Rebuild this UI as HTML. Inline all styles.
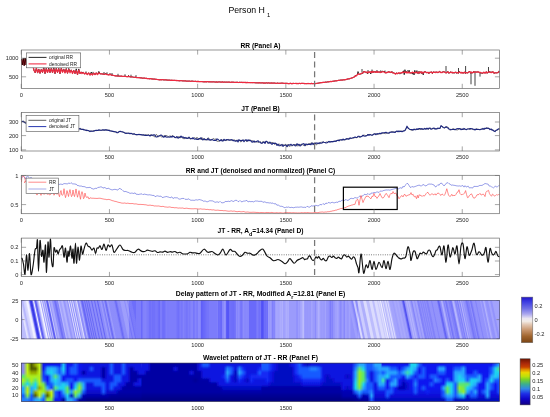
<!DOCTYPE html>
<html><head><meta charset="utf-8"><title>Person H1</title>
<style>html,body{margin:0;padding:0;background:#fff;} svg{display:block;}</style></head>
<body>
<svg width="550" height="417" viewBox="0 0 550 417">
<rect width="550" height="417" fill="#fff"/>
<text x="228.4" y="12.7" font-family="Liberation Sans, Arial, sans-serif" font-size="8.76" fill="#000">Person H<tspan font-size="5.9" dx="2.2" dy="4.4">1</tspan></text>
<polyline points="21.50,59.00 22.30,65.00 23.30,58.50 24.20,65.50 25.20,58.00 26.20,65.00 27.20,59.00 28.50,64.50 30.00,60.00 31.50,65.50 33.00,66.00 34.00,70.50 35.20,72.78 36.40,67.81 37.60,73.06 38.80,69.12 40.00,73.44 41.25,69.30 42.50,72.51 43.75,66.80 45.00,73.70 46.25,68.24 47.50,72.63 48.75,68.00 50.00,72.66 51.25,68.28 52.50,72.87 53.75,67.01 55.00,73.74 56.25,68.25 57.50,72.61 58.75,68.29 60.00,73.77 61.25,68.13 62.50,71.26 63.75,68.98 65.00,72.40 66.25,68.51 67.50,73.37 68.75,68.43 70.00,71.96 71.25,69.86 72.50,72.82 73.75,70.18 75.00,73.67 76.25,68.85 77.50,74.96 78.75,68.96 80.00,73.66 81.00,72.06 82.00,72.60 83.33,72.26 84.67,74.08 86.00,72.82 87.33,74.66 88.67,72.78 90.00,75.18 91.25,72.05 92.50,74.95 93.75,72.96 95.00,74.75 96.25,72.77 97.50,74.73 98.75,71.57 100.00,73.73 100.71,73.90 101.43,73.85 102.14,73.88 102.86,74.10 103.57,74.19 104.29,74.35 105.00,74.15 105.71,73.16 106.43,74.35 107.14,74.54 107.86,74.54 108.57,74.80 109.29,74.79 110.00,73.49 110.71,74.80 111.43,75.15 112.14,75.08 112.86,75.37 113.57,75.46 114.29,75.53 115.00,75.87 115.71,75.92 116.43,75.98 117.14,75.90 117.86,76.11 118.57,76.01 119.29,76.19 120.00,76.17 120.71,76.21 121.43,76.10 122.14,76.42 122.86,76.39 123.57,76.44 124.29,76.40 125.00,76.34 125.71,76.37 126.43,76.56 127.14,76.67 127.86,76.69 128.57,75.43 129.29,76.69 130.00,76.71 130.71,76.99 131.43,76.93 132.14,76.96 132.86,77.00 133.57,77.25 134.29,77.34 135.00,77.32 135.71,77.26 136.43,77.54 137.14,77.58 137.86,77.52 138.57,77.64 139.29,77.64 140.00,77.84 140.71,77.87 141.43,77.89 142.14,78.12 142.86,78.23 143.57,78.14 144.29,78.10 145.00,78.16 145.71,78.48 146.43,78.30 147.14,78.56 147.86,78.59 148.57,78.58 149.29,78.79 150.00,78.62 150.71,78.72 151.43,78.89 152.14,78.82 152.86,79.13 153.57,79.02 154.29,79.06 155.00,79.10 155.71,79.34 156.43,79.35 157.14,79.47 157.86,79.55 158.57,79.66 159.29,79.77 160.00,79.76 160.70,79.64 161.40,79.76 162.11,79.70 162.81,79.69 163.51,79.86 164.21,79.96 164.91,79.84 165.61,79.90 166.32,79.95 167.02,80.09 167.72,80.07 168.42,80.13 169.12,80.21 169.82,80.13 170.53,80.29 171.23,80.36 171.93,80.14 172.63,80.43 173.33,80.40 174.04,80.26 174.74,80.39 175.44,80.47 176.14,80.59 176.84,80.46 177.54,80.55 178.25,80.68 178.95,80.69 179.65,80.77 180.35,80.66 181.05,80.75 181.75,80.64 182.46,80.83 183.16,80.90 183.86,80.88 184.56,80.93 185.26,80.81 185.96,81.05 186.67,81.11 187.37,81.14 188.07,81.04 188.77,81.15 189.47,81.05 190.18,81.26 190.88,81.27 191.58,81.15 192.28,81.11 192.98,81.25 193.68,81.32 194.39,81.41 195.09,81.36 195.79,81.26 196.49,81.53 197.19,81.34 197.89,81.59 198.60,81.44 199.30,81.52 200.00,81.69 200.70,81.51 201.41,81.52 202.11,81.65 202.82,81.72 203.52,81.77 204.23,81.74 204.93,81.83 205.63,81.71 206.34,81.86 207.04,81.62 207.75,81.67 208.45,81.78 209.15,81.72 209.86,81.87 210.56,81.85 211.27,81.83 211.97,81.94 212.68,81.87 213.38,81.81 214.08,81.85 214.79,82.00 215.49,82.03 216.20,81.84 216.90,82.04 217.61,82.09 218.31,81.97 219.01,82.00 219.72,81.90 220.42,82.02 221.13,82.02 221.83,82.07 222.54,81.91 223.24,82.21 223.94,82.08 224.65,82.06 225.35,82.20 226.06,82.14 226.76,82.13 227.46,82.21 228.17,82.03 228.87,82.19 229.58,82.17 230.28,82.34 230.99,82.35 231.69,82.16 232.39,82.24 233.10,82.15 233.80,82.26 234.51,82.38 235.21,82.42 235.92,82.31 236.62,82.28 237.32,82.25 238.03,82.40 238.73,82.50 239.44,82.28 240.14,82.49 240.85,82.27 241.55,82.34 242.25,82.36 242.96,82.52 243.66,82.42 244.37,82.44 245.07,82.54 245.77,82.40 246.48,82.60 247.18,82.43 247.89,82.56 248.59,82.50 249.30,82.50 250.00,82.61 250.70,82.60 251.40,82.59 252.11,82.62 252.81,82.67 253.51,82.58 254.21,82.61 254.91,82.75 255.61,82.77 256.32,82.75 257.02,82.86 257.72,82.81 258.42,82.90 259.12,82.73 259.82,82.89 260.53,82.93 261.23,82.97 261.93,82.81 262.63,82.83 263.33,83.03 264.04,82.83 264.74,83.08 265.44,83.06 266.14,82.85 266.84,82.90 267.54,83.06 268.25,82.94 268.95,82.91 269.65,83.14 270.35,83.03 271.05,83.16 271.75,82.98 272.46,83.08 273.16,83.18 273.86,82.99 274.56,83.06 275.26,83.22 275.96,83.31 276.67,83.34 277.37,83.10 278.07,83.23 278.77,83.32 279.47,83.26 280.18,83.33 280.88,83.20 281.58,83.18 282.28,83.21 282.98,83.20 283.68,83.37 284.39,83.38 285.09,83.41 285.79,83.30 286.49,83.33 287.19,83.35 287.89,83.55 288.60,83.62 289.30,83.61 290.00,83.38 290.69,83.37 291.39,83.64 292.08,83.49 292.78,83.58 293.47,83.45 294.17,83.49 294.86,83.50 295.56,83.48 296.25,83.53 296.94,83.35 297.64,83.56 298.33,83.60 299.03,83.40 299.72,83.49 300.42,83.57 301.11,83.47 301.81,83.41 302.50,83.40 303.19,83.50 303.89,83.35 304.58,83.62 305.28,83.59 305.97,83.56 306.67,83.61 307.36,83.54 308.06,83.47 308.75,83.53 309.44,83.50 310.14,83.64 310.83,83.59 311.53,83.43 312.22,83.62 312.92,83.57 313.61,83.58 314.31,83.59 315.00,83.47 315.71,83.53 316.43,83.43 317.14,83.29 317.86,83.22 318.57,83.13 319.29,82.93 320.00,82.93 320.71,82.65 321.43,82.64 322.14,82.59 322.86,82.36 323.57,82.37 324.29,82.37 325.00,82.27 325.71,82.06 326.43,82.19 327.14,82.01 327.86,81.82 328.57,81.83 329.29,81.71 330.00,81.61 330.71,81.47 331.43,81.56 332.14,81.36 332.86,81.28 333.57,81.20 334.29,81.17 335.00,80.79 335.71,80.87 336.43,80.81 337.14,80.57 337.86,80.52 338.57,80.32 339.29,80.27 340.00,80.23 340.71,80.05 341.43,80.00 342.14,80.10 342.86,79.90 343.57,79.79 344.29,79.84 345.00,79.62 345.71,79.61 346.43,79.36 347.14,79.26 347.86,78.90 348.57,78.91 349.29,78.82 350.00,78.46 350.75,78.48 351.50,78.00 352.25,77.84 353.00,77.50 353.75,77.20 354.50,76.83 355.25,75.46 356.00,75.92 356.67,75.24 357.33,74.57 358.00,71.56 358.67,73.58 359.33,74.26 360.00,74.03 360.67,73.94 361.33,73.88 362.00,73.33 362.75,73.47 363.50,71.55 364.25,71.83 365.00,71.63 365.71,72.51 366.43,72.05 367.14,73.38 367.86,73.61 368.57,72.57 369.29,71.76 370.00,72.57 370.71,73.91 371.43,72.47 372.14,70.87 372.86,72.55 373.57,72.13 374.29,72.05 375.00,71.24 375.71,72.11 376.43,71.43 377.14,72.19 377.86,71.42 378.57,72.15 379.29,72.53 380.00,71.46 380.68,70.68 381.37,72.36 382.05,71.26 382.74,71.12 383.42,71.94 384.11,71.02 384.79,72.24 385.47,73.04 386.16,73.04 386.84,71.95 387.53,72.49 388.21,71.69 388.89,71.96 389.58,72.07 390.26,72.54 390.95,72.17 391.63,72.10 392.32,73.03 393.00,72.36 393.67,72.78 394.33,73.28 395.00,73.13 395.67,74.09 396.33,72.91 397.00,73.36 397.75,73.79 398.50,73.03 399.25,73.76 400.00,73.13 400.70,73.61 401.41,72.98 402.11,73.01 402.82,72.29 403.52,70.77 404.23,74.69 404.93,69.70 405.63,72.46 406.34,71.71 407.04,71.33 407.75,70.54 408.45,72.63 409.15,70.23 409.86,73.23 410.56,72.86 411.27,73.08 411.97,72.55 412.68,74.17 413.38,73.09 414.08,74.95 414.79,70.33 415.49,72.71 416.20,72.54 416.90,70.59 417.61,73.33 418.31,73.60 419.01,71.28 419.72,73.41 420.42,72.72 421.13,71.64 421.83,73.71 422.54,71.99 423.24,74.90 423.94,71.91 424.65,71.59 425.35,71.65 426.06,72.03 426.76,72.73 427.46,72.42 428.17,72.20 428.87,73.69 429.58,72.25 430.28,72.41 430.99,71.99 431.69,71.86 432.39,73.70 433.10,71.98 433.80,71.90 434.51,72.31 435.21,72.00 435.92,72.51 436.62,72.07 437.32,72.54 438.03,72.77 438.73,72.42 439.44,71.26 440.14,71.80 440.85,72.51 441.55,72.56 442.25,72.19 442.96,71.54 443.66,71.58 444.37,71.99 445.07,72.28 445.77,72.96 446.48,72.92 447.18,71.99 447.89,71.36 448.59,73.28 449.30,73.13 450.00,72.13 450.70,71.91 451.39,72.30 452.09,72.17 452.79,73.29 453.49,72.28 454.18,73.33 454.88,72.35 455.58,72.04 456.27,73.31 456.97,72.65 457.67,72.75 458.37,73.40 459.06,71.39 459.76,71.98 460.46,72.62 461.15,73.10 461.85,71.95 462.55,72.96 463.25,73.24 463.94,72.58 464.64,72.35 465.34,73.68 466.04,72.22 466.73,72.82 467.43,72.92 468.13,72.87 468.82,71.83 469.52,71.10 470.22,72.26 470.92,73.42 471.61,72.19 472.31,72.75 473.01,72.88 473.70,71.15 474.40,71.98 475.10,72.25 475.80,71.78 476.49,72.00 477.19,72.21 477.89,71.67 478.58,72.16 479.28,72.57 479.98,72.35 480.68,73.03 481.37,72.88 482.07,73.71 482.77,73.00 483.46,72.34 484.16,73.22 484.86,72.38 485.56,73.01 486.25,71.75 486.95,73.42 487.65,72.84 488.35,72.11 489.04,71.18 489.74,72.30 490.44,71.75 491.13,72.81 491.83,71.70 492.53,71.93 493.23,71.97 493.92,73.48 494.62,73.04 495.32,72.72 496.01,72.95 496.71,72.79 497.41,72.60 498.11,72.92 498.80,71.17 499.50,71.83" fill="none" stroke="#000" stroke-width="0.8" stroke-linejoin="round" />
<line x1="86" y1="73.60" x2="86" y2="71.40" stroke="#111" stroke-width="0.8"/>
<line x1="93" y1="74.08" x2="93" y2="71.88" stroke="#111" stroke-width="0.8"/>
<line x1="99" y1="73.84" x2="99" y2="71.64" stroke="#111" stroke-width="0.8"/>
<line x1="104" y1="74.20" x2="104" y2="72.00" stroke="#111" stroke-width="0.8"/>
<line x1="107" y1="74.50" x2="107" y2="72.30" stroke="#111" stroke-width="0.8"/>
<line x1="112" y1="75.20" x2="112" y2="73.00" stroke="#111" stroke-width="0.8"/>
<line x1="118" y1="76.00" x2="118" y2="73.80" stroke="#111" stroke-width="0.8"/>
<line x1="125" y1="76.47" x2="125" y2="74.27" stroke="#111" stroke-width="0.8"/>
<line x1="131" y1="76.90" x2="131" y2="74.70" stroke="#111" stroke-width="0.8"/>
<line x1="136" y1="77.40" x2="136" y2="75.20" stroke="#111" stroke-width="0.8"/>
<line x1="446" y1="72.40" x2="446" y2="66.00" stroke="#111" stroke-width="0.8"/>
<line x1="458.5" y1="72.40" x2="458.5" y2="68.00" stroke="#111" stroke-width="0.8"/>
<line x1="465.6" y1="72.40" x2="465.6" y2="66.00" stroke="#111" stroke-width="0.8"/>
<line x1="471" y1="72.40" x2="471" y2="84.30" stroke="#111" stroke-width="0.8"/>
<line x1="475" y1="72.40" x2="475" y2="85.80" stroke="#111" stroke-width="0.8"/>
<line x1="480" y1="72.40" x2="480" y2="76.60" stroke="#111" stroke-width="0.8"/>
<line x1="488.5" y1="72.40" x2="488.5" y2="67.00" stroke="#111" stroke-width="0.8"/>
<line x1="372" y1="72.40" x2="372" y2="69.50" stroke="#111" stroke-width="0.8"/>
<line x1="368" y1="72.40" x2="368" y2="70.00" stroke="#111" stroke-width="0.8"/>
<line x1="385" y1="72.40" x2="385" y2="70.50" stroke="#111" stroke-width="0.8"/>
<line x1="362" y1="72.40" x2="362" y2="69.00" stroke="#111" stroke-width="0.8"/>
<line x1="377" y1="72.40" x2="377" y2="70.00" stroke="#111" stroke-width="0.8"/>
<line x1="392" y1="72.40" x2="392" y2="71.00" stroke="#111" stroke-width="0.8"/>
<polyline points="21.50,60.00 22.30,64.50 23.30,59.50 24.20,65.00 25.20,59.00 26.20,64.50 27.20,60.00 28.50,64.00 30.00,61.00 31.50,65.00 33.00,66.00 34.00,70.50 35.20,72.34 36.40,68.39 37.60,72.61 38.80,69.48 40.00,72.96 41.25,69.62 42.50,72.18 43.75,68.78 45.00,73.11 46.25,68.75 47.50,72.46 48.75,69.07 50.00,72.23 51.25,68.74 52.50,72.42 53.75,68.94 55.00,73.14 56.25,68.76 57.50,72.35 58.75,68.82 60.00,73.22 61.25,68.71 62.50,72.33 63.75,69.42 65.00,72.93 66.25,69.18 67.50,72.97 68.75,69.33 70.00,72.82 71.25,70.21 72.50,73.49 73.75,70.52 75.00,73.34 76.25,70.67 77.50,74.41 78.75,70.11 80.00,73.43 81.00,72.20 82.00,73.61 83.33,72.54 84.67,73.95 86.00,72.98 87.33,74.49 88.67,73.02 90.00,74.99 91.25,73.56 92.50,75.01 93.75,73.18 95.00,74.60 96.25,73.01 97.50,74.61 98.75,72.87 100.00,73.73 100.71,73.90 101.43,73.85 102.14,73.88 102.86,74.10 103.57,74.19 104.29,74.35 105.00,74.15 105.71,73.88 106.43,74.35 107.14,74.54 107.86,74.54 108.57,74.80 109.29,74.79 110.00,74.21 110.71,74.80 111.43,75.15 112.14,75.08 112.86,75.37 113.57,75.46 114.29,75.53 115.00,75.87 115.71,75.92 116.43,75.98 117.14,75.90 117.86,76.11 118.57,76.01 119.29,76.19 120.00,76.17 120.71,76.21 121.43,76.10 122.14,76.42 122.86,76.39 123.57,76.44 124.29,76.40 125.00,76.34 125.71,76.37 126.43,76.56 127.14,76.67 127.86,76.69 128.57,76.15 129.29,76.69 130.00,76.71 130.71,76.99 131.43,76.93 132.14,76.96 132.86,77.00 133.57,77.25 134.29,77.34 135.00,77.32 135.71,77.26 136.43,77.54 137.14,77.58 137.86,77.52 138.57,77.64 139.29,77.64 140.00,77.84 140.71,77.87 141.43,77.89 142.14,78.12 142.86,78.23 143.57,78.14 144.29,78.10 145.00,78.16 145.71,78.48 146.43,78.30 147.14,78.56 147.86,78.59 148.57,78.58 149.29,78.79 150.00,78.62 150.71,78.72 151.43,78.89 152.14,78.82 152.86,79.13 153.57,79.02 154.29,79.06 155.00,79.10 155.71,79.34 156.43,79.35 157.14,79.47 157.86,79.55 158.57,79.66 159.29,79.77 160.00,79.76 160.70,79.64 161.40,79.76 162.11,79.70 162.81,79.69 163.51,79.86 164.21,79.96 164.91,79.84 165.61,79.90 166.32,79.95 167.02,80.09 167.72,80.07 168.42,80.13 169.12,80.21 169.82,80.13 170.53,80.29 171.23,80.36 171.93,80.14 172.63,80.43 173.33,80.40 174.04,80.26 174.74,80.39 175.44,80.47 176.14,80.59 176.84,80.46 177.54,80.55 178.25,80.68 178.95,80.69 179.65,80.77 180.35,80.66 181.05,80.75 181.75,80.64 182.46,80.83 183.16,80.90 183.86,80.88 184.56,80.93 185.26,80.81 185.96,81.05 186.67,81.11 187.37,81.14 188.07,81.04 188.77,81.15 189.47,81.05 190.18,81.26 190.88,81.27 191.58,81.15 192.28,81.11 192.98,81.25 193.68,81.32 194.39,81.41 195.09,81.36 195.79,81.26 196.49,81.53 197.19,81.34 197.89,81.59 198.60,81.44 199.30,81.52 200.00,81.69 200.70,81.51 201.41,81.52 202.11,81.65 202.82,81.72 203.52,81.77 204.23,81.74 204.93,81.83 205.63,81.71 206.34,81.86 207.04,81.62 207.75,81.67 208.45,81.78 209.15,81.72 209.86,81.87 210.56,81.85 211.27,81.83 211.97,81.94 212.68,81.87 213.38,81.81 214.08,81.85 214.79,82.00 215.49,82.03 216.20,81.84 216.90,82.04 217.61,82.09 218.31,81.97 219.01,82.00 219.72,81.90 220.42,82.02 221.13,82.02 221.83,82.07 222.54,81.91 223.24,82.21 223.94,82.08 224.65,82.06 225.35,82.20 226.06,82.14 226.76,82.13 227.46,82.21 228.17,82.03 228.87,82.19 229.58,82.17 230.28,82.34 230.99,82.35 231.69,82.16 232.39,82.24 233.10,82.15 233.80,82.26 234.51,82.38 235.21,82.42 235.92,82.31 236.62,82.28 237.32,82.25 238.03,82.40 238.73,82.50 239.44,82.28 240.14,82.49 240.85,82.27 241.55,82.34 242.25,82.36 242.96,82.52 243.66,82.42 244.37,82.44 245.07,82.54 245.77,82.40 246.48,82.60 247.18,82.43 247.89,82.56 248.59,82.50 249.30,82.50 250.00,82.61 250.70,82.60 251.40,82.59 252.11,82.62 252.81,82.67 253.51,82.58 254.21,82.61 254.91,82.75 255.61,82.77 256.32,82.75 257.02,82.86 257.72,82.81 258.42,82.90 259.12,82.73 259.82,82.89 260.53,82.93 261.23,82.97 261.93,82.81 262.63,82.83 263.33,83.03 264.04,82.83 264.74,83.08 265.44,83.06 266.14,82.85 266.84,82.90 267.54,83.06 268.25,82.94 268.95,82.91 269.65,83.14 270.35,83.03 271.05,83.16 271.75,82.98 272.46,83.08 273.16,83.18 273.86,82.99 274.56,83.06 275.26,83.22 275.96,83.31 276.67,83.34 277.37,83.10 278.07,83.23 278.77,83.32 279.47,83.26 280.18,83.33 280.88,83.20 281.58,83.18 282.28,83.21 282.98,83.20 283.68,83.37 284.39,83.38 285.09,83.41 285.79,83.30 286.49,83.33 287.19,83.35 287.89,83.55 288.60,83.62 289.30,83.61 290.00,83.38 290.69,83.37 291.39,83.64 292.08,83.49 292.78,83.58 293.47,83.45 294.17,83.49 294.86,83.50 295.56,83.48 296.25,83.53 296.94,83.35 297.64,83.56 298.33,83.60 299.03,83.40 299.72,83.49 300.42,83.57 301.11,83.47 301.81,83.41 302.50,83.40 303.19,83.50 303.89,83.35 304.58,83.62 305.28,83.59 305.97,83.56 306.67,83.61 307.36,83.54 308.06,83.47 308.75,83.53 309.44,83.50 310.14,83.64 310.83,83.59 311.53,83.43 312.22,83.62 312.92,83.57 313.61,83.58 314.31,83.59 315.00,83.47 315.71,83.53 316.43,83.43 317.14,83.29 317.86,83.22 318.57,83.13 319.29,82.93 320.00,82.93 320.71,82.65 321.43,82.64 322.14,82.59 322.86,82.36 323.57,82.37 324.29,82.37 325.00,82.27 325.71,82.06 326.43,82.19 327.14,82.01 327.86,81.82 328.57,81.83 329.29,81.71 330.00,81.61 330.71,81.47 331.43,81.56 332.14,81.36 332.86,81.28 333.57,81.20 334.29,81.17 335.00,80.79 335.71,80.87 336.43,80.81 337.14,80.57 337.86,80.52 338.57,80.32 339.29,80.27 340.00,80.23 340.71,80.05 341.43,80.00 342.14,80.10 342.86,79.90 343.57,79.79 344.29,79.84 345.00,79.62 345.71,79.61 346.43,79.36 347.14,79.26 347.86,78.90 348.57,78.91 349.29,78.82 350.00,78.46 350.75,78.48 351.50,78.00 352.25,77.84 353.00,77.50 353.75,77.20 354.50,76.83 355.25,75.78 356.00,76.04 356.67,75.30 357.33,74.90 358.00,74.12 358.67,73.89 359.33,74.49 360.00,74.18 360.67,73.73 361.33,73.50 362.00,73.11 362.75,73.10 363.50,71.81 364.25,71.86 365.00,71.67 365.71,72.13 366.43,72.07 367.14,72.87 367.86,71.80 368.57,72.55 369.29,71.82 370.00,72.26 370.71,71.69 371.43,72.70 372.14,71.49 372.86,72.27 373.57,71.49 374.29,72.15 375.00,72.04 375.71,72.40 376.43,71.52 377.14,72.41 377.86,71.69 378.57,72.23 379.29,72.08 380.00,71.90 380.68,72.55 381.37,72.14 382.05,71.80 382.74,71.70 383.42,71.86 384.11,71.85 384.79,72.50 385.47,72.50 386.16,72.85 386.84,72.69 387.53,72.15 388.21,71.96 388.89,72.15 389.58,71.94 390.26,72.45 390.95,71.97 391.63,72.14 392.32,72.54 393.00,72.71 393.67,73.17 394.33,73.11 395.00,73.72 395.67,74.21 396.33,73.04 397.00,73.37 397.75,73.53 398.50,72.80 399.25,73.21 400.00,72.73 400.70,72.97 401.41,72.69 402.11,72.92 402.82,72.00 403.52,72.32 404.23,72.39 404.93,71.87 405.63,72.70 406.34,71.87 407.04,73.06 407.75,72.04 408.45,72.79 409.15,72.04 409.86,72.84 410.56,72.92 411.27,73.02 411.97,72.54 412.68,72.08 413.38,72.90 414.08,72.49 414.79,72.69 415.49,72.43 416.20,72.77 416.90,71.99 417.61,72.98 418.31,73.15 419.01,71.97 419.72,72.91 420.42,71.87 421.13,71.89 421.83,73.09 422.54,72.18 423.24,73.04 423.94,72.04 424.65,71.97 425.35,72.18 426.06,72.18 426.76,72.75 427.46,72.71 428.17,72.30 428.87,73.10 429.58,72.66 430.28,72.27 430.99,72.07 431.69,72.38 432.39,73.12 433.10,72.02 433.80,72.14 434.51,72.49 435.21,72.20 435.92,72.66 436.62,72.01 437.32,72.19 438.03,72.51 438.73,72.19 439.44,71.85 440.14,71.85 440.85,72.71 441.55,72.28 442.25,72.55 442.96,72.03 443.66,71.89 444.37,71.81 445.07,72.31 445.77,72.61 446.48,72.86 447.18,72.17 447.89,71.73 448.59,72.68 449.30,72.81 450.00,72.55 450.70,72.16 451.39,72.61 452.09,72.23 452.79,72.80 453.49,72.56 454.18,72.77 454.88,72.47 455.58,72.40 456.27,72.70 456.97,72.42 457.67,72.87 458.37,73.02 459.06,71.98 459.76,72.04 460.46,72.68 461.15,73.00 461.85,72.35 462.55,73.06 463.25,72.97 463.94,72.49 464.64,72.07 465.34,73.09 466.04,72.54 466.73,72.85 467.43,72.96 468.13,72.50 468.82,71.96 469.52,71.81 470.22,71.95 470.92,73.02 471.61,72.13 472.31,72.73 473.01,72.53 473.70,71.72 474.40,72.36 475.10,72.24 475.80,71.94 476.49,72.07 477.19,72.16 477.89,71.75 478.58,71.90 479.28,72.54 479.98,72.28 480.68,72.67 481.37,72.75 482.07,73.09 482.77,72.90 483.46,72.31 484.16,72.97 484.86,72.44 485.56,72.97 486.25,71.78 486.95,72.96 487.65,72.54 488.35,72.13 489.04,71.80 489.74,72.33 490.44,72.26 491.13,72.67 491.83,72.03 492.53,72.25 493.23,71.80 493.92,73.05 494.62,72.91 495.32,72.83 496.01,72.75 496.71,72.96 497.41,72.81 498.11,72.45 498.80,71.70 499.50,72.12" fill="none" stroke="#ee2a40" stroke-width="1.25" stroke-linejoin="round" />
<polyline points="21.50,59.00 22.30,65.00 23.30,58.50 24.20,65.50 25.20,58.00 26.20,65.00 27.20,59.00" fill="none" stroke="#2a0000" stroke-width="0.9" stroke-linejoin="round" />
<line x1="314.6" y1="52.0" x2="314.6" y2="88.4" stroke="#777" stroke-width="1.25" stroke-dasharray="6,3.6"/>
<line x1="21.25" y1="88.4" x2="21.25" y2="83.80000000000001" stroke="#6a6a6a" stroke-width="0.6"/>
<line x1="21.25" y1="50.0" x2="21.25" y2="54.6" stroke="#6a6a6a" stroke-width="0.6"/>
<line x1="109.45" y1="88.4" x2="109.45" y2="83.80000000000001" stroke="#6a6a6a" stroke-width="0.6"/>
<line x1="109.45" y1="50.0" x2="109.45" y2="54.6" stroke="#6a6a6a" stroke-width="0.6"/>
<line x1="197.65" y1="88.4" x2="197.65" y2="83.80000000000001" stroke="#6a6a6a" stroke-width="0.6"/>
<line x1="197.65" y1="50.0" x2="197.65" y2="54.6" stroke="#6a6a6a" stroke-width="0.6"/>
<line x1="285.85" y1="88.4" x2="285.85" y2="83.80000000000001" stroke="#6a6a6a" stroke-width="0.6"/>
<line x1="285.85" y1="50.0" x2="285.85" y2="54.6" stroke="#6a6a6a" stroke-width="0.6"/>
<line x1="374.05" y1="88.4" x2="374.05" y2="83.80000000000001" stroke="#6a6a6a" stroke-width="0.6"/>
<line x1="374.05" y1="50.0" x2="374.05" y2="54.6" stroke="#6a6a6a" stroke-width="0.6"/>
<line x1="462.25" y1="88.4" x2="462.25" y2="83.80000000000001" stroke="#6a6a6a" stroke-width="0.6"/>
<line x1="462.25" y1="50.0" x2="462.25" y2="54.6" stroke="#6a6a6a" stroke-width="0.6"/>
<line x1="21.5" y1="58.2" x2="26.1" y2="58.2" stroke="#6a6a6a" stroke-width="0.6"/>
<line x1="499.5" y1="58.2" x2="494.9" y2="58.2" stroke="#6a6a6a" stroke-width="0.6"/>
<text x="18.4" y="60.25" font-family="Liberation Sans, Arial, sans-serif" font-size="5.7" fill="#262626" text-anchor="end">1000</text>
<line x1="21.5" y1="76.8" x2="26.1" y2="76.8" stroke="#6a6a6a" stroke-width="0.6"/>
<line x1="499.5" y1="76.8" x2="494.9" y2="76.8" stroke="#6a6a6a" stroke-width="0.6"/>
<text x="18.4" y="78.85" font-family="Liberation Sans, Arial, sans-serif" font-size="5.7" fill="#262626" text-anchor="end">500</text>
<text x="21.25" y="96.5" font-family="Liberation Sans, Arial, sans-serif" font-size="5.7" fill="#262626" text-anchor="middle">0</text>
<text x="109.45" y="96.5" font-family="Liberation Sans, Arial, sans-serif" font-size="5.7" fill="#262626" text-anchor="middle">500</text>
<text x="197.65" y="96.5" font-family="Liberation Sans, Arial, sans-serif" font-size="5.7" fill="#262626" text-anchor="middle">1000</text>
<text x="285.85" y="96.5" font-family="Liberation Sans, Arial, sans-serif" font-size="5.7" fill="#262626" text-anchor="middle">1500</text>
<text x="374.05" y="96.5" font-family="Liberation Sans, Arial, sans-serif" font-size="5.7" fill="#262626" text-anchor="middle">2000</text>
<text x="462.25" y="96.5" font-family="Liberation Sans, Arial, sans-serif" font-size="5.7" fill="#262626" text-anchor="middle">2500</text>
<rect x="21.5" y="50.0" width="478.0" height="38.4" fill="none" stroke="#6a6a6a" stroke-width="0.7"/>
<rect x="26.3" y="52.9" width="54.4" height="14.9" fill="#fff" stroke="#555" stroke-width="0.6"/>
<line x1="28.6" y1="57.4" x2="46.5" y2="57.4" stroke="#111" stroke-width="0.9"/>
<text x="49.1" y="59.199999999999996" font-family="Liberation Sans, Arial, sans-serif" font-size="4.85" fill="#1a1a1a">original RR</text>
<line x1="28.6" y1="63.9" x2="46.5" y2="63.9" stroke="#f03048" stroke-width="1.1"/>
<text x="49.1" y="65.7" font-family="Liberation Sans, Arial, sans-serif" font-size="4.85" fill="#1a1a1a">denoised RR</text>
<text x="260.5" y="48.0" font-family="Liberation Sans, Arial, sans-serif" font-size="6.65" font-weight="bold" fill="#000" text-anchor="middle">RR (Panel A)</text>
<polyline points="21.50,121.86 22.25,121.58 23.00,120.99 24.00,121.54 25.00,122.06 26.00,122.94 27.00,123.07 28.00,123.63 29.00,123.59 30.00,124.24 31.00,123.90 32.00,124.47 33.00,124.50 34.00,124.32 35.00,124.53 36.00,124.76 37.00,124.43 38.00,124.85 39.00,125.17 40.00,124.79 41.00,125.37 42.00,125.36 43.00,125.60 44.00,125.26 45.00,125.14 46.00,125.86 47.00,125.97 48.00,125.75 49.00,125.54 50.00,125.73 51.00,126.22 52.00,126.02 53.00,126.70 54.00,126.48 55.00,126.24 56.00,126.74 57.00,126.58 58.00,127.18 59.00,127.26 60.00,127.01 61.00,127.22 62.00,127.35 63.00,127.54 64.00,127.78 65.00,127.04 66.00,127.42 67.00,127.72 68.00,127.55 69.00,127.89 70.00,127.54 71.00,128.32 72.00,128.10 73.00,127.83 74.00,128.40 75.00,128.18 76.00,128.17 77.00,128.52 78.00,128.30 79.00,128.45 80.00,129.12 81.00,129.22 82.00,128.87 83.00,129.79 84.00,129.38 85.00,129.90 86.00,130.66 87.00,130.66 88.00,130.63 89.00,130.94 90.00,131.20 91.00,130.84 92.00,131.48 93.00,130.52 94.00,130.71 95.00,130.87 96.00,130.43 97.00,130.81 98.00,130.04 99.00,130.55 100.00,130.35 101.00,130.15 102.00,130.34 103.00,129.95 104.00,130.29 105.00,130.26 106.00,130.01 107.00,129.97 108.00,130.18 109.00,130.24 110.00,130.29 111.00,131.19 112.00,131.09 113.00,131.55 114.00,132.07 115.00,131.79 116.00,131.92 117.00,132.27 118.00,132.35 119.00,131.83 120.00,131.41 121.00,131.26 122.00,132.10 123.00,131.93 124.00,132.50 125.00,133.33 126.00,133.21 127.00,133.02 128.00,133.32 129.00,133.44 130.00,133.26 131.00,133.58 132.00,133.63 133.00,134.18 134.00,133.87 135.00,134.28 136.00,134.66 137.00,134.73 138.00,134.37 139.00,134.68 140.00,134.54 141.00,134.67 142.00,134.81 143.00,135.15 144.00,135.33 145.00,134.83 146.00,134.64 147.00,135.09 148.00,134.81 149.00,134.85 150.00,136.11 151.00,134.28 152.00,136.07 153.00,135.12 154.00,136.83 155.00,136.65 156.00,134.45 157.00,134.88 158.00,137.10 159.00,136.21 160.00,135.73 161.00,136.82 162.00,136.97 163.00,136.11 164.00,136.11 165.00,135.12 166.00,135.93 167.00,135.37 168.00,136.81 169.00,136.82 170.00,135.56 171.00,137.00 172.00,135.55 173.00,135.63 174.00,137.24 175.00,136.78 176.00,138.09 177.00,137.38 178.00,137.65 179.00,136.07 180.00,138.15 181.00,136.07 182.00,137.67 183.00,138.57 184.00,138.63 185.00,138.65 186.00,137.45 187.00,138.21 188.00,138.55 189.00,136.75 190.00,139.12 191.00,139.08 192.00,137.81 193.00,138.84 194.00,137.96 195.00,137.54 196.00,138.85 197.00,137.06 198.00,139.23 199.00,139.80 200.00,137.89 201.00,139.85 202.00,137.50 203.00,139.81 204.00,138.25 205.00,140.31 206.00,138.87 207.00,140.37 208.00,137.92 209.00,138.17 210.00,140.35 211.00,139.94 212.00,139.74 213.00,138.40 214.00,138.90 215.00,139.55 216.00,138.74 217.00,141.53 218.00,140.97 219.00,141.59 220.00,140.97 221.00,139.98 222.00,139.25 223.00,141.15 224.00,139.42 225.00,140.68 226.00,140.48 227.00,140.59 228.00,139.43 229.00,139.45 230.00,140.76 231.00,139.39 232.00,140.83 233.00,139.79 234.00,140.20 235.00,139.85 236.00,141.08 237.00,140.59 238.00,140.15 239.00,140.17 240.00,141.18 241.00,142.14 242.00,140.71 243.00,139.95 244.00,140.36 245.00,140.11 246.00,141.03 247.00,141.61 248.00,140.96 249.00,139.84 250.00,140.20 251.00,140.47 252.00,140.76 253.00,140.75 254.00,142.58 255.00,141.42 256.00,141.85 257.00,142.12 258.00,142.04 259.00,142.61 260.00,141.48 261.00,142.44 262.00,143.43 263.00,141.23 264.00,142.67 265.00,142.10 266.00,141.28 267.00,141.34 268.00,143.51 269.00,141.78 270.00,143.60 271.00,142.02 272.00,142.95 273.00,142.16 274.00,143.79 275.00,144.65 276.00,143.22 277.00,144.35 278.00,145.54 279.00,143.91 280.00,144.58 281.00,145.47 282.00,146.04 283.00,144.22 284.00,145.79 285.00,144.41 286.00,144.34 287.00,146.79 288.00,144.07 289.00,146.51 290.00,145.98 291.00,145.72 292.00,145.83 293.00,145.56 294.00,144.47 295.00,144.87 296.00,144.13 297.00,145.97 298.00,145.69 299.00,145.67 300.00,143.98 301.00,144.99 302.00,143.96 303.00,145.42 304.00,145.21 305.00,145.86 306.00,144.97 307.00,144.83 308.00,145.02 309.00,143.00 310.00,144.36 311.00,142.68 312.00,143.56 313.00,142.78 314.00,145.08 315.00,142.33 316.00,144.77 317.00,144.72 318.00,143.14 319.00,144.16 320.00,142.40 321.00,142.41 322.00,142.10 323.00,142.07 324.00,141.85 325.00,143.00 326.00,141.74 327.00,142.40 328.00,141.79 329.00,141.45 330.00,141.78 331.00,141.24 332.00,142.28 333.00,141.20 334.00,141.34 335.00,141.12 336.00,141.05 337.00,140.64 338.00,140.15 339.00,139.77 340.00,140.75 341.00,139.50 342.00,139.72 343.00,140.10 344.00,139.57 345.00,139.97 346.00,139.58 347.00,138.95 348.00,138.16 349.00,138.72 350.00,138.36 351.00,138.76 352.00,138.06 353.00,138.12 354.00,138.11 355.00,137.39 356.00,137.77 357.00,137.66 358.00,136.32 359.00,137.31 360.00,137.04 361.00,136.82 362.00,135.83 363.00,135.50 364.00,135.13 365.00,135.30 366.00,135.92 367.00,135.04 368.00,134.36 369.00,134.69 370.00,134.22 371.00,134.93 372.00,135.03 373.00,135.14 374.00,133.73 375.00,134.05 376.00,133.53 377.00,134.61 378.00,134.37 379.00,133.76 380.00,134.30 381.00,133.52 382.00,133.81 383.00,133.25 384.00,132.95 385.00,133.81 386.00,133.47 387.00,132.97 388.00,133.29 389.00,132.84 390.00,132.96 391.00,131.71 392.00,131.69 393.00,131.54 394.00,132.18 395.00,132.24 396.00,131.25 397.00,131.67 398.00,130.94 399.00,131.71 400.00,131.73 401.00,130.56 402.00,131.84 403.00,131.25 404.00,130.32 405.00,130.57 406.00,128.12 407.00,126.85 408.00,128.31 409.00,128.33 410.00,129.51 411.00,130.10 412.00,130.35 413.00,130.07 414.00,129.53 415.00,128.90 416.00,129.58 417.00,129.23 418.00,129.67 419.00,129.21 420.00,129.36 421.00,129.70 422.00,129.13 423.00,129.54 424.00,128.53 425.00,128.08 426.00,129.41 427.00,128.07 428.00,129.52 429.00,128.66 430.00,128.02 431.00,128.32 432.00,128.98 433.00,128.43 434.00,128.77 435.00,127.94 436.00,129.04 437.00,128.29 438.00,128.97 439.00,127.89 440.00,128.66 441.00,125.95 442.00,126.52 443.00,126.59 444.00,128.05 445.00,128.19 446.00,126.72 447.00,126.92 448.00,127.05 449.00,129.36 450.00,130.12 451.00,129.65 452.00,129.33 453.00,128.68 454.00,128.74 455.00,129.62 456.00,129.73 457.00,130.01 458.00,129.80 459.00,129.12 460.00,128.82 461.00,129.24 462.00,128.92 463.00,129.21 464.00,129.71 465.00,129.03 466.00,129.82 467.00,129.40 468.00,128.34 469.00,129.40 470.00,129.25 471.00,129.29 472.00,128.44 473.00,129.88 474.00,129.39 475.00,129.56 476.00,129.09 477.00,128.98 478.00,129.05 479.00,129.45 480.00,129.70 481.00,129.14 482.00,128.66 483.00,129.36 484.00,129.00 485.00,128.95 486.00,127.59 487.00,128.05 488.00,128.30 489.00,127.97 490.00,129.63 491.00,129.28 492.00,129.46 493.00,129.91 494.00,131.50 495.00,130.87 496.12,130.55 497.25,130.22 498.38,129.36 499.50,129.24" fill="none" stroke="#555" stroke-width="0.7" stroke-linejoin="round" />
<polyline points="21.50,121.70 22.25,121.49 23.00,121.24 24.00,122.10 25.00,122.69 26.00,123.14 27.00,122.72 28.00,123.37 29.00,124.05 30.00,124.12 31.00,124.42 32.00,123.89 33.00,124.28 34.00,124.20 35.00,124.54 36.00,124.66 37.00,124.31 38.00,124.57 39.00,124.72 40.00,125.33 41.00,125.31 42.00,124.93 43.00,125.54 44.00,125.11 45.00,125.59 46.00,125.30 47.00,125.30 48.00,126.10 49.00,125.67 50.00,125.77 51.00,126.49 52.00,126.50 53.00,126.13 54.00,126.77 55.00,126.53 56.00,126.74 57.00,126.46 58.00,127.15 59.00,127.05 60.00,127.37 61.00,127.40 62.00,127.02 63.00,127.16 64.00,127.09 65.00,127.17 66.00,127.19 67.00,127.47 68.00,127.80 69.00,127.41 70.00,128.04 71.00,127.86 72.00,127.93 73.00,128.42 74.00,128.24 75.00,128.20 76.00,128.42 77.00,128.69 78.00,128.27 79.00,129.09 80.00,128.42 81.00,129.25 82.00,129.58 83.00,129.16 84.00,130.03 85.00,129.94 86.00,130.36 87.00,130.16 88.00,130.44 89.00,130.79 90.00,131.66 91.00,130.93 92.00,131.24 93.00,131.25 94.00,131.13 95.00,130.53 96.00,130.40 97.00,130.41 98.00,130.48 99.00,129.82 100.00,130.20 101.00,130.24 102.00,130.29 103.00,129.63 104.00,130.36 105.00,129.67 106.00,129.87 107.00,130.09 108.00,130.33 109.00,130.20 110.00,130.99 111.00,131.01 112.00,131.15 113.00,131.41 114.00,131.56 115.00,131.74 116.00,132.06 117.00,132.75 118.00,132.67 119.00,131.68 120.00,131.26 121.00,131.69 122.00,131.75 123.00,132.07 124.00,132.36 125.00,133.08 126.00,133.38 127.00,133.19 128.00,133.28 129.00,133.10 130.00,133.90 131.00,133.31 132.00,133.79 133.00,134.18 134.00,133.73 135.00,134.32 136.00,134.61 137.00,134.47 138.00,134.71 139.00,134.27 140.00,134.65 141.00,134.48 142.00,135.10 143.00,134.72 144.00,134.91 145.00,135.41 146.00,135.36 147.00,135.52 148.00,135.16 149.00,135.25 150.00,135.92 151.00,135.33 152.00,134.91 153.00,135.26 154.00,134.66 155.00,135.32 156.00,136.97 157.00,136.96 158.00,136.16 159.00,135.89 160.00,135.53 161.00,134.94 162.00,135.48 163.00,136.87 164.00,137.16 165.00,135.90 166.00,137.07 167.00,137.10 168.00,136.96 169.00,136.94 170.00,137.25 171.00,136.28 172.00,137.23 173.00,136.19 174.00,136.79 175.00,137.59 176.00,137.45 177.00,136.48 178.00,138.23 179.00,137.53 180.00,137.41 181.00,136.00 182.00,137.45 183.00,136.75 184.00,137.91 185.00,137.43 186.00,138.41 187.00,138.04 188.00,138.49 189.00,137.39 190.00,138.22 191.00,138.53 192.00,138.83 193.00,137.66 194.00,139.00 195.00,139.14 196.00,138.73 197.00,139.54 198.00,139.56 199.00,138.48 200.00,138.58 201.00,137.73 202.00,139.57 203.00,139.92 204.00,138.82 205.00,139.47 206.00,139.64 207.00,139.76 208.00,138.41 209.00,140.08 210.00,139.66 211.00,139.98 212.00,139.43 213.00,140.06 214.00,140.54 215.00,140.28 216.00,140.59 217.00,138.89 218.00,139.33 219.00,140.15 220.00,140.79 221.00,139.70 222.00,140.94 223.00,140.83 224.00,139.33 225.00,140.48 226.00,139.87 227.00,139.45 228.00,139.69 229.00,140.20 230.00,139.87 231.00,139.93 232.00,139.55 233.00,140.70 234.00,140.51 235.00,141.14 236.00,141.11 237.00,140.23 238.00,141.99 239.00,139.67 240.00,140.75 241.00,140.39 242.00,140.71 243.00,139.91 244.00,141.74 245.00,140.52 246.00,139.61 247.00,141.09 248.00,139.71 249.00,140.85 250.00,140.28 251.00,141.03 252.00,142.12 253.00,141.87 254.00,140.95 255.00,142.09 256.00,141.76 257.00,141.17 258.00,140.69 259.00,141.98 260.00,142.02 261.00,143.15 262.00,143.30 263.00,142.48 264.00,141.92 265.00,143.45 266.00,141.24 267.00,141.64 268.00,142.94 269.00,143.18 270.00,142.07 271.00,143.50 272.00,144.35 273.00,143.18 274.00,143.49 275.00,143.12 276.00,143.46 277.00,145.40 278.00,144.02 279.00,145.70 280.00,145.74 281.00,145.08 282.00,144.38 283.00,146.42 284.00,145.32 285.00,145.28 286.00,144.98 287.00,146.67 288.00,145.34 289.00,144.76 290.00,145.21 291.00,144.24 292.00,145.49 293.00,144.98 294.00,144.54 295.00,145.77 296.00,145.84 297.00,143.67 298.00,144.98 299.00,144.26 300.00,145.93 301.00,145.46 302.00,144.00 303.00,143.98 304.00,143.62 305.00,145.71 306.00,143.83 307.00,144.58 308.00,144.16 309.00,144.53 310.00,144.36 311.00,144.65 312.00,142.95 313.00,144.55 314.00,143.28 315.00,143.77 316.00,143.14 317.00,142.92 318.00,143.40 319.00,143.11 320.00,142.89 321.00,143.31 322.00,142.98 323.00,142.08 324.00,142.27 325.00,142.43 326.00,142.96 327.00,142.80 328.00,142.20 329.00,141.34 330.00,142.29 331.00,141.62 332.00,141.66 333.00,141.67 334.00,141.39 335.00,141.00 336.00,141.43 337.00,140.51 338.00,140.35 339.00,140.82 340.00,139.73 341.00,139.69 342.00,140.26 343.00,139.02 344.00,139.92 345.00,139.55 346.00,139.01 347.00,138.63 348.00,139.14 349.00,139.15 350.00,137.90 351.00,138.18 352.00,138.08 353.00,137.82 354.00,137.39 355.00,136.95 356.00,137.36 357.00,137.48 358.00,136.25 359.00,136.28 360.00,136.91 361.00,136.68 362.00,136.31 363.00,135.22 364.00,136.00 365.00,136.17 366.00,136.07 367.00,135.53 368.00,134.49 369.00,135.47 370.00,134.47 371.00,134.94 372.00,135.25 373.00,134.78 374.00,133.85 375.00,133.94 376.00,134.69 377.00,133.49 378.00,134.01 379.00,133.61 380.00,133.13 381.00,133.66 382.00,132.74 383.00,132.72 384.00,132.99 385.00,132.45 386.00,132.32 387.00,132.94 388.00,133.06 389.00,133.14 390.00,131.99 391.00,132.28 392.00,132.00 393.00,132.28 394.00,132.01 395.00,132.51 396.00,131.60 397.00,131.04 398.00,131.82 399.00,130.93 400.00,131.48 401.00,131.21 402.00,131.67 403.00,131.08 404.00,131.07 405.00,130.47 406.00,128.72 407.00,126.16 408.00,128.02 409.00,128.86 410.00,129.49 411.00,129.53 412.00,129.62 413.00,130.03 414.00,129.15 415.00,129.80 416.00,129.62 417.00,128.72 418.00,129.44 419.00,128.53 420.00,128.47 421.00,129.10 422.00,128.57 423.00,129.44 424.00,128.85 425.00,128.60 426.00,129.24 427.00,128.13 428.00,129.08 429.00,128.11 430.00,128.21 431.00,129.30 432.00,128.89 433.00,128.22 434.00,128.04 435.00,129.21 436.00,128.75 437.00,128.94 438.00,127.96 439.00,128.60 440.00,128.20 441.00,125.63 442.00,126.43 443.00,127.49 444.00,127.79 445.00,127.51 446.00,126.82 447.00,127.46 448.00,128.01 449.00,129.03 450.00,129.31 451.00,129.87 452.00,129.38 453.00,129.47 454.00,129.42 455.00,129.64 456.00,129.13 457.00,128.70 458.00,128.59 459.00,128.80 460.00,128.56 461.00,129.72 462.00,129.13 463.00,129.50 464.00,128.42 465.00,129.06 466.00,129.63 467.00,129.23 468.00,128.94 469.00,128.97 470.00,128.44 471.00,128.62 472.00,128.72 473.00,129.12 474.00,129.24 475.00,130.03 476.00,129.11 477.00,129.36 478.00,129.49 479.00,129.43 480.00,129.70 481.00,129.30 482.00,129.32 483.00,128.36 484.00,129.28 485.00,128.17 486.00,128.64 487.00,127.96 488.00,128.39 489.00,128.56 490.00,129.67 491.00,128.97 492.00,130.19 493.00,130.11 494.00,131.09 495.00,131.62 496.12,130.25 497.25,129.73 498.38,128.91 499.50,128.62" fill="none" stroke="#1c2680" stroke-width="1.1" stroke-linejoin="round" />
<line x1="314.6" y1="114.6" x2="314.6" y2="151.0" stroke="#777" stroke-width="1.25" stroke-dasharray="6,3.6"/>
<line x1="21.25" y1="151.0" x2="21.25" y2="146.4" stroke="#6a6a6a" stroke-width="0.6"/>
<line x1="21.25" y1="112.6" x2="21.25" y2="117.19999999999999" stroke="#6a6a6a" stroke-width="0.6"/>
<line x1="109.45" y1="151.0" x2="109.45" y2="146.4" stroke="#6a6a6a" stroke-width="0.6"/>
<line x1="109.45" y1="112.6" x2="109.45" y2="117.19999999999999" stroke="#6a6a6a" stroke-width="0.6"/>
<line x1="197.65" y1="151.0" x2="197.65" y2="146.4" stroke="#6a6a6a" stroke-width="0.6"/>
<line x1="197.65" y1="112.6" x2="197.65" y2="117.19999999999999" stroke="#6a6a6a" stroke-width="0.6"/>
<line x1="285.85" y1="151.0" x2="285.85" y2="146.4" stroke="#6a6a6a" stroke-width="0.6"/>
<line x1="285.85" y1="112.6" x2="285.85" y2="117.19999999999999" stroke="#6a6a6a" stroke-width="0.6"/>
<line x1="374.05" y1="151.0" x2="374.05" y2="146.4" stroke="#6a6a6a" stroke-width="0.6"/>
<line x1="374.05" y1="112.6" x2="374.05" y2="117.19999999999999" stroke="#6a6a6a" stroke-width="0.6"/>
<line x1="462.25" y1="151.0" x2="462.25" y2="146.4" stroke="#6a6a6a" stroke-width="0.6"/>
<line x1="462.25" y1="112.6" x2="462.25" y2="117.19999999999999" stroke="#6a6a6a" stroke-width="0.6"/>
<line x1="21.5" y1="122.0" x2="26.1" y2="122.0" stroke="#6a6a6a" stroke-width="0.6"/>
<line x1="499.5" y1="122.0" x2="494.9" y2="122.0" stroke="#6a6a6a" stroke-width="0.6"/>
<text x="18.4" y="124.05" font-family="Liberation Sans, Arial, sans-serif" font-size="5.7" fill="#262626" text-anchor="end">300</text>
<line x1="21.5" y1="135.6" x2="26.1" y2="135.6" stroke="#6a6a6a" stroke-width="0.6"/>
<line x1="499.5" y1="135.6" x2="494.9" y2="135.6" stroke="#6a6a6a" stroke-width="0.6"/>
<text x="18.4" y="137.65" font-family="Liberation Sans, Arial, sans-serif" font-size="5.7" fill="#262626" text-anchor="end">200</text>
<line x1="21.5" y1="149.9" x2="26.1" y2="149.9" stroke="#6a6a6a" stroke-width="0.6"/>
<line x1="499.5" y1="149.9" x2="494.9" y2="149.9" stroke="#6a6a6a" stroke-width="0.6"/>
<text x="18.4" y="151.95000000000002" font-family="Liberation Sans, Arial, sans-serif" font-size="5.7" fill="#262626" text-anchor="end">100</text>
<text x="21.25" y="159.1" font-family="Liberation Sans, Arial, sans-serif" font-size="5.7" fill="#262626" text-anchor="middle">0</text>
<text x="109.45" y="159.1" font-family="Liberation Sans, Arial, sans-serif" font-size="5.7" fill="#262626" text-anchor="middle">500</text>
<text x="197.65" y="159.1" font-family="Liberation Sans, Arial, sans-serif" font-size="5.7" fill="#262626" text-anchor="middle">1000</text>
<text x="285.85" y="159.1" font-family="Liberation Sans, Arial, sans-serif" font-size="5.7" fill="#262626" text-anchor="middle">1500</text>
<text x="374.05" y="159.1" font-family="Liberation Sans, Arial, sans-serif" font-size="5.7" fill="#262626" text-anchor="middle">2000</text>
<text x="462.25" y="159.1" font-family="Liberation Sans, Arial, sans-serif" font-size="5.7" fill="#262626" text-anchor="middle">2500</text>
<rect x="21.5" y="112.6" width="478.0" height="38.4" fill="none" stroke="#6a6a6a" stroke-width="0.7"/>
<rect x="26.1" y="115.6" width="52.8" height="16.0" fill="#fff" stroke="#555" stroke-width="0.6"/>
<line x1="28.400000000000002" y1="120.3" x2="46.3" y2="120.3" stroke="#606060" stroke-width="1.0"/>
<text x="48.900000000000006" y="122.1" font-family="Liberation Sans, Arial, sans-serif" font-size="4.85" fill="#1a1a1a">original JT</text>
<line x1="28.400000000000002" y1="126.6" x2="46.3" y2="126.6" stroke="#2838b0" stroke-width="1.0"/>
<text x="48.900000000000006" y="128.4" font-family="Liberation Sans, Arial, sans-serif" font-size="4.85" fill="#1a1a1a">denoised JT</text>
<text x="260.5" y="110.9" font-family="Liberation Sans, Arial, sans-serif" font-size="6.65" font-weight="bold" fill="#000" text-anchor="middle">JT (Panel B)</text>
<polyline points="21.50,177.93 22.25,177.11 23.00,176.56 23.75,176.58 24.50,177.01 25.50,178.95 26.50,177.22 27.50,175.80 28.50,176.96 29.50,178.47 30.25,177.83 31.00,177.34 32.00,178.22 33.00,179.13 34.00,179.85 35.00,180.56 36.00,181.40 37.00,182.12 38.00,181.72 39.00,181.63 40.00,182.76 41.00,181.47 42.00,182.97 43.00,182.26 44.00,182.23 45.00,182.39 46.00,182.79 47.00,183.69 48.00,182.77 49.00,183.50 50.00,183.69 51.00,183.36 52.00,183.73 53.00,183.05 54.00,183.14 55.00,183.46 56.00,184.32 57.00,184.00 58.00,183.92 59.00,184.44 60.00,184.33 61.00,183.94 62.00,184.59 63.00,184.30 64.00,183.43 65.00,183.82 66.00,183.60 67.00,184.02 68.00,183.65 69.00,182.80 70.00,183.77 71.00,182.67 72.00,183.43 73.00,184.25 74.00,183.56 75.00,184.38 76.00,183.94 77.00,185.23 78.00,185.66 79.00,185.64 80.00,186.40 81.00,185.70 82.00,186.50 83.00,186.53 84.00,186.70 85.00,186.70 86.00,187.50 87.00,187.86 88.00,187.31 89.00,187.80 90.00,187.03 91.00,188.25 92.00,188.36 93.00,189.10 94.00,189.02 95.00,188.36 96.00,188.26 97.00,188.45 98.00,187.16 99.00,187.60 100.00,186.87 101.00,186.94 102.00,187.00 103.00,188.29 104.00,187.42 105.00,187.76 106.00,188.15 107.00,189.07 108.00,187.96 109.00,188.70 110.00,189.01 111.00,189.70 112.00,189.75 113.00,189.98 114.00,189.19 115.00,189.56 116.00,189.33 117.00,190.03 118.00,190.01 119.00,188.58 120.00,188.48 121.00,189.17 122.00,189.77 123.00,190.78 124.00,191.54 125.00,191.62 126.00,191.35 127.00,192.16 128.00,192.22 129.00,192.68 130.00,193.44 131.00,193.17 132.00,193.03 133.00,193.34 134.00,193.58 135.00,192.73 136.00,194.22 137.00,194.18 138.00,194.47 139.00,194.49 140.00,193.99 141.00,194.14 142.00,193.81 143.00,194.81 144.00,194.04 145.00,194.19 146.00,194.56 147.00,194.63 148.00,195.06 149.00,194.74 150.00,194.80 151.00,195.14 152.00,195.16 153.00,195.67 154.00,195.23 155.00,196.68 156.00,196.36 157.00,195.71 158.00,195.98 159.00,196.23 160.00,196.35 161.00,196.06 162.00,197.32 163.00,197.65 164.00,196.90 165.00,197.02 166.00,196.48 167.00,196.61 168.00,197.09 169.00,197.06 170.00,198.06 171.00,197.09 172.00,196.96 173.00,198.54 174.00,197.97 175.00,197.45 176.00,198.18 177.00,197.45 178.00,198.35 179.00,199.17 180.00,199.08 181.00,198.91 182.00,198.31 183.00,198.57 184.00,198.35 185.00,199.41 186.00,199.12 187.00,199.61 188.00,198.99 189.00,198.91 190.00,199.95 191.00,200.32 192.00,200.20 193.00,200.22 194.00,200.34 195.00,200.31 196.00,199.58 197.00,200.14 198.00,199.98 199.00,199.55 200.00,199.64 201.00,200.13 202.00,200.17 203.00,200.95 204.00,201.45 205.00,200.72 206.00,201.58 207.00,201.74 208.00,201.77 209.00,200.90 210.00,200.75 211.00,200.84 212.00,200.87 213.00,200.97 214.00,201.72 215.00,202.24 216.00,202.23 217.00,201.74 218.00,202.11 219.00,202.43 220.00,201.37 221.00,202.38 222.00,202.87 223.00,202.75 224.00,202.49 225.00,201.84 226.00,201.14 227.00,201.91 228.00,200.96 229.00,201.50 230.00,201.55 231.00,200.66 232.00,200.69 233.00,201.58 234.00,201.25 235.00,200.39 236.00,200.34 237.00,200.41 238.00,201.63 239.00,201.50 240.00,200.47 241.00,201.58 242.00,201.85 243.00,201.35 244.00,200.89 245.00,201.23 246.00,200.58 247.00,200.42 248.00,201.97 249.00,201.48 250.00,201.31 251.00,201.98 252.00,201.21 253.00,201.93 254.00,201.88 255.00,200.92 256.00,201.01 257.00,201.10 258.00,201.04 259.00,201.61 260.00,201.11 261.00,201.49 262.00,201.15 263.00,202.52 264.00,201.75 265.00,202.03 266.00,202.35 267.00,202.99 268.00,202.33 269.00,203.25 270.00,202.70 271.00,203.07 272.00,203.38 273.00,202.89 274.00,203.88 275.00,203.79 276.00,203.83 277.00,205.42 278.00,204.74 279.00,205.54 280.00,206.26 281.00,206.31 282.00,206.26 283.00,206.89 284.00,207.27 285.00,207.95 286.00,206.84 287.00,207.53 288.00,207.00 289.00,207.01 290.00,207.77 291.00,207.31 292.00,207.37 293.00,207.65 294.00,207.86 295.00,207.08 296.00,207.31 297.00,207.11 298.00,207.09 299.00,207.34 300.00,206.92 301.00,207.00 302.00,206.86 303.00,207.56 304.00,207.12 305.00,207.35 306.00,207.41 307.00,206.27 308.00,206.70 309.00,207.26 310.00,207.04 311.00,205.87 312.00,205.79 313.00,206.26 314.00,205.62 315.00,205.64 316.00,205.12 317.00,205.82 318.00,205.75 319.00,205.69 320.00,204.25 321.00,204.90 322.00,204.56 323.00,203.48 324.00,204.41 325.00,204.30 326.00,202.85 327.00,203.77 328.00,202.64 329.00,202.53 330.00,203.08 331.00,202.97 332.00,202.04 333.00,202.61 334.00,202.88 335.00,202.74 336.00,202.21 337.00,202.11 338.00,202.46 339.00,201.03 340.00,201.59 341.00,201.10 342.00,200.13 343.00,200.33 344.00,200.60 345.00,200.22 346.00,199.30 347.00,200.58 348.00,200.06 349.00,200.15 350.00,198.57 351.00,198.62 352.00,198.06 353.00,199.05 354.00,198.03 355.00,197.61 356.00,197.75 357.00,198.20 358.00,197.72 359.00,196.49 360.00,195.99 361.00,196.89 362.00,196.00 363.00,195.88 364.00,194.57 365.00,194.19 366.00,194.96 367.00,194.30 368.00,193.50 369.00,194.64 370.00,193.92 371.00,193.94 372.00,192.55 373.00,193.55 374.00,192.05 375.00,193.08 376.00,192.26 377.00,191.90 378.00,192.07 379.00,192.50 380.00,191.28 381.00,190.89 382.00,191.35 383.00,190.72 384.00,190.35 385.00,190.26 386.00,189.92 387.00,190.00 388.00,190.02 389.00,189.85 390.00,190.42 391.00,189.50 392.00,189.68 393.00,189.00 394.00,189.12 395.00,188.43 396.00,188.64 397.00,188.10 398.00,189.09 399.00,188.64 400.00,187.78 401.00,187.87 402.00,188.31 403.00,186.17 404.00,187.12 405.00,185.86 406.00,184.29 407.00,183.27 408.00,183.75 409.00,185.35 410.00,187.08 411.00,187.59 412.00,186.25 413.00,187.15 414.00,186.83 415.00,186.62 416.00,186.09 417.00,185.91 418.00,185.25 419.00,185.33 420.00,185.14 421.00,186.33 422.00,185.20 423.00,184.86 424.00,184.55 425.00,185.91 426.00,185.81 427.00,185.26 428.00,184.33 429.00,184.09 430.00,184.04 431.00,184.22 432.00,183.96 433.00,184.87 434.00,184.85 435.00,186.58 436.00,186.95 437.00,185.59 438.00,184.49 439.00,185.43 440.00,183.62 441.00,183.21 442.00,183.34 443.00,184.93 444.00,185.95 445.00,185.01 446.00,183.40 447.00,183.01 448.00,182.61 449.00,183.73 450.00,183.98 451.00,185.20 452.00,185.08 453.00,184.98 454.00,185.48 455.00,185.28 456.00,185.92 457.00,185.75 458.00,186.13 459.00,185.88 460.00,185.93 461.00,186.42 462.00,185.61 463.00,185.65 464.00,187.14 465.00,185.63 466.00,186.95 467.00,186.95 468.00,185.92 469.00,187.67 470.00,187.95 471.00,187.59 472.00,187.97 473.00,187.81 474.00,186.15 475.00,186.61 476.00,186.26 477.00,186.61 478.00,186.23 479.00,185.97 480.00,185.17 481.00,185.69 482.00,185.17 483.00,185.09 484.00,184.06 485.00,183.56 486.00,183.67 487.00,184.02 488.08,184.04 489.17,186.04 490.25,186.02 491.33,186.69 492.42,187.22 493.50,187.86 494.50,187.15 495.50,185.84 496.50,187.10 497.50,186.66 498.50,185.84 499.50,185.57" fill="none" stroke="#7078e0" stroke-width="0.7" stroke-linejoin="round" />
<polyline points="21.50,181.84 21.80,177.28 23.00,175.48 23.75,176.72 24.50,177.25 25.30,180.35 24.50,182.80 25.25,181.58 26.00,181.09 27.00,182.48 28.00,183.97 29.00,185.33 30.00,186.48 31.00,188.20 32.00,188.91 33.00,190.16 34.00,191.19 35.00,191.89 36.00,193.50 37.00,195.09 38.00,193.41 39.00,192.56 40.00,193.03 41.00,195.37 42.00,192.40 43.00,194.18 44.00,193.41 45.00,194.31 46.00,193.28 47.00,194.41 48.00,193.79 49.00,194.28 50.00,195.08 51.00,194.06 52.00,192.65 53.00,192.41 54.00,195.23 55.00,193.76 56.00,192.39 57.00,194.36 58.00,192.75 58.75,194.73 59.50,196.72 60.25,192.56 61.00,190.54 61.75,194.96 62.50,195.33 63.25,194.10 64.00,188.71 64.75,194.11 65.50,197.65 66.25,194.69 67.00,190.60 67.75,193.51 68.50,196.53 69.25,192.38 70.00,189.59 70.75,193.78 71.50,196.63 72.25,195.29 73.00,190.02 73.75,194.39 74.50,196.60 75.25,193.18 76.00,188.94 76.75,193.75 77.50,197.25 78.25,194.25 79.00,190.61 79.75,195.57 80.50,199.25 81.25,193.96 82.00,191.67 82.75,194.03 83.50,198.72 84.25,197.62 85.00,193.05 86.00,196.95 87.00,197.56 88.00,196.67 89.00,199.09 90.00,197.76 91.00,198.09 92.00,198.28 93.00,198.18 94.00,198.31 95.00,198.35 96.00,198.36 97.00,198.48 98.00,198.33 99.00,198.23 100.00,198.25 101.00,198.40 102.00,198.79 103.00,198.84 104.00,199.24 105.00,199.20 106.00,199.46 107.00,199.77 108.00,199.36 109.00,199.47 110.00,199.68 111.00,200.11 112.00,200.50 113.00,200.89 114.00,200.93 115.00,201.58 116.00,201.28 117.00,202.06 118.00,201.97 119.00,202.65 120.00,202.42 121.00,203.06 122.00,203.03 123.00,203.25 124.00,203.09 125.00,202.93 126.00,203.49 127.00,203.26 128.00,203.13 129.00,203.53 130.00,203.55 131.00,203.62 132.00,203.51 133.00,203.58 134.00,203.94 135.00,203.95 136.00,203.84 137.00,204.11 138.00,204.37 139.00,204.44 140.00,204.38 141.00,204.43 142.00,204.51 143.00,204.52 144.00,204.60 145.00,204.84 146.00,204.73 147.00,205.20 148.00,205.28 149.00,205.32 150.00,205.06 151.00,205.36 152.00,205.50 153.00,205.39 154.00,206.01 155.00,205.98 156.00,205.92 157.00,206.14 158.00,205.93 159.00,206.04 160.00,206.32 161.00,206.53 162.00,206.56 163.00,206.26 164.00,206.71 165.00,206.97 166.00,206.96 167.00,207.15 168.00,207.27 169.00,206.90 170.00,207.03 171.00,207.26 172.00,207.61 173.00,207.33 174.00,207.75 175.00,207.79 176.00,207.67 177.00,207.82 178.00,208.10 179.00,208.08 180.00,207.88 181.00,208.26 182.00,207.92 183.00,208.07 184.00,208.48 185.00,208.46 186.00,208.19 187.00,208.22 188.00,208.47 189.00,208.66 190.00,208.61 191.00,208.81 192.00,208.74 193.00,208.84 194.00,208.76 195.00,208.67 196.00,208.76 197.00,208.84 198.00,208.92 199.00,209.15 200.00,208.86 201.00,208.81 202.00,209.27 203.00,209.06 204.00,209.22 205.00,209.10 206.00,209.60 207.00,209.33 208.00,209.41 209.00,209.78 210.00,209.67 211.00,209.60 212.00,210.03 213.00,209.81 214.00,209.85 215.00,210.28 216.00,210.24 217.00,210.28 218.00,210.05 219.00,210.45 220.00,210.39 221.00,210.60 222.00,210.39 223.00,210.70 224.00,210.78 225.00,210.60 226.00,210.83 227.00,210.97 228.00,211.16 229.00,211.19 230.00,211.17 231.00,210.84 232.00,211.18 233.00,211.28 234.00,210.98 235.00,211.26 236.00,211.56 237.00,211.64 238.00,211.71 239.00,211.27 240.00,211.63 241.00,211.84 242.00,211.77 243.00,211.63 244.00,211.52 245.00,212.10 246.00,212.12 247.00,212.06 248.00,211.94 249.00,212.27 250.00,212.32 251.00,212.32 252.00,212.31 253.00,212.19 254.00,212.24 255.00,212.33 256.00,212.37 257.00,212.54 258.00,212.36 259.00,212.78 260.00,212.61 261.00,212.50 262.00,212.55 263.00,212.63 264.00,212.66 265.00,212.87 266.00,212.46 267.00,212.53 268.00,212.58 269.00,212.51 270.00,212.85 271.00,212.47 272.00,212.43 273.00,212.73 274.00,212.84 275.00,212.90 276.00,212.74 277.00,212.60 278.00,212.93 279.00,212.84 280.00,212.69 281.00,212.74 282.00,212.96 283.00,213.00 284.00,212.96 285.00,212.48 286.00,212.60 287.00,212.64 288.00,212.50 289.00,212.86 290.00,212.44 291.00,212.93 292.00,212.75 293.00,212.77 294.00,212.65 295.00,212.96 296.00,212.75 297.00,212.94 298.00,212.95 299.00,212.82 300.00,212.99 301.00,212.69 302.00,212.62 303.00,212.91 304.00,212.72 305.00,212.59 306.00,212.81 307.00,212.69 308.00,212.48 309.00,212.90 310.00,212.70 311.00,212.98 312.00,212.72 313.00,212.96 314.00,212.57 315.00,212.47 316.00,212.59 317.00,212.67 318.00,212.64 319.00,212.48 320.00,212.10 321.00,212.20 322.00,211.92 323.00,212.06 324.00,212.34 325.00,211.92 326.00,212.07 327.00,211.96 328.00,211.61 329.00,211.88 330.00,211.45 331.00,211.23 332.00,211.19 333.00,210.64 334.00,210.86 335.00,210.26 336.00,210.10 337.00,210.02 338.00,209.22 339.00,209.48 340.00,208.62 341.00,208.68 342.00,208.43 343.00,208.35 344.00,207.69 345.00,207.77 346.00,207.24 347.00,206.79 348.00,206.25 349.00,205.94 350.00,205.67 351.00,205.31 352.00,204.97 353.00,204.88 354.00,204.27 355.00,204.41 356.00,200.86 357.00,199.52 358.00,199.67 359.00,205.25 360.00,199.90 361.00,195.50 362.00,199.14 363.00,202.55 364.00,200.07 365.00,198.20 366.00,196.37 367.00,196.47 368.00,195.91 369.00,197.07 370.00,198.11 371.00,198.77 372.00,196.23 373.00,196.59 374.00,193.33 375.00,196.49 376.00,196.50 377.00,198.41 378.00,196.66 379.00,195.83 380.00,193.49 381.00,195.75 382.00,197.76 383.00,198.06 384.00,197.15 385.00,195.03 386.00,193.40 387.00,194.29 388.00,195.98 389.00,197.67 390.00,194.62 391.00,193.20 392.00,194.03 393.00,191.52 394.00,193.60 395.00,193.33 396.00,193.10 397.00,195.94 398.00,196.21 399.00,198.82 400.00,197.23 401.00,196.33 402.00,195.44 403.00,196.98 404.00,194.72 405.00,194.41 406.00,196.38 407.00,195.47 408.00,195.33 409.00,194.67 410.00,194.74 411.00,192.58 412.00,195.00 413.12,194.30 414.25,196.83 415.38,196.28 416.50,198.72 417.38,195.33 418.25,197.99 419.12,194.68 420.00,195.54 421.00,195.19 422.00,196.56 423.00,195.44 424.00,196.04 425.00,195.55 426.00,193.76 427.00,192.62 428.00,192.37 429.00,194.31 430.00,195.23 431.00,194.46 432.00,193.58 433.00,194.53 434.00,194.86 435.00,193.71 436.00,195.17 437.00,193.64 438.00,193.14 439.00,193.31 440.00,194.71 441.00,195.43 442.00,193.97 443.00,194.57 444.00,195.57 445.00,194.24 445.90,191.77 446.80,188.73 447.65,191.90 448.50,195.07 449.58,196.37 450.67,196.14 451.75,194.25 452.83,195.98 453.92,195.25 455.00,195.67 456.00,194.35 457.00,192.38 458.00,192.04 459.00,189.71 460.00,193.64 461.00,194.66 462.25,194.51 463.50,194.02 464.55,193.23 465.60,190.59 466.55,194.56 467.50,197.68 468.38,197.38 469.25,195.63 470.12,195.00 471.00,193.90 472.00,194.36 473.00,197.45 474.00,198.10 475.00,197.92 476.00,196.50 477.00,194.77 478.00,194.71 479.00,194.45 480.00,193.33 481.00,195.03 482.00,194.77 483.00,193.97 484.00,194.68 485.00,196.58 485.88,192.40 486.75,191.26 487.62,190.95 488.50,190.29 489.50,193.70 490.50,195.18 491.50,196.25 492.50,194.06 493.50,194.80 494.50,196.20 495.50,195.47 496.50,194.66 497.50,195.04 498.50,194.57 499.50,194.65" fill="none" stroke="#ff5a5a" stroke-width="0.7" stroke-linejoin="round" />
<line x1="314.6" y1="177.3" x2="314.6" y2="213.70000000000002" stroke="#777" stroke-width="1.25" stroke-dasharray="6,3.6"/>
<rect x="343.4" y="187.2" width="53.8" height="22.3" fill="none" stroke="#000" stroke-width="1.2"/>
<line x1="21.25" y1="213.70000000000002" x2="21.25" y2="209.10000000000002" stroke="#6a6a6a" stroke-width="0.6"/>
<line x1="21.25" y1="175.3" x2="21.25" y2="179.9" stroke="#6a6a6a" stroke-width="0.6"/>
<line x1="109.45" y1="213.70000000000002" x2="109.45" y2="209.10000000000002" stroke="#6a6a6a" stroke-width="0.6"/>
<line x1="109.45" y1="175.3" x2="109.45" y2="179.9" stroke="#6a6a6a" stroke-width="0.6"/>
<line x1="197.65" y1="213.70000000000002" x2="197.65" y2="209.10000000000002" stroke="#6a6a6a" stroke-width="0.6"/>
<line x1="197.65" y1="175.3" x2="197.65" y2="179.9" stroke="#6a6a6a" stroke-width="0.6"/>
<line x1="285.85" y1="213.70000000000002" x2="285.85" y2="209.10000000000002" stroke="#6a6a6a" stroke-width="0.6"/>
<line x1="285.85" y1="175.3" x2="285.85" y2="179.9" stroke="#6a6a6a" stroke-width="0.6"/>
<line x1="374.05" y1="213.70000000000002" x2="374.05" y2="209.10000000000002" stroke="#6a6a6a" stroke-width="0.6"/>
<line x1="374.05" y1="175.3" x2="374.05" y2="179.9" stroke="#6a6a6a" stroke-width="0.6"/>
<line x1="462.25" y1="213.70000000000002" x2="462.25" y2="209.10000000000002" stroke="#6a6a6a" stroke-width="0.6"/>
<line x1="462.25" y1="175.3" x2="462.25" y2="179.9" stroke="#6a6a6a" stroke-width="0.6"/>
<line x1="21.5" y1="175.5" x2="26.1" y2="175.5" stroke="#6a6a6a" stroke-width="0.6"/>
<line x1="499.5" y1="175.5" x2="494.9" y2="175.5" stroke="#6a6a6a" stroke-width="0.6"/>
<text x="18.4" y="177.55" font-family="Liberation Sans, Arial, sans-serif" font-size="5.7" fill="#262626" text-anchor="end">1</text>
<line x1="21.5" y1="204.6" x2="26.1" y2="204.6" stroke="#6a6a6a" stroke-width="0.6"/>
<line x1="499.5" y1="204.6" x2="494.9" y2="204.6" stroke="#6a6a6a" stroke-width="0.6"/>
<text x="18.4" y="206.65" font-family="Liberation Sans, Arial, sans-serif" font-size="5.7" fill="#262626" text-anchor="end">0.5</text>
<text x="21.25" y="221.8" font-family="Liberation Sans, Arial, sans-serif" font-size="5.7" fill="#262626" text-anchor="middle">0</text>
<text x="109.45" y="221.8" font-family="Liberation Sans, Arial, sans-serif" font-size="5.7" fill="#262626" text-anchor="middle">500</text>
<text x="197.65" y="221.8" font-family="Liberation Sans, Arial, sans-serif" font-size="5.7" fill="#262626" text-anchor="middle">1000</text>
<text x="285.85" y="221.8" font-family="Liberation Sans, Arial, sans-serif" font-size="5.7" fill="#262626" text-anchor="middle">1500</text>
<text x="374.05" y="221.8" font-family="Liberation Sans, Arial, sans-serif" font-size="5.7" fill="#262626" text-anchor="middle">2000</text>
<text x="462.25" y="221.8" font-family="Liberation Sans, Arial, sans-serif" font-size="5.7" fill="#262626" text-anchor="middle">2500</text>
<rect x="21.5" y="175.3" width="478.0" height="38.4" fill="none" stroke="#6a6a6a" stroke-width="0.7"/>
<rect x="26.1" y="178.1" width="32.4" height="15.4" fill="#fff" stroke="#555" stroke-width="0.6"/>
<line x1="28.400000000000002" y1="182.2" x2="46.3" y2="182.2" stroke="#ff5a5a" stroke-width="0.7"/>
<text x="48.900000000000006" y="184.0" font-family="Liberation Sans, Arial, sans-serif" font-size="4.85" fill="#1a1a1a">RR</text>
<line x1="28.400000000000002" y1="189.0" x2="46.3" y2="189.0" stroke="#8088e0" stroke-width="0.7"/>
<text x="48.900000000000006" y="190.8" font-family="Liberation Sans, Arial, sans-serif" font-size="4.85" fill="#1a1a1a">JT</text>
<text x="260.5" y="173.1" font-family="Liberation Sans, Arial, sans-serif" font-size="6.65" font-weight="bold" fill="#000" text-anchor="middle">RR and JT (denoised and normalized) (Panel C)</text>
<line x1="21.5" y1="254.8" x2="499.5" y2="254.8" stroke="#333" stroke-width="0.7" stroke-dasharray="0.9,1.4"/>
<path d="M21.50,259.20 C21.58,259.03 21.67,257.37 22.00,258.20 C22.33,259.03 23.00,261.52 23.50,264.20 C24.00,266.88 24.50,275.82 25.00,274.30 C25.50,272.78 26.00,255.77 26.50,255.10 C27.00,254.43 27.50,270.55 28.00,270.30 C28.50,270.05 29.00,252.93 29.50,253.60 C30.00,254.27 30.42,272.20 31.00,274.30 C31.58,276.40 32.33,270.23 33.00,266.20 C33.67,262.17 34.42,253.13 35.00,250.10 C35.58,247.07 36.08,249.60 36.50,248.00 C36.92,246.40 37.17,236.62 37.50,240.50 C37.83,244.38 38.08,271.30 38.50,271.30 C38.92,271.30 39.50,243.02 40.00,240.50 C40.50,237.98 41.00,254.60 41.50,256.20 C42.00,257.80 42.58,249.10 43.00,250.10 C43.42,251.10 43.58,263.05 44.00,262.20 C44.42,261.35 45.08,243.32 45.50,245.00 C45.92,246.68 46.08,272.80 46.50,272.30 C46.92,271.80 47.58,244.52 48.00,242.00 C48.42,239.48 48.58,257.70 49.00,257.20 C49.42,256.70 50.08,238.50 50.50,239.00 C50.92,239.50 51.08,255.67 51.50,260.20 C51.92,264.73 52.58,268.23 53.00,266.20 C53.42,264.17 53.58,250.35 54.00,248.00 C54.42,245.65 55.00,251.75 55.50,252.10 C56.00,252.45 56.58,249.77 57.00,250.10 C57.42,250.43 57.58,254.10 58.00,254.10 C58.42,254.10 59.00,251.10 59.50,250.10 C60.00,249.10 60.50,248.77 61.00,248.10 C61.50,247.43 62.00,244.58 62.50,246.10 C63.00,247.62 63.50,256.87 64.00,257.20 C64.50,257.53 65.00,247.27 65.50,248.10 C66.00,248.93 66.58,261.70 67.00,262.20 C67.42,262.70 67.67,252.10 68.00,251.10 C68.33,250.10 68.58,257.03 69.00,256.20 C69.42,255.37 70.00,245.77 70.50,246.10 C71.00,246.43 71.58,257.70 72.00,258.20 C72.42,258.70 72.67,248.27 73.00,249.10 C73.33,249.93 73.58,264.20 74.00,263.20 C74.42,262.20 75.08,243.10 75.50,243.10 C75.92,243.10 76.08,262.53 76.50,263.20 C76.92,263.87 77.50,247.60 78.00,247.10 C78.50,246.60 79.00,260.37 79.50,260.20 C80.00,260.03 80.50,247.12 81.00,246.10 C81.50,245.08 82.00,253.60 82.50,254.10 C83.00,254.60 83.42,250.93 84.00,249.10 C84.58,247.27 85.33,243.60 86.00,243.10 C86.67,242.60 87.33,245.43 88.00,246.10 C88.67,246.77 89.33,246.43 90.00,247.10 C90.67,247.77 91.33,249.93 92.00,250.10 C92.67,250.27 93.42,247.52 94.00,248.10 C94.58,248.68 95.00,253.60 95.50,253.60 C96.00,253.60 96.50,249.03 97.00,248.10 C97.50,247.17 98.00,248.37 98.50,248.00 C99.00,247.63 99.42,245.65 100.00,245.90 C100.58,246.15 101.33,249.82 102.00,249.50 C102.67,249.18 103.33,243.83 104.00,244.00 C104.67,244.17 105.33,250.33 106.00,250.50 C106.67,250.67 107.33,245.62 108.00,245.00 C108.67,244.38 109.33,246.80 110.00,246.80 C110.67,246.80 111.33,244.08 112.00,245.00 C112.67,245.92 113.17,251.70 114.00,252.30 C114.83,252.90 116.00,249.82 117.00,248.60 C118.00,247.38 119.00,244.85 120.00,245.00 C121.00,245.15 122.08,248.58 123.00,249.50 C123.92,250.42 124.67,250.34 125.50,250.51 C126.33,250.67 126.92,250.20 128.00,250.50 C129.08,250.80 130.83,252.00 132.00,252.30 C133.17,252.60 134.00,252.82 135.00,252.30 C136.00,251.78 136.83,249.35 138.00,249.20 C139.17,249.05 140.89,251.01 142.00,251.40 C143.11,251.79 143.78,251.76 144.67,251.56 C145.56,251.35 146.44,250.31 147.33,250.18 C148.22,250.06 149.14,250.61 150.00,250.80 C150.86,250.99 151.67,251.36 152.50,251.35 C153.33,251.34 154.17,250.58 155.00,250.76 C155.83,250.95 156.67,252.27 157.50,252.46 C158.33,252.65 159.17,251.95 160.00,251.90 C160.83,251.85 161.67,252.29 162.50,252.17 C163.33,252.05 164.17,251.14 165.00,251.18 C165.83,251.22 166.67,252.32 167.50,252.41 C168.33,252.50 169.17,251.74 170.00,251.70 C170.83,251.66 171.67,252.18 172.50,252.15 C173.33,252.11 174.17,251.37 175.00,251.49 C175.83,251.61 176.67,252.73 177.50,252.86 C178.33,253.00 179.17,252.16 180.00,252.30 C180.83,252.44 181.67,253.42 182.50,253.70 C183.33,253.99 184.17,253.97 185.00,254.00 C185.83,254.03 186.67,254.16 187.50,253.88 C188.33,253.59 189.17,252.46 190.00,252.30 C190.83,252.14 191.67,252.84 192.50,252.92 C193.33,253.00 194.17,252.72 195.00,252.80 C195.83,252.88 196.67,253.35 197.50,253.42 C198.33,253.49 198.92,253.90 200.00,253.20 C201.08,252.50 202.67,249.35 204.00,249.20 C205.33,249.05 206.67,251.92 208.00,252.30 C209.33,252.68 210.83,251.29 212.00,251.50 C213.17,251.71 214.00,253.01 215.00,253.59 C216.00,254.17 217.08,255.15 218.00,255.00 C218.92,254.85 219.67,253.66 220.50,252.69 C221.33,251.72 222.08,248.81 223.00,249.20 C223.92,249.59 224.83,254.95 226.00,255.00 C227.17,255.05 228.92,250.12 230.00,249.50 C231.08,248.88 231.67,250.99 232.50,251.30 C233.33,251.62 234.17,250.85 235.00,251.40 C235.83,251.95 236.67,253.74 237.50,254.59 C238.33,255.44 239.17,256.41 240.00,256.50 C240.83,256.59 241.67,255.86 242.50,255.16 C243.33,254.46 244.17,252.62 245.00,252.30 C245.83,251.98 246.67,253.11 247.50,253.26 C248.33,253.41 249.17,252.94 250.00,253.20 C250.83,253.46 251.67,254.54 252.50,254.84 C253.33,255.14 254.17,255.29 255.00,255.00 C255.83,254.71 256.67,253.83 257.50,253.08 C258.33,252.33 259.08,251.15 260.00,250.50 C260.92,249.85 261.83,248.28 263.00,249.20 C264.17,250.12 265.83,254.58 267.00,256.00 C268.17,257.42 269.00,256.95 270.00,257.70 C271.00,258.45 272.08,260.04 273.00,260.50 C273.92,260.96 274.67,260.62 275.50,260.45 C276.33,260.29 276.92,259.34 278.00,259.50 C279.08,259.66 280.83,260.70 282.00,261.40 C283.17,262.10 284.08,263.63 285.00,263.70 C285.92,263.77 286.67,262.69 287.50,261.84 C288.33,260.99 288.92,258.37 290.00,258.60 C291.08,258.83 292.83,262.88 294.00,263.20 C295.17,263.52 296.00,261.20 297.00,260.50 C298.00,259.80 299.00,259.47 300.00,259.00 C301.00,258.53 302.25,257.59 303.00,257.70 C303.75,257.81 304.00,259.43 304.50,259.64 C305.00,259.86 305.53,259.12 306.00,259.00 C306.47,258.88 306.89,259.38 307.33,258.95 C307.78,258.52 308.22,256.91 308.67,256.42 C309.11,255.93 309.53,255.57 310.00,256.00 C310.47,256.43 311.00,258.28 311.50,259.03 C312.00,259.78 312.50,260.44 313.00,260.50 C313.50,260.56 314.00,259.98 314.50,259.37 C315.00,258.75 315.53,257.00 316.00,256.80 C316.47,256.60 316.89,258.23 317.33,258.19 C317.78,258.16 318.22,256.55 318.67,256.61 C319.11,256.68 319.50,258.05 320.00,258.60 C320.50,259.15 321.11,259.97 321.67,259.94 C322.22,259.90 322.78,258.30 323.33,258.39 C323.89,258.49 324.44,260.15 325.00,260.50 C325.56,260.85 326.11,261.06 326.67,260.46 C327.22,259.87 327.78,257.70 328.33,256.96 C328.89,256.21 329.44,255.91 330.00,256.00 C330.56,256.09 331.11,257.45 331.67,257.47 C332.22,257.49 332.78,256.06 333.33,256.10 C333.89,256.14 334.44,257.32 335.00,257.70 C335.56,258.08 336.11,258.50 336.67,258.41 C337.22,258.31 337.78,257.16 338.33,257.14 C338.89,257.13 339.44,258.04 340.00,258.30 C340.56,258.56 341.11,259.16 341.67,258.70 C342.22,258.23 342.78,256.11 343.33,255.49 C343.89,254.88 344.44,254.74 345.00,255.00 C345.56,255.26 346.11,256.85 346.67,257.05 C347.22,257.25 347.78,256.08 348.33,256.18 C348.89,256.29 349.44,257.21 350.00,257.70 C350.56,258.19 351.11,259.28 351.67,259.13 C352.22,258.98 352.78,256.91 353.33,256.82 C353.89,256.73 354.47,257.43 355.00,258.60 C355.53,259.77 356.00,262.34 356.50,263.86 C357.00,265.37 357.58,266.29 358.00,267.70 C358.42,269.11 358.50,274.58 359.00,272.30 C359.50,270.02 360.33,254.47 361.00,254.00 C361.67,253.53 362.50,266.30 363.00,269.50 C363.50,272.70 363.50,273.95 364.00,273.20 C364.50,272.45 365.33,265.92 366.00,265.00 C366.67,264.08 367.33,268.45 368.00,267.70 C368.67,266.95 369.33,260.20 370.00,260.50 C370.67,260.80 371.33,269.35 372.00,269.50 C372.67,269.65 373.33,261.40 374.00,261.40 C374.67,261.40 375.17,269.35 376.00,269.50 C376.83,269.65 378.00,262.60 379.00,262.30 C380.00,262.00 381.17,268.00 382.00,267.70 C382.83,267.40 383.33,260.35 384.00,260.50 C384.67,260.65 385.33,268.45 386.00,268.60 C386.67,268.75 387.33,261.25 388.00,261.40 C388.67,261.55 389.33,269.97 390.00,269.50 C390.67,269.03 391.33,261.32 392.00,258.60 C392.67,255.88 393.17,253.63 394.00,253.20 C394.83,252.77 396.25,255.24 397.00,256.00 C397.75,256.76 398.00,257.36 398.50,257.79 C399.00,258.22 399.50,258.42 400.00,258.60 C400.50,258.78 401.00,258.97 401.50,258.87 C402.00,258.77 402.50,258.13 403.00,258.00 C403.50,257.87 404.00,258.42 404.50,258.08 C405.00,257.75 405.42,257.88 406.00,256.00 C406.58,254.12 407.33,247.27 408.00,246.80 C408.67,246.33 409.50,250.92 410.00,253.20 C410.50,255.48 410.50,260.65 411.00,260.50 C411.50,260.35 412.33,253.82 413.00,252.30 C413.67,250.78 414.33,250.35 415.00,251.40 C415.67,252.45 416.42,257.77 417.00,258.60 C417.58,259.43 418.00,257.30 418.50,256.40 C419.00,255.50 419.47,253.64 420.00,253.20 C420.53,252.76 421.11,253.95 421.67,253.78 C422.22,253.60 422.78,252.26 423.33,252.16 C423.89,252.07 424.44,252.93 425.00,253.20 C425.56,253.47 426.11,254.27 426.67,253.81 C427.22,253.35 427.78,251.00 428.33,250.45 C428.89,249.90 429.47,249.81 430.00,250.50 C430.53,251.19 431.00,253.53 431.50,254.58 C432.00,255.63 432.50,256.76 433.00,256.80 C433.50,256.84 434.00,255.90 434.50,254.85 C435.00,253.80 435.53,251.33 436.00,250.50 C436.47,249.67 436.89,250.45 437.33,249.85 C437.78,249.25 438.22,247.41 438.67,246.90 C439.11,246.40 439.44,245.45 440.00,246.80 C440.56,248.15 441.33,255.13 442.00,255.00 C442.67,254.87 443.33,244.78 444.00,246.00 C444.67,247.22 445.33,262.47 446.00,262.30 C446.67,262.13 447.33,245.92 448.00,245.00 C448.67,244.08 449.42,255.48 450.00,256.80 C450.58,258.12 451.00,254.44 451.50,252.92 C452.00,251.41 452.42,247.52 453.00,247.70 C453.58,247.88 454.33,254.28 455.00,254.00 C455.67,253.72 456.33,244.33 457.00,246.00 C457.67,247.67 458.33,264.00 459.00,264.00 C459.67,264.00 460.33,249.33 461.00,246.00 C461.67,242.67 462.33,241.90 463.00,244.00 C463.67,246.10 464.33,258.13 465.00,258.60 C465.67,259.07 466.33,247.40 467.00,246.80 C467.67,246.20 468.42,253.90 469.00,255.00 C469.58,256.10 470.00,254.33 470.50,253.41 C471.00,252.50 471.42,251.20 472.00,249.50 C472.58,247.80 473.33,242.58 474.00,243.20 C474.67,243.82 475.44,251.32 476.00,253.20 C476.56,255.08 476.89,254.64 477.33,254.45 C477.78,254.26 478.22,252.42 478.67,252.06 C479.11,251.70 479.53,251.85 480.00,252.30 C480.47,252.75 481.00,254.30 481.50,254.75 C482.00,255.20 482.50,255.37 483.00,255.00 C483.50,254.63 484.00,253.73 484.50,252.51 C485.00,251.29 485.42,246.07 486.00,247.70 C486.58,249.33 487.33,262.15 488.00,262.30 C488.67,262.45 489.42,250.24 490.00,248.60 C490.58,246.96 491.00,251.38 491.50,252.45 C492.00,253.51 492.50,254.74 493.00,255.00 C493.50,255.26 494.00,254.58 494.50,253.98 C495.00,253.38 495.46,251.11 496.00,251.40 C496.54,251.69 497.17,254.79 497.75,255.69 C498.33,256.59 499.21,256.62 499.50,256.80" fill="none" stroke="#111" stroke-width="1.15" stroke-linejoin="round"/>
<line x1="314.6" y1="240.1" x2="314.6" y2="276.5" stroke="#777" stroke-width="1.25" stroke-dasharray="6,3.6"/>
<line x1="21.25" y1="276.5" x2="21.25" y2="271.9" stroke="#6a6a6a" stroke-width="0.6"/>
<line x1="21.25" y1="238.1" x2="21.25" y2="242.7" stroke="#6a6a6a" stroke-width="0.6"/>
<line x1="109.45" y1="276.5" x2="109.45" y2="271.9" stroke="#6a6a6a" stroke-width="0.6"/>
<line x1="109.45" y1="238.1" x2="109.45" y2="242.7" stroke="#6a6a6a" stroke-width="0.6"/>
<line x1="197.65" y1="276.5" x2="197.65" y2="271.9" stroke="#6a6a6a" stroke-width="0.6"/>
<line x1="197.65" y1="238.1" x2="197.65" y2="242.7" stroke="#6a6a6a" stroke-width="0.6"/>
<line x1="285.85" y1="276.5" x2="285.85" y2="271.9" stroke="#6a6a6a" stroke-width="0.6"/>
<line x1="285.85" y1="238.1" x2="285.85" y2="242.7" stroke="#6a6a6a" stroke-width="0.6"/>
<line x1="374.05" y1="276.5" x2="374.05" y2="271.9" stroke="#6a6a6a" stroke-width="0.6"/>
<line x1="374.05" y1="238.1" x2="374.05" y2="242.7" stroke="#6a6a6a" stroke-width="0.6"/>
<line x1="462.25" y1="276.5" x2="462.25" y2="271.9" stroke="#6a6a6a" stroke-width="0.6"/>
<line x1="462.25" y1="238.1" x2="462.25" y2="242.7" stroke="#6a6a6a" stroke-width="0.6"/>
<line x1="21.5" y1="247.3" x2="26.1" y2="247.3" stroke="#6a6a6a" stroke-width="0.6"/>
<line x1="499.5" y1="247.3" x2="494.9" y2="247.3" stroke="#6a6a6a" stroke-width="0.6"/>
<text x="18.4" y="249.35000000000002" font-family="Liberation Sans, Arial, sans-serif" font-size="5.7" fill="#262626" text-anchor="end">0.2</text>
<line x1="21.5" y1="261.0" x2="26.1" y2="261.0" stroke="#6a6a6a" stroke-width="0.6"/>
<line x1="499.5" y1="261.0" x2="494.9" y2="261.0" stroke="#6a6a6a" stroke-width="0.6"/>
<text x="18.4" y="263.05" font-family="Liberation Sans, Arial, sans-serif" font-size="5.7" fill="#262626" text-anchor="end">0.1</text>
<line x1="21.5" y1="274.6" x2="26.1" y2="274.6" stroke="#6a6a6a" stroke-width="0.6"/>
<line x1="499.5" y1="274.6" x2="494.9" y2="274.6" stroke="#6a6a6a" stroke-width="0.6"/>
<text x="18.4" y="276.65000000000003" font-family="Liberation Sans, Arial, sans-serif" font-size="5.7" fill="#262626" text-anchor="end">0</text>
<text x="21.25" y="284.6" font-family="Liberation Sans, Arial, sans-serif" font-size="5.7" fill="#262626" text-anchor="middle">0</text>
<text x="109.45" y="284.6" font-family="Liberation Sans, Arial, sans-serif" font-size="5.7" fill="#262626" text-anchor="middle">500</text>
<text x="197.65" y="284.6" font-family="Liberation Sans, Arial, sans-serif" font-size="5.7" fill="#262626" text-anchor="middle">1000</text>
<text x="285.85" y="284.6" font-family="Liberation Sans, Arial, sans-serif" font-size="5.7" fill="#262626" text-anchor="middle">1500</text>
<text x="374.05" y="284.6" font-family="Liberation Sans, Arial, sans-serif" font-size="5.7" fill="#262626" text-anchor="middle">2000</text>
<text x="462.25" y="284.6" font-family="Liberation Sans, Arial, sans-serif" font-size="5.7" fill="#262626" text-anchor="middle">2500</text>
<rect x="21.5" y="238.1" width="478.0" height="38.4" fill="none" stroke="#6a6a6a" stroke-width="0.7"/>
<text x="260.5" y="232.6" font-family="Liberation Sans, Arial, sans-serif" font-size="6.65" font-weight="bold" fill="#000" text-anchor="middle">JT - RR, A<tspan font-size="5.4" dy="2.9">d</tspan><tspan dy="-2.9">=14.34 (Panel D)</tspan></text>
<clipPath id="clipE"><rect x="21.5" y="300.5" width="478.0" height="38.4"/></clipPath>
<linearGradient id="gE0" gradientUnits="userSpaceOnUse" x1="21" y1="0" x2="61" y2="0"><stop offset="0.0125" stop-color="#afaffd"/><stop offset="0.0375" stop-color="#afaffd"/><stop offset="0.0625" stop-color="#dfdffe"/><stop offset="0.0875" stop-color="#d4d4fe"/><stop offset="0.1125" stop-color="#afaffd"/><stop offset="0.1375" stop-color="#a4a4fd"/><stop offset="0.1625" stop-color="#c2c2fe"/><stop offset="0.1875" stop-color="#c9c9fe"/><stop offset="0.2125" stop-color="#d4d4fe"/><stop offset="0.2375" stop-color="#efefff"/><stop offset="0.2625" stop-color="#efefff"/><stop offset="0.2875" stop-color="#c2c2fe"/><stop offset="0.3125" stop-color="#3e3ef2"/><stop offset="0.3375" stop-color="#0f0fe2"/><stop offset="0.3625" stop-color="#0f0fe2"/><stop offset="0.3875" stop-color="#6e6efa"/><stop offset="0.4125" stop-color="#fafaff"/><stop offset="0.4375" stop-color="#6060f8"/><stop offset="0.4625" stop-color="#2f2fef"/><stop offset="0.4875" stop-color="#7575fa"/><stop offset="0.5125" stop-color="#a4a4fd"/><stop offset="0.5375" stop-color="#d9d9fe"/><stop offset="0.5625" stop-color="#fafaff"/><stop offset="0.5875" stop-color="#8b8bfc"/><stop offset="0.6125" stop-color="#e4e4fe"/><stop offset="0.6375" stop-color="#8282fb"/><stop offset="0.6625" stop-color="#bfbffd"/><stop offset="0.6875" stop-color="#7575fa"/><stop offset="0.7125" stop-color="#aeaefd"/><stop offset="0.7375" stop-color="#3f3ff2"/><stop offset="0.7625" stop-color="#3f3ff2"/><stop offset="0.7875" stop-color="#bfbffd"/><stop offset="0.8125" stop-color="#7e7efb"/><stop offset="0.8375" stop-color="#9a9afc"/><stop offset="0.8625" stop-color="#9a9afc"/><stop offset="0.8875" stop-color="#7575fa"/><stop offset="0.9125" stop-color="#7575fa"/><stop offset="0.9375" stop-color="#5353f6"/><stop offset="0.9625" stop-color="#5353f6"/><stop offset="0.9875" stop-color="#7575fa"/></linearGradient>
<linearGradient id="gE1" gradientUnits="userSpaceOnUse" x1="61" y1="0" x2="101" y2="0"><stop offset="0.0125" stop-color="#7575fa"/><stop offset="0.0375" stop-color="#aeaefd"/><stop offset="0.0625" stop-color="#9090fc"/><stop offset="0.0875" stop-color="#9090fc"/><stop offset="0.1125" stop-color="#a4a4fd"/><stop offset="0.1375" stop-color="#a4a4fd"/><stop offset="0.1625" stop-color="#8282fb"/><stop offset="0.1875" stop-color="#8282fb"/><stop offset="0.2125" stop-color="#9a9afc"/><stop offset="0.2375" stop-color="#9a9afc"/><stop offset="0.2625" stop-color="#7575fa"/><stop offset="0.2875" stop-color="#d9d9fe"/><stop offset="0.3125" stop-color="#7575fa"/><stop offset="0.3375" stop-color="#d9d9fe"/><stop offset="0.3625" stop-color="#7575fa"/><stop offset="0.3875" stop-color="#d9d9fe"/><stop offset="0.4125" stop-color="#7575fa"/><stop offset="0.4375" stop-color="#a4a4fd"/><stop offset="0.4625" stop-color="#a4a4fd"/><stop offset="0.4875" stop-color="#d9d9fe"/><stop offset="0.5125" stop-color="#7575fa"/><stop offset="0.5375" stop-color="#7575fa"/><stop offset="0.5625" stop-color="#a4a4fd"/><stop offset="0.5875" stop-color="#7575fa"/><stop offset="0.6125" stop-color="#4949f4"/><stop offset="0.6375" stop-color="#4949f4"/><stop offset="0.6625" stop-color="#7575fa"/><stop offset="0.6875" stop-color="#4949f4"/><stop offset="0.7125" stop-color="#7575fa"/><stop offset="0.7375" stop-color="#4949f4"/><stop offset="0.7625" stop-color="#7575fa"/><stop offset="0.7875" stop-color="#4949f4"/><stop offset="0.8125" stop-color="#7575fa"/><stop offset="0.8375" stop-color="#7575fa"/><stop offset="0.8625" stop-color="#4949f4"/><stop offset="0.8875" stop-color="#7575fa"/><stop offset="0.9125" stop-color="#7575fa"/><stop offset="0.9375" stop-color="#4949f4"/><stop offset="0.9625" stop-color="#7575fa"/><stop offset="0.9875" stop-color="#7575fa"/></linearGradient>
<linearGradient id="gE2" gradientUnits="userSpaceOnUse" x1="101" y1="0" x2="135" y2="0"><stop offset="0.0147" stop-color="#4949f4"/><stop offset="0.0441" stop-color="#7575fa"/><stop offset="0.0735" stop-color="#7575fa"/><stop offset="0.1029" stop-color="#8b8bfc"/><stop offset="0.1324" stop-color="#7575fa"/><stop offset="0.1618" stop-color="#6060f8"/><stop offset="0.1912" stop-color="#8b8bfc"/><stop offset="0.2206" stop-color="#6060f8"/><stop offset="0.2500" stop-color="#4949f4"/><stop offset="0.2794" stop-color="#7575fa"/><stop offset="0.3088" stop-color="#8b8bfc"/><stop offset="0.3382" stop-color="#7575fa"/><stop offset="0.3676" stop-color="#7575fa"/><stop offset="0.3971" stop-color="#7575fa"/><stop offset="0.4265" stop-color="#7575fa"/><stop offset="0.4559" stop-color="#7575fa"/><stop offset="0.4853" stop-color="#7575fa"/><stop offset="0.5147" stop-color="#6060f8"/><stop offset="0.5441" stop-color="#4949f4"/><stop offset="0.5735" stop-color="#6060f8"/><stop offset="0.6029" stop-color="#7575fa"/><stop offset="0.6324" stop-color="#7575fa"/><stop offset="0.6618" stop-color="#7575fa"/><stop offset="0.6912" stop-color="#8b8bfc"/><stop offset="0.7206" stop-color="#8b8bfc"/><stop offset="0.7500" stop-color="#8b8bfc"/><stop offset="0.7794" stop-color="#8b8bfc"/><stop offset="0.8088" stop-color="#7575fa"/><stop offset="0.8382" stop-color="#8b8bfc"/><stop offset="0.8676" stop-color="#8b8bfc"/><stop offset="0.8971" stop-color="#6e6efa"/><stop offset="0.9265" stop-color="#7d7dfb"/><stop offset="0.9559" stop-color="#7d7dfb"/><stop offset="0.9853" stop-color="#7d7dfb"/></linearGradient>
<linearGradient id="gE3" gradientUnits="userSpaceOnUse" x1="135" y1="0" x2="175" y2="0"><stop offset="0.0125" stop-color="#6e6efa"/><stop offset="0.0375" stop-color="#7d7dfb"/><stop offset="0.0625" stop-color="#7d7dfb"/><stop offset="0.0875" stop-color="#7d7dfb"/><stop offset="0.1125" stop-color="#7d7dfb"/><stop offset="0.1375" stop-color="#7d7dfb"/><stop offset="0.1625" stop-color="#6b6bfa"/><stop offset="0.1875" stop-color="#7474fa"/><stop offset="0.2125" stop-color="#8181fb"/><stop offset="0.2375" stop-color="#8282fb"/><stop offset="0.2625" stop-color="#8383fb"/><stop offset="0.2875" stop-color="#7f7ffb"/><stop offset="0.3125" stop-color="#7c7cfb"/><stop offset="0.3375" stop-color="#7979fb"/><stop offset="0.3625" stop-color="#6f6ffa"/><stop offset="0.3875" stop-color="#7070fa"/><stop offset="0.4125" stop-color="#7474fa"/><stop offset="0.4375" stop-color="#6f6ffa"/><stop offset="0.4625" stop-color="#7171fa"/><stop offset="0.4875" stop-color="#7171fa"/><stop offset="0.5125" stop-color="#7676fb"/><stop offset="0.5375" stop-color="#7777fb"/><stop offset="0.5625" stop-color="#7474fa"/><stop offset="0.5875" stop-color="#6e6efa"/><stop offset="0.6125" stop-color="#6a6af9"/><stop offset="0.6375" stop-color="#7b7bfb"/><stop offset="0.6625" stop-color="#7c7cfb"/><stop offset="0.6875" stop-color="#7070fa"/><stop offset="0.7125" stop-color="#6e6efa"/><stop offset="0.7375" stop-color="#6f6ffa"/><stop offset="0.7625" stop-color="#7878fb"/><stop offset="0.7875" stop-color="#7f7ffb"/><stop offset="0.8125" stop-color="#7c7cfb"/><stop offset="0.8375" stop-color="#7b7bfb"/><stop offset="0.8625" stop-color="#7676fb"/><stop offset="0.8875" stop-color="#7777fb"/><stop offset="0.9125" stop-color="#7373fa"/><stop offset="0.9375" stop-color="#7676fb"/><stop offset="0.9625" stop-color="#7373fa"/><stop offset="0.9875" stop-color="#7c7cfb"/></linearGradient>
<linearGradient id="gE4" gradientUnits="userSpaceOnUse" x1="175" y1="0" x2="215" y2="0"><stop offset="0.0125" stop-color="#7d7dfb"/><stop offset="0.0375" stop-color="#7878fb"/><stop offset="0.0625" stop-color="#7373fa"/><stop offset="0.0875" stop-color="#7070fa"/><stop offset="0.1125" stop-color="#7777fb"/><stop offset="0.1375" stop-color="#7c7cfb"/><stop offset="0.1625" stop-color="#7777fb"/><stop offset="0.1875" stop-color="#7a7afb"/><stop offset="0.2125" stop-color="#8282fb"/><stop offset="0.2375" stop-color="#7b7bfb"/><stop offset="0.2625" stop-color="#7a7afb"/><stop offset="0.2875" stop-color="#7474fa"/><stop offset="0.3125" stop-color="#7777fb"/><stop offset="0.3375" stop-color="#7e7efb"/><stop offset="0.3625" stop-color="#7979fb"/><stop offset="0.3875" stop-color="#7f7ffb"/><stop offset="0.4125" stop-color="#8484fb"/><stop offset="0.4375" stop-color="#8484fb"/><stop offset="0.4625" stop-color="#7676fb"/><stop offset="0.4875" stop-color="#7a7afb"/><stop offset="0.5125" stop-color="#8484fb"/><stop offset="0.5375" stop-color="#7e7efb"/><stop offset="0.5625" stop-color="#7c7cfb"/><stop offset="0.5875" stop-color="#8b8bfc"/><stop offset="0.6125" stop-color="#8b8bfc"/><stop offset="0.6375" stop-color="#8484fb"/><stop offset="0.6625" stop-color="#6060f8"/><stop offset="0.6875" stop-color="#6464f9"/><stop offset="0.7125" stop-color="#6868f9"/><stop offset="0.7375" stop-color="#6b6bfa"/><stop offset="0.7625" stop-color="#6e6efa"/><stop offset="0.7875" stop-color="#7272fa"/><stop offset="0.8125" stop-color="#7575fa"/><stop offset="0.8375" stop-color="#7575fa"/><stop offset="0.8625" stop-color="#7777fb"/><stop offset="0.8875" stop-color="#7979fb"/><stop offset="0.9125" stop-color="#7d7dfb"/><stop offset="0.9375" stop-color="#8b8bfc"/><stop offset="0.9625" stop-color="#8787fc"/><stop offset="0.9875" stop-color="#8585fc"/></linearGradient>
<linearGradient id="gE5" gradientUnits="userSpaceOnUse" x1="215" y1="0" x2="255" y2="0"><stop offset="0.0125" stop-color="#7c7cfb"/><stop offset="0.0375" stop-color="#7b7bfb"/><stop offset="0.0625" stop-color="#8080fb"/><stop offset="0.0875" stop-color="#6c6cfa"/><stop offset="0.1125" stop-color="#6e6efa"/><stop offset="0.1375" stop-color="#6a6af9"/><stop offset="0.1625" stop-color="#6767f9"/><stop offset="0.1875" stop-color="#8585fc"/><stop offset="0.2125" stop-color="#8989fc"/><stop offset="0.2375" stop-color="#9494fc"/><stop offset="0.2625" stop-color="#8c8cfc"/><stop offset="0.2875" stop-color="#5d5df8"/><stop offset="0.3125" stop-color="#5757f7"/><stop offset="0.3375" stop-color="#5656f7"/><stop offset="0.3625" stop-color="#6e6efa"/><stop offset="0.3875" stop-color="#6f6ffa"/><stop offset="0.4125" stop-color="#6e6efa"/><stop offset="0.4375" stop-color="#6d6dfa"/><stop offset="0.4625" stop-color="#6c6cfa"/><stop offset="0.4875" stop-color="#6f6ffa"/><stop offset="0.5125" stop-color="#7474fa"/><stop offset="0.5375" stop-color="#8c8cfc"/><stop offset="0.5625" stop-color="#8686fc"/><stop offset="0.5875" stop-color="#8d8dfc"/><stop offset="0.6125" stop-color="#8787fc"/><stop offset="0.6375" stop-color="#7979fb"/><stop offset="0.6625" stop-color="#7676fb"/><stop offset="0.6875" stop-color="#8080fb"/><stop offset="0.7125" stop-color="#8d8dfc"/><stop offset="0.7375" stop-color="#8888fc"/><stop offset="0.7625" stop-color="#8787fc"/><stop offset="0.7875" stop-color="#8989fc"/><stop offset="0.8125" stop-color="#8888fc"/><stop offset="0.8375" stop-color="#8787fc"/><stop offset="0.8625" stop-color="#8c8cfc"/><stop offset="0.8875" stop-color="#6c6cfa"/><stop offset="0.9125" stop-color="#6464f9"/><stop offset="0.9375" stop-color="#6a6afa"/><stop offset="0.9625" stop-color="#7373fa"/><stop offset="0.9875" stop-color="#6f6ffa"/></linearGradient>
<linearGradient id="gE6" gradientUnits="userSpaceOnUse" x1="255" y1="0" x2="295" y2="0"><stop offset="0.0125" stop-color="#6a6afa"/><stop offset="0.0375" stop-color="#7474fa"/><stop offset="0.0625" stop-color="#7b7bfb"/><stop offset="0.0875" stop-color="#7575fa"/><stop offset="0.1125" stop-color="#7070fa"/><stop offset="0.1375" stop-color="#7474fa"/><stop offset="0.1625" stop-color="#5555f7"/><stop offset="0.1875" stop-color="#5151f6"/><stop offset="0.2125" stop-color="#5c5cf8"/><stop offset="0.2375" stop-color="#6e6efa"/><stop offset="0.2625" stop-color="#6c6cfa"/><stop offset="0.2875" stop-color="#7272fa"/><stop offset="0.3125" stop-color="#6e6efa"/><stop offset="0.3375" stop-color="#9b9bfc"/><stop offset="0.3625" stop-color="#9797fc"/><stop offset="0.3875" stop-color="#9c9cfc"/><stop offset="0.4125" stop-color="#9393fc"/><stop offset="0.4375" stop-color="#7f7ffb"/><stop offset="0.4625" stop-color="#8787fc"/><stop offset="0.4875" stop-color="#8686fc"/><stop offset="0.5125" stop-color="#9e9efd"/><stop offset="0.5375" stop-color="#a6a6fd"/><stop offset="0.5625" stop-color="#a5a5fd"/><stop offset="0.5875" stop-color="#a3a3fd"/><stop offset="0.6125" stop-color="#a6a6fd"/><stop offset="0.6375" stop-color="#acacfd"/><stop offset="0.6625" stop-color="#a9a9fd"/><stop offset="0.6875" stop-color="#b0b0fd"/><stop offset="0.7125" stop-color="#a0a0fd"/><stop offset="0.7375" stop-color="#a1a1fd"/><stop offset="0.7625" stop-color="#a7a7fd"/><stop offset="0.7875" stop-color="#aeaefd"/><stop offset="0.8125" stop-color="#aaaafd"/><stop offset="0.8375" stop-color="#acacfd"/><stop offset="0.8625" stop-color="#a0a0fd"/><stop offset="0.8875" stop-color="#8f8ffc"/><stop offset="0.9125" stop-color="#9b9bfc"/><stop offset="0.9375" stop-color="#9898fc"/><stop offset="0.9625" stop-color="#9494fc"/><stop offset="0.9875" stop-color="#a1a1fd"/></linearGradient>
<linearGradient id="gE7" gradientUnits="userSpaceOnUse" x1="295" y1="0" x2="352" y2="0"><stop offset="0.0088" stop-color="#9b9bfc"/><stop offset="0.0263" stop-color="#9292fc"/><stop offset="0.0439" stop-color="#9191fc"/><stop offset="0.0614" stop-color="#9e9efd"/><stop offset="0.0789" stop-color="#9a9afc"/><stop offset="0.0965" stop-color="#a5a5fd"/><stop offset="0.1140" stop-color="#a9a9fd"/><stop offset="0.1316" stop-color="#b4b4fd"/><stop offset="0.1491" stop-color="#bcbcfd"/><stop offset="0.1667" stop-color="#9e9efd"/><stop offset="0.1842" stop-color="#9898fc"/><stop offset="0.2018" stop-color="#9999fc"/><stop offset="0.2193" stop-color="#9898fc"/><stop offset="0.2368" stop-color="#9a9afc"/><stop offset="0.2544" stop-color="#9999fc"/><stop offset="0.2719" stop-color="#9898fc"/><stop offset="0.2895" stop-color="#a3a3fd"/><stop offset="0.3070" stop-color="#9f9ffd"/><stop offset="0.3246" stop-color="#9a9afc"/><stop offset="0.3421" stop-color="#9999fc"/><stop offset="0.3596" stop-color="#8c8cfc"/><stop offset="0.3772" stop-color="#9d9dfc"/><stop offset="0.3947" stop-color="#a4a4fd"/><stop offset="0.4123" stop-color="#b0b0fd"/><stop offset="0.4298" stop-color="#a9a9fd"/><stop offset="0.4474" stop-color="#9d9dfc"/><stop offset="0.4649" stop-color="#9a9afc"/><stop offset="0.4825" stop-color="#9c9cfc"/><stop offset="0.5000" stop-color="#9a9afc"/><stop offset="0.5175" stop-color="#9a9afc"/><stop offset="0.5351" stop-color="#a3a3fd"/><stop offset="0.5526" stop-color="#9696fc"/><stop offset="0.5702" stop-color="#9595fc"/><stop offset="0.5877" stop-color="#9292fc"/><stop offset="0.6053" stop-color="#8989fc"/><stop offset="0.6228" stop-color="#7b7bfb"/><stop offset="0.6404" stop-color="#8989fc"/><stop offset="0.6579" stop-color="#8484fb"/><stop offset="0.6754" stop-color="#9494fc"/><stop offset="0.6930" stop-color="#9797fc"/><stop offset="0.7105" stop-color="#9f9ffd"/><stop offset="0.7281" stop-color="#a0a0fd"/><stop offset="0.7456" stop-color="#a5a5fd"/><stop offset="0.7632" stop-color="#9f9ffd"/><stop offset="0.7807" stop-color="#9494fc"/><stop offset="0.7982" stop-color="#8a8afc"/><stop offset="0.8158" stop-color="#9191fc"/><stop offset="0.8333" stop-color="#9b9bfc"/><stop offset="0.8509" stop-color="#9292fc"/><stop offset="0.8684" stop-color="#8888fc"/><stop offset="0.8860" stop-color="#9e9efd"/><stop offset="0.9035" stop-color="#9d9dfc"/><stop offset="0.9211" stop-color="#9797fc"/><stop offset="0.9386" stop-color="#9999fc"/><stop offset="0.9561" stop-color="#a2a2fd"/><stop offset="0.9737" stop-color="#9a9afc"/><stop offset="0.9912" stop-color="#9494fc"/></linearGradient>
<linearGradient id="gE8" gradientUnits="userSpaceOnUse" x1="352" y1="0" x2="381" y2="0"><stop offset="0.0172" stop-color="#a2a2fd"/><stop offset="0.0517" stop-color="#a1a1fd"/><stop offset="0.0862" stop-color="#9999fc"/><stop offset="0.1207" stop-color="#8484fb"/><stop offset="0.1552" stop-color="#7d7dfb"/><stop offset="0.1897" stop-color="#d4d4fe"/><stop offset="0.2241" stop-color="#d4d4fe"/><stop offset="0.2586" stop-color="#8c8cfc"/><stop offset="0.2931" stop-color="#8c8cfc"/><stop offset="0.3276" stop-color="#c2c2fe"/><stop offset="0.3621" stop-color="#c2c2fe"/><stop offset="0.3966" stop-color="#c2c2fe"/><stop offset="0.4310" stop-color="#9e9efc"/><stop offset="0.4655" stop-color="#9e9efc"/><stop offset="0.5000" stop-color="#9e9efc"/><stop offset="0.5345" stop-color="#d4d4fe"/><stop offset="0.5690" stop-color="#d4d4fe"/><stop offset="0.6034" stop-color="#d4d4fe"/><stop offset="0.6379" stop-color="#afaffd"/><stop offset="0.6724" stop-color="#afaffd"/><stop offset="0.7069" stop-color="#afaffd"/><stop offset="0.7414" stop-color="#d4d4fe"/><stop offset="0.7759" stop-color="#d4d4fe"/><stop offset="0.8103" stop-color="#d4d4fe"/><stop offset="0.8448" stop-color="#afaffd"/><stop offset="0.8793" stop-color="#afaffd"/><stop offset="0.9138" stop-color="#d4d4fe"/><stop offset="0.9483" stop-color="#d4d4fe"/><stop offset="0.9828" stop-color="#d4d4fe"/></linearGradient>
<linearGradient id="gE9" gradientUnits="userSpaceOnUse" x1="381" y1="0" x2="421" y2="0"><stop offset="0.0125" stop-color="#bebefd"/><stop offset="0.0375" stop-color="#d6d6fe"/><stop offset="0.0625" stop-color="#bebefd"/><stop offset="0.0875" stop-color="#efefff"/><stop offset="0.1125" stop-color="#a6a6fd"/><stop offset="0.1375" stop-color="#d6d6fe"/><stop offset="0.1625" stop-color="#a6a6fd"/><stop offset="0.1875" stop-color="#bebefd"/><stop offset="0.2125" stop-color="#d6d6fe"/><stop offset="0.2375" stop-color="#a6a6fd"/><stop offset="0.2625" stop-color="#d6d6fe"/><stop offset="0.2875" stop-color="#a6a6fd"/><stop offset="0.3125" stop-color="#9090fc"/><stop offset="0.3375" stop-color="#9090fc"/><stop offset="0.3625" stop-color="#9090fc"/><stop offset="0.3875" stop-color="#8787fc"/><stop offset="0.4125" stop-color="#9090fc"/><stop offset="0.4375" stop-color="#9999fc"/><stop offset="0.4625" stop-color="#9090fc"/><stop offset="0.4875" stop-color="#9090fc"/><stop offset="0.5125" stop-color="#9999fc"/><stop offset="0.5375" stop-color="#9090fc"/><stop offset="0.5625" stop-color="#8787fc"/><stop offset="0.5875" stop-color="#9090fc"/><stop offset="0.6125" stop-color="#7c7cfb"/><stop offset="0.6375" stop-color="#3f3ff2"/><stop offset="0.6625" stop-color="#2929ec"/><stop offset="0.6875" stop-color="#7c7cfb"/><stop offset="0.7125" stop-color="#9090fc"/><stop offset="0.7375" stop-color="#a6a6fd"/><stop offset="0.7625" stop-color="#9090fc"/><stop offset="0.7875" stop-color="#a6a6fd"/><stop offset="0.8125" stop-color="#9090fc"/><stop offset="0.8375" stop-color="#7c7cfb"/><stop offset="0.8625" stop-color="#6868f9"/><stop offset="0.8875" stop-color="#9090fc"/><stop offset="0.9125" stop-color="#9090fc"/><stop offset="0.9375" stop-color="#7c7cfb"/><stop offset="0.9625" stop-color="#9090fc"/><stop offset="0.9875" stop-color="#9090fc"/></linearGradient>
<linearGradient id="gE10" gradientUnits="userSpaceOnUse" x1="421" y1="0" x2="461" y2="0"><stop offset="0.0125" stop-color="#6868f9"/><stop offset="0.0375" stop-color="#6868f9"/><stop offset="0.0625" stop-color="#7c7cfb"/><stop offset="0.0875" stop-color="#6868f9"/><stop offset="0.1125" stop-color="#7c7cfb"/><stop offset="0.1375" stop-color="#6868f9"/><stop offset="0.1625" stop-color="#7c7cfb"/><stop offset="0.1875" stop-color="#6868f9"/><stop offset="0.2125" stop-color="#7c7cfb"/><stop offset="0.2375" stop-color="#6868f9"/><stop offset="0.2625" stop-color="#6868f9"/><stop offset="0.2875" stop-color="#7c7cfb"/><stop offset="0.3125" stop-color="#7c7cfb"/><stop offset="0.3375" stop-color="#7c7cfb"/><stop offset="0.3625" stop-color="#6868f9"/><stop offset="0.3875" stop-color="#7c7cfb"/><stop offset="0.4125" stop-color="#7c7cfb"/><stop offset="0.4375" stop-color="#7c7cfb"/><stop offset="0.4625" stop-color="#7c7cfb"/><stop offset="0.4875" stop-color="#7c7cfb"/><stop offset="0.5125" stop-color="#5555f7"/><stop offset="0.5375" stop-color="#3f3ff2"/><stop offset="0.5625" stop-color="#6868f9"/><stop offset="0.5875" stop-color="#7c7cfb"/><stop offset="0.6125" stop-color="#a6a6fd"/><stop offset="0.6375" stop-color="#9090fc"/><stop offset="0.6625" stop-color="#6868f9"/><stop offset="0.6875" stop-color="#7c7cfb"/><stop offset="0.7125" stop-color="#5555f7"/><stop offset="0.7375" stop-color="#6868f9"/><stop offset="0.7625" stop-color="#7c7cfb"/><stop offset="0.7875" stop-color="#6868f9"/><stop offset="0.8125" stop-color="#6868f9"/><stop offset="0.8375" stop-color="#5555f7"/><stop offset="0.8625" stop-color="#6868f9"/><stop offset="0.8875" stop-color="#a6a6fd"/><stop offset="0.9125" stop-color="#a6a6fd"/><stop offset="0.9375" stop-color="#7c7cfb"/><stop offset="0.9625" stop-color="#6868f9"/><stop offset="0.9875" stop-color="#7c7cfb"/></linearGradient>
<linearGradient id="gE11" gradientUnits="userSpaceOnUse" x1="461" y1="0" x2="500" y2="0"><stop offset="0.0128" stop-color="#6868f9"/><stop offset="0.0385" stop-color="#9090fc"/><stop offset="0.0641" stop-color="#6868f9"/><stop offset="0.0897" stop-color="#a6a6fd"/><stop offset="0.1154" stop-color="#7c7cfb"/><stop offset="0.1410" stop-color="#9090fc"/><stop offset="0.1667" stop-color="#7c7cfb"/><stop offset="0.1923" stop-color="#7c7cfb"/><stop offset="0.2179" stop-color="#6868f9"/><stop offset="0.2436" stop-color="#5555f7"/><stop offset="0.2692" stop-color="#6868f9"/><stop offset="0.2949" stop-color="#6868f9"/><stop offset="0.3205" stop-color="#7c7cfb"/><stop offset="0.3462" stop-color="#5555f7"/><stop offset="0.3718" stop-color="#6868f9"/><stop offset="0.3974" stop-color="#7c7cfb"/><stop offset="0.4231" stop-color="#7c7cfb"/><stop offset="0.4487" stop-color="#7c7cfb"/><stop offset="0.4744" stop-color="#6868f9"/><stop offset="0.5000" stop-color="#7c7cfb"/><stop offset="0.5256" stop-color="#7c7cfb"/><stop offset="0.5513" stop-color="#7c7cfb"/><stop offset="0.5769" stop-color="#7c7cfb"/><stop offset="0.6026" stop-color="#9090fc"/><stop offset="0.6282" stop-color="#7c7cfb"/><stop offset="0.6538" stop-color="#7c7cfb"/><stop offset="0.6795" stop-color="#a6a6fd"/><stop offset="0.7051" stop-color="#9090fc"/><stop offset="0.7308" stop-color="#7c7cfb"/><stop offset="0.7564" stop-color="#7c7cfb"/><stop offset="0.7821" stop-color="#7c7cfb"/><stop offset="0.8077" stop-color="#9090fc"/><stop offset="0.8333" stop-color="#9090fc"/><stop offset="0.8590" stop-color="#7c7cfb"/><stop offset="0.8846" stop-color="#7c7cfb"/><stop offset="0.9103" stop-color="#9090fc"/><stop offset="0.9359" stop-color="#9090fc"/><stop offset="0.9615" stop-color="#9090fc"/><stop offset="0.9872" stop-color="#9090fc"/></linearGradient>
<filter id="blurE" x="-2%" y="-10%" width="104%" height="120%"><feGaussianBlur stdDeviation="0.4 0.5"/></filter>
<g clip-path="url(#clipE)"><g filter="url(#blurE)">
<rect x="129" y="297.5" width="52" height="44.4" fill="url(#gE3)"/>
<rect x="169" y="297.5" width="52" height="44.4" fill="url(#gE4)"/>
<rect x="209" y="297.5" width="52" height="44.4" fill="url(#gE5)"/>
<rect x="249" y="297.5" width="52" height="44.4" fill="url(#gE6)"/>
<rect x="289" y="297.5" width="69" height="44.4" fill="url(#gE7)"/>
<g transform="translate(-4.557,0)">
<rect x="0" y="297.50" width="61.4" height="1.15" fill="url(#gE0)"/>
<rect x="61" y="297.50" width="40.4" height="1.15" fill="url(#gE1)"/>
<rect x="101" y="297.50" width="34.4" height="1.15" fill="url(#gE2)"/>
<rect x="352" y="297.50" width="29.4" height="1.15" fill="url(#gE8)"/>
<rect x="381" y="297.50" width="40.4" height="1.15" fill="url(#gE9)"/>
<rect x="421" y="297.50" width="40.4" height="1.15" fill="url(#gE10)"/>
<rect x="461" y="297.50" width="79.0" height="1.15" fill="url(#gE11)"/>
</g>
<g transform="translate(-4.347,0)">
<rect x="0" y="298.50" width="61.4" height="1.15" fill="url(#gE0)"/>
<rect x="61" y="298.50" width="40.4" height="1.15" fill="url(#gE1)"/>
<rect x="101" y="298.50" width="34.4" height="1.15" fill="url(#gE2)"/>
<rect x="352" y="298.50" width="29.4" height="1.15" fill="url(#gE8)"/>
<rect x="381" y="298.50" width="40.4" height="1.15" fill="url(#gE9)"/>
<rect x="421" y="298.50" width="40.4" height="1.15" fill="url(#gE10)"/>
<rect x="461" y="298.50" width="79.0" height="1.15" fill="url(#gE11)"/>
</g>
<g transform="translate(-4.137,0)">
<rect x="0" y="299.50" width="61.4" height="1.15" fill="url(#gE0)"/>
<rect x="61" y="299.50" width="40.4" height="1.15" fill="url(#gE1)"/>
<rect x="101" y="299.50" width="34.4" height="1.15" fill="url(#gE2)"/>
<rect x="352" y="299.50" width="29.4" height="1.15" fill="url(#gE8)"/>
<rect x="381" y="299.50" width="40.4" height="1.15" fill="url(#gE9)"/>
<rect x="421" y="299.50" width="40.4" height="1.15" fill="url(#gE10)"/>
<rect x="461" y="299.50" width="79.0" height="1.15" fill="url(#gE11)"/>
</g>
<g transform="translate(-3.927,0)">
<rect x="0" y="300.50" width="61.4" height="1.15" fill="url(#gE0)"/>
<rect x="61" y="300.50" width="40.4" height="1.15" fill="url(#gE1)"/>
<rect x="101" y="300.50" width="34.4" height="1.15" fill="url(#gE2)"/>
<rect x="352" y="300.50" width="29.4" height="1.15" fill="url(#gE8)"/>
<rect x="381" y="300.50" width="40.4" height="1.15" fill="url(#gE9)"/>
<rect x="421" y="300.50" width="40.4" height="1.15" fill="url(#gE10)"/>
<rect x="461" y="300.50" width="79.0" height="1.15" fill="url(#gE11)"/>
</g>
<g transform="translate(-3.717,0)">
<rect x="0" y="301.50" width="61.4" height="1.15" fill="url(#gE0)"/>
<rect x="61" y="301.50" width="40.4" height="1.15" fill="url(#gE1)"/>
<rect x="101" y="301.50" width="34.4" height="1.15" fill="url(#gE2)"/>
<rect x="352" y="301.50" width="29.4" height="1.15" fill="url(#gE8)"/>
<rect x="381" y="301.50" width="40.4" height="1.15" fill="url(#gE9)"/>
<rect x="421" y="301.50" width="40.4" height="1.15" fill="url(#gE10)"/>
<rect x="461" y="301.50" width="79.0" height="1.15" fill="url(#gE11)"/>
</g>
<g transform="translate(-3.507,0)">
<rect x="0" y="302.50" width="61.4" height="1.15" fill="url(#gE0)"/>
<rect x="61" y="302.50" width="40.4" height="1.15" fill="url(#gE1)"/>
<rect x="101" y="302.50" width="34.4" height="1.15" fill="url(#gE2)"/>
<rect x="352" y="302.50" width="29.4" height="1.15" fill="url(#gE8)"/>
<rect x="381" y="302.50" width="40.4" height="1.15" fill="url(#gE9)"/>
<rect x="421" y="302.50" width="40.4" height="1.15" fill="url(#gE10)"/>
<rect x="461" y="302.50" width="79.0" height="1.15" fill="url(#gE11)"/>
</g>
<g transform="translate(-3.297,0)">
<rect x="0" y="303.50" width="61.4" height="1.15" fill="url(#gE0)"/>
<rect x="61" y="303.50" width="40.4" height="1.15" fill="url(#gE1)"/>
<rect x="101" y="303.50" width="34.4" height="1.15" fill="url(#gE2)"/>
<rect x="352" y="303.50" width="29.4" height="1.15" fill="url(#gE8)"/>
<rect x="381" y="303.50" width="40.4" height="1.15" fill="url(#gE9)"/>
<rect x="421" y="303.50" width="40.4" height="1.15" fill="url(#gE10)"/>
<rect x="461" y="303.50" width="79.0" height="1.15" fill="url(#gE11)"/>
</g>
<g transform="translate(-3.087,0)">
<rect x="0" y="304.50" width="61.4" height="1.15" fill="url(#gE0)"/>
<rect x="61" y="304.50" width="40.4" height="1.15" fill="url(#gE1)"/>
<rect x="101" y="304.50" width="34.4" height="1.15" fill="url(#gE2)"/>
<rect x="352" y="304.50" width="29.4" height="1.15" fill="url(#gE8)"/>
<rect x="381" y="304.50" width="40.4" height="1.15" fill="url(#gE9)"/>
<rect x="421" y="304.50" width="40.4" height="1.15" fill="url(#gE10)"/>
<rect x="461" y="304.50" width="79.0" height="1.15" fill="url(#gE11)"/>
</g>
<g transform="translate(-2.877,0)">
<rect x="0" y="305.50" width="61.4" height="1.15" fill="url(#gE0)"/>
<rect x="61" y="305.50" width="40.4" height="1.15" fill="url(#gE1)"/>
<rect x="101" y="305.50" width="34.4" height="1.15" fill="url(#gE2)"/>
<rect x="352" y="305.50" width="29.4" height="1.15" fill="url(#gE8)"/>
<rect x="381" y="305.50" width="40.4" height="1.15" fill="url(#gE9)"/>
<rect x="421" y="305.50" width="40.4" height="1.15" fill="url(#gE10)"/>
<rect x="461" y="305.50" width="79.0" height="1.15" fill="url(#gE11)"/>
</g>
<g transform="translate(-2.667,0)">
<rect x="0" y="306.50" width="61.4" height="1.15" fill="url(#gE0)"/>
<rect x="61" y="306.50" width="40.4" height="1.15" fill="url(#gE1)"/>
<rect x="101" y="306.50" width="34.4" height="1.15" fill="url(#gE2)"/>
<rect x="352" y="306.50" width="29.4" height="1.15" fill="url(#gE8)"/>
<rect x="381" y="306.50" width="40.4" height="1.15" fill="url(#gE9)"/>
<rect x="421" y="306.50" width="40.4" height="1.15" fill="url(#gE10)"/>
<rect x="461" y="306.50" width="79.0" height="1.15" fill="url(#gE11)"/>
</g>
<g transform="translate(-2.457,0)">
<rect x="0" y="307.50" width="61.4" height="1.15" fill="url(#gE0)"/>
<rect x="61" y="307.50" width="40.4" height="1.15" fill="url(#gE1)"/>
<rect x="101" y="307.50" width="34.4" height="1.15" fill="url(#gE2)"/>
<rect x="352" y="307.50" width="29.4" height="1.15" fill="url(#gE8)"/>
<rect x="381" y="307.50" width="40.4" height="1.15" fill="url(#gE9)"/>
<rect x="421" y="307.50" width="40.4" height="1.15" fill="url(#gE10)"/>
<rect x="461" y="307.50" width="79.0" height="1.15" fill="url(#gE11)"/>
</g>
<g transform="translate(-2.247,0)">
<rect x="0" y="308.50" width="61.4" height="1.15" fill="url(#gE0)"/>
<rect x="61" y="308.50" width="40.4" height="1.15" fill="url(#gE1)"/>
<rect x="101" y="308.50" width="34.4" height="1.15" fill="url(#gE2)"/>
<rect x="352" y="308.50" width="29.4" height="1.15" fill="url(#gE8)"/>
<rect x="381" y="308.50" width="40.4" height="1.15" fill="url(#gE9)"/>
<rect x="421" y="308.50" width="40.4" height="1.15" fill="url(#gE10)"/>
<rect x="461" y="308.50" width="79.0" height="1.15" fill="url(#gE11)"/>
</g>
<g transform="translate(-2.037,0)">
<rect x="0" y="309.50" width="61.4" height="1.15" fill="url(#gE0)"/>
<rect x="61" y="309.50" width="40.4" height="1.15" fill="url(#gE1)"/>
<rect x="101" y="309.50" width="34.4" height="1.15" fill="url(#gE2)"/>
<rect x="352" y="309.50" width="29.4" height="1.15" fill="url(#gE8)"/>
<rect x="381" y="309.50" width="40.4" height="1.15" fill="url(#gE9)"/>
<rect x="421" y="309.50" width="40.4" height="1.15" fill="url(#gE10)"/>
<rect x="461" y="309.50" width="79.0" height="1.15" fill="url(#gE11)"/>
</g>
<g transform="translate(-1.827,0)">
<rect x="0" y="310.50" width="61.4" height="1.15" fill="url(#gE0)"/>
<rect x="61" y="310.50" width="40.4" height="1.15" fill="url(#gE1)"/>
<rect x="101" y="310.50" width="34.4" height="1.15" fill="url(#gE2)"/>
<rect x="352" y="310.50" width="29.4" height="1.15" fill="url(#gE8)"/>
<rect x="381" y="310.50" width="40.4" height="1.15" fill="url(#gE9)"/>
<rect x="421" y="310.50" width="40.4" height="1.15" fill="url(#gE10)"/>
<rect x="461" y="310.50" width="79.0" height="1.15" fill="url(#gE11)"/>
</g>
<g transform="translate(-1.617,0)">
<rect x="0" y="311.50" width="61.4" height="1.15" fill="url(#gE0)"/>
<rect x="61" y="311.50" width="40.4" height="1.15" fill="url(#gE1)"/>
<rect x="101" y="311.50" width="34.4" height="1.15" fill="url(#gE2)"/>
<rect x="352" y="311.50" width="29.4" height="1.15" fill="url(#gE8)"/>
<rect x="381" y="311.50" width="40.4" height="1.15" fill="url(#gE9)"/>
<rect x="421" y="311.50" width="40.4" height="1.15" fill="url(#gE10)"/>
<rect x="461" y="311.50" width="79.0" height="1.15" fill="url(#gE11)"/>
</g>
<g transform="translate(-1.407,0)">
<rect x="0" y="312.50" width="61.4" height="1.15" fill="url(#gE0)"/>
<rect x="61" y="312.50" width="40.4" height="1.15" fill="url(#gE1)"/>
<rect x="101" y="312.50" width="34.4" height="1.15" fill="url(#gE2)"/>
<rect x="352" y="312.50" width="29.4" height="1.15" fill="url(#gE8)"/>
<rect x="381" y="312.50" width="40.4" height="1.15" fill="url(#gE9)"/>
<rect x="421" y="312.50" width="40.4" height="1.15" fill="url(#gE10)"/>
<rect x="461" y="312.50" width="79.0" height="1.15" fill="url(#gE11)"/>
</g>
<g transform="translate(-1.197,0)">
<rect x="0" y="313.50" width="61.4" height="1.15" fill="url(#gE0)"/>
<rect x="61" y="313.50" width="40.4" height="1.15" fill="url(#gE1)"/>
<rect x="101" y="313.50" width="34.4" height="1.15" fill="url(#gE2)"/>
<rect x="352" y="313.50" width="29.4" height="1.15" fill="url(#gE8)"/>
<rect x="381" y="313.50" width="40.4" height="1.15" fill="url(#gE9)"/>
<rect x="421" y="313.50" width="40.4" height="1.15" fill="url(#gE10)"/>
<rect x="461" y="313.50" width="79.0" height="1.15" fill="url(#gE11)"/>
</g>
<g transform="translate(-0.987,0)">
<rect x="0" y="314.50" width="61.4" height="1.15" fill="url(#gE0)"/>
<rect x="61" y="314.50" width="40.4" height="1.15" fill="url(#gE1)"/>
<rect x="101" y="314.50" width="34.4" height="1.15" fill="url(#gE2)"/>
<rect x="352" y="314.50" width="29.4" height="1.15" fill="url(#gE8)"/>
<rect x="381" y="314.50" width="40.4" height="1.15" fill="url(#gE9)"/>
<rect x="421" y="314.50" width="40.4" height="1.15" fill="url(#gE10)"/>
<rect x="461" y="314.50" width="79.0" height="1.15" fill="url(#gE11)"/>
</g>
<g transform="translate(-0.777,0)">
<rect x="0" y="315.50" width="61.4" height="1.15" fill="url(#gE0)"/>
<rect x="61" y="315.50" width="40.4" height="1.15" fill="url(#gE1)"/>
<rect x="101" y="315.50" width="34.4" height="1.15" fill="url(#gE2)"/>
<rect x="352" y="315.50" width="29.4" height="1.15" fill="url(#gE8)"/>
<rect x="381" y="315.50" width="40.4" height="1.15" fill="url(#gE9)"/>
<rect x="421" y="315.50" width="40.4" height="1.15" fill="url(#gE10)"/>
<rect x="461" y="315.50" width="79.0" height="1.15" fill="url(#gE11)"/>
</g>
<g transform="translate(-0.567,0)">
<rect x="0" y="316.50" width="61.4" height="1.15" fill="url(#gE0)"/>
<rect x="61" y="316.50" width="40.4" height="1.15" fill="url(#gE1)"/>
<rect x="101" y="316.50" width="34.4" height="1.15" fill="url(#gE2)"/>
<rect x="352" y="316.50" width="29.4" height="1.15" fill="url(#gE8)"/>
<rect x="381" y="316.50" width="40.4" height="1.15" fill="url(#gE9)"/>
<rect x="421" y="316.50" width="40.4" height="1.15" fill="url(#gE10)"/>
<rect x="461" y="316.50" width="79.0" height="1.15" fill="url(#gE11)"/>
</g>
<g transform="translate(-0.357,0)">
<rect x="0" y="317.50" width="61.4" height="1.15" fill="url(#gE0)"/>
<rect x="61" y="317.50" width="40.4" height="1.15" fill="url(#gE1)"/>
<rect x="101" y="317.50" width="34.4" height="1.15" fill="url(#gE2)"/>
<rect x="352" y="317.50" width="29.4" height="1.15" fill="url(#gE8)"/>
<rect x="381" y="317.50" width="40.4" height="1.15" fill="url(#gE9)"/>
<rect x="421" y="317.50" width="40.4" height="1.15" fill="url(#gE10)"/>
<rect x="461" y="317.50" width="79.0" height="1.15" fill="url(#gE11)"/>
</g>
<g transform="translate(-0.147,0)">
<rect x="0" y="318.50" width="61.4" height="1.15" fill="url(#gE0)"/>
<rect x="61" y="318.50" width="40.4" height="1.15" fill="url(#gE1)"/>
<rect x="101" y="318.50" width="34.4" height="1.15" fill="url(#gE2)"/>
<rect x="352" y="318.50" width="29.4" height="1.15" fill="url(#gE8)"/>
<rect x="381" y="318.50" width="40.4" height="1.15" fill="url(#gE9)"/>
<rect x="421" y="318.50" width="40.4" height="1.15" fill="url(#gE10)"/>
<rect x="461" y="318.50" width="79.0" height="1.15" fill="url(#gE11)"/>
</g>
<g transform="translate(0.063,0)">
<rect x="0" y="319.50" width="61.4" height="1.15" fill="url(#gE0)"/>
<rect x="61" y="319.50" width="40.4" height="1.15" fill="url(#gE1)"/>
<rect x="101" y="319.50" width="34.4" height="1.15" fill="url(#gE2)"/>
<rect x="352" y="319.50" width="29.4" height="1.15" fill="url(#gE8)"/>
<rect x="381" y="319.50" width="40.4" height="1.15" fill="url(#gE9)"/>
<rect x="421" y="319.50" width="40.4" height="1.15" fill="url(#gE10)"/>
<rect x="461" y="319.50" width="79.0" height="1.15" fill="url(#gE11)"/>
</g>
<g transform="translate(0.273,0)">
<rect x="0" y="320.50" width="61.4" height="1.15" fill="url(#gE0)"/>
<rect x="61" y="320.50" width="40.4" height="1.15" fill="url(#gE1)"/>
<rect x="101" y="320.50" width="34.4" height="1.15" fill="url(#gE2)"/>
<rect x="352" y="320.50" width="29.4" height="1.15" fill="url(#gE8)"/>
<rect x="381" y="320.50" width="40.4" height="1.15" fill="url(#gE9)"/>
<rect x="421" y="320.50" width="40.4" height="1.15" fill="url(#gE10)"/>
<rect x="461" y="320.50" width="79.0" height="1.15" fill="url(#gE11)"/>
</g>
<g transform="translate(0.483,0)">
<rect x="0" y="321.50" width="61.4" height="1.15" fill="url(#gE0)"/>
<rect x="61" y="321.50" width="40.4" height="1.15" fill="url(#gE1)"/>
<rect x="101" y="321.50" width="34.4" height="1.15" fill="url(#gE2)"/>
<rect x="352" y="321.50" width="29.4" height="1.15" fill="url(#gE8)"/>
<rect x="381" y="321.50" width="40.4" height="1.15" fill="url(#gE9)"/>
<rect x="421" y="321.50" width="40.4" height="1.15" fill="url(#gE10)"/>
<rect x="461" y="321.50" width="79.0" height="1.15" fill="url(#gE11)"/>
</g>
<g transform="translate(0.693,0)">
<rect x="0" y="322.50" width="61.4" height="1.15" fill="url(#gE0)"/>
<rect x="61" y="322.50" width="40.4" height="1.15" fill="url(#gE1)"/>
<rect x="101" y="322.50" width="34.4" height="1.15" fill="url(#gE2)"/>
<rect x="352" y="322.50" width="29.4" height="1.15" fill="url(#gE8)"/>
<rect x="381" y="322.50" width="40.4" height="1.15" fill="url(#gE9)"/>
<rect x="421" y="322.50" width="40.4" height="1.15" fill="url(#gE10)"/>
<rect x="461" y="322.50" width="79.0" height="1.15" fill="url(#gE11)"/>
</g>
<g transform="translate(0.903,0)">
<rect x="0" y="323.50" width="61.4" height="1.15" fill="url(#gE0)"/>
<rect x="61" y="323.50" width="40.4" height="1.15" fill="url(#gE1)"/>
<rect x="101" y="323.50" width="34.4" height="1.15" fill="url(#gE2)"/>
<rect x="352" y="323.50" width="29.4" height="1.15" fill="url(#gE8)"/>
<rect x="381" y="323.50" width="40.4" height="1.15" fill="url(#gE9)"/>
<rect x="421" y="323.50" width="40.4" height="1.15" fill="url(#gE10)"/>
<rect x="461" y="323.50" width="79.0" height="1.15" fill="url(#gE11)"/>
</g>
<g transform="translate(1.113,0)">
<rect x="0" y="324.50" width="61.4" height="1.15" fill="url(#gE0)"/>
<rect x="61" y="324.50" width="40.4" height="1.15" fill="url(#gE1)"/>
<rect x="101" y="324.50" width="34.4" height="1.15" fill="url(#gE2)"/>
<rect x="352" y="324.50" width="29.4" height="1.15" fill="url(#gE8)"/>
<rect x="381" y="324.50" width="40.4" height="1.15" fill="url(#gE9)"/>
<rect x="421" y="324.50" width="40.4" height="1.15" fill="url(#gE10)"/>
<rect x="461" y="324.50" width="79.0" height="1.15" fill="url(#gE11)"/>
</g>
<g transform="translate(1.323,0)">
<rect x="0" y="325.50" width="61.4" height="1.15" fill="url(#gE0)"/>
<rect x="61" y="325.50" width="40.4" height="1.15" fill="url(#gE1)"/>
<rect x="101" y="325.50" width="34.4" height="1.15" fill="url(#gE2)"/>
<rect x="352" y="325.50" width="29.4" height="1.15" fill="url(#gE8)"/>
<rect x="381" y="325.50" width="40.4" height="1.15" fill="url(#gE9)"/>
<rect x="421" y="325.50" width="40.4" height="1.15" fill="url(#gE10)"/>
<rect x="461" y="325.50" width="79.0" height="1.15" fill="url(#gE11)"/>
</g>
<g transform="translate(1.533,0)">
<rect x="0" y="326.50" width="61.4" height="1.15" fill="url(#gE0)"/>
<rect x="61" y="326.50" width="40.4" height="1.15" fill="url(#gE1)"/>
<rect x="101" y="326.50" width="34.4" height="1.15" fill="url(#gE2)"/>
<rect x="352" y="326.50" width="29.4" height="1.15" fill="url(#gE8)"/>
<rect x="381" y="326.50" width="40.4" height="1.15" fill="url(#gE9)"/>
<rect x="421" y="326.50" width="40.4" height="1.15" fill="url(#gE10)"/>
<rect x="461" y="326.50" width="79.0" height="1.15" fill="url(#gE11)"/>
</g>
<g transform="translate(1.743,0)">
<rect x="0" y="327.50" width="61.4" height="1.15" fill="url(#gE0)"/>
<rect x="61" y="327.50" width="40.4" height="1.15" fill="url(#gE1)"/>
<rect x="101" y="327.50" width="34.4" height="1.15" fill="url(#gE2)"/>
<rect x="352" y="327.50" width="29.4" height="1.15" fill="url(#gE8)"/>
<rect x="381" y="327.50" width="40.4" height="1.15" fill="url(#gE9)"/>
<rect x="421" y="327.50" width="40.4" height="1.15" fill="url(#gE10)"/>
<rect x="461" y="327.50" width="79.0" height="1.15" fill="url(#gE11)"/>
</g>
<g transform="translate(1.953,0)">
<rect x="0" y="328.50" width="61.4" height="1.15" fill="url(#gE0)"/>
<rect x="61" y="328.50" width="40.4" height="1.15" fill="url(#gE1)"/>
<rect x="101" y="328.50" width="34.4" height="1.15" fill="url(#gE2)"/>
<rect x="352" y="328.50" width="29.4" height="1.15" fill="url(#gE8)"/>
<rect x="381" y="328.50" width="40.4" height="1.15" fill="url(#gE9)"/>
<rect x="421" y="328.50" width="40.4" height="1.15" fill="url(#gE10)"/>
<rect x="461" y="328.50" width="79.0" height="1.15" fill="url(#gE11)"/>
</g>
<g transform="translate(2.163,0)">
<rect x="0" y="329.50" width="61.4" height="1.15" fill="url(#gE0)"/>
<rect x="61" y="329.50" width="40.4" height="1.15" fill="url(#gE1)"/>
<rect x="101" y="329.50" width="34.4" height="1.15" fill="url(#gE2)"/>
<rect x="352" y="329.50" width="29.4" height="1.15" fill="url(#gE8)"/>
<rect x="381" y="329.50" width="40.4" height="1.15" fill="url(#gE9)"/>
<rect x="421" y="329.50" width="40.4" height="1.15" fill="url(#gE10)"/>
<rect x="461" y="329.50" width="79.0" height="1.15" fill="url(#gE11)"/>
</g>
<g transform="translate(2.373,0)">
<rect x="0" y="330.50" width="61.4" height="1.15" fill="url(#gE0)"/>
<rect x="61" y="330.50" width="40.4" height="1.15" fill="url(#gE1)"/>
<rect x="101" y="330.50" width="34.4" height="1.15" fill="url(#gE2)"/>
<rect x="352" y="330.50" width="29.4" height="1.15" fill="url(#gE8)"/>
<rect x="381" y="330.50" width="40.4" height="1.15" fill="url(#gE9)"/>
<rect x="421" y="330.50" width="40.4" height="1.15" fill="url(#gE10)"/>
<rect x="461" y="330.50" width="79.0" height="1.15" fill="url(#gE11)"/>
</g>
<g transform="translate(2.583,0)">
<rect x="0" y="331.50" width="61.4" height="1.15" fill="url(#gE0)"/>
<rect x="61" y="331.50" width="40.4" height="1.15" fill="url(#gE1)"/>
<rect x="101" y="331.50" width="34.4" height="1.15" fill="url(#gE2)"/>
<rect x="352" y="331.50" width="29.4" height="1.15" fill="url(#gE8)"/>
<rect x="381" y="331.50" width="40.4" height="1.15" fill="url(#gE9)"/>
<rect x="421" y="331.50" width="40.4" height="1.15" fill="url(#gE10)"/>
<rect x="461" y="331.50" width="79.0" height="1.15" fill="url(#gE11)"/>
</g>
<g transform="translate(2.793,0)">
<rect x="0" y="332.50" width="61.4" height="1.15" fill="url(#gE0)"/>
<rect x="61" y="332.50" width="40.4" height="1.15" fill="url(#gE1)"/>
<rect x="101" y="332.50" width="34.4" height="1.15" fill="url(#gE2)"/>
<rect x="352" y="332.50" width="29.4" height="1.15" fill="url(#gE8)"/>
<rect x="381" y="332.50" width="40.4" height="1.15" fill="url(#gE9)"/>
<rect x="421" y="332.50" width="40.4" height="1.15" fill="url(#gE10)"/>
<rect x="461" y="332.50" width="79.0" height="1.15" fill="url(#gE11)"/>
</g>
<g transform="translate(3.003,0)">
<rect x="0" y="333.50" width="61.4" height="1.15" fill="url(#gE0)"/>
<rect x="61" y="333.50" width="40.4" height="1.15" fill="url(#gE1)"/>
<rect x="101" y="333.50" width="34.4" height="1.15" fill="url(#gE2)"/>
<rect x="352" y="333.50" width="29.4" height="1.15" fill="url(#gE8)"/>
<rect x="381" y="333.50" width="40.4" height="1.15" fill="url(#gE9)"/>
<rect x="421" y="333.50" width="40.4" height="1.15" fill="url(#gE10)"/>
<rect x="461" y="333.50" width="79.0" height="1.15" fill="url(#gE11)"/>
</g>
<g transform="translate(3.213,0)">
<rect x="0" y="334.50" width="61.4" height="1.15" fill="url(#gE0)"/>
<rect x="61" y="334.50" width="40.4" height="1.15" fill="url(#gE1)"/>
<rect x="101" y="334.50" width="34.4" height="1.15" fill="url(#gE2)"/>
<rect x="352" y="334.50" width="29.4" height="1.15" fill="url(#gE8)"/>
<rect x="381" y="334.50" width="40.4" height="1.15" fill="url(#gE9)"/>
<rect x="421" y="334.50" width="40.4" height="1.15" fill="url(#gE10)"/>
<rect x="461" y="334.50" width="79.0" height="1.15" fill="url(#gE11)"/>
</g>
<g transform="translate(3.423,0)">
<rect x="0" y="335.50" width="61.4" height="1.15" fill="url(#gE0)"/>
<rect x="61" y="335.50" width="40.4" height="1.15" fill="url(#gE1)"/>
<rect x="101" y="335.50" width="34.4" height="1.15" fill="url(#gE2)"/>
<rect x="352" y="335.50" width="29.4" height="1.15" fill="url(#gE8)"/>
<rect x="381" y="335.50" width="40.4" height="1.15" fill="url(#gE9)"/>
<rect x="421" y="335.50" width="40.4" height="1.15" fill="url(#gE10)"/>
<rect x="461" y="335.50" width="79.0" height="1.15" fill="url(#gE11)"/>
</g>
<g transform="translate(3.633,0)">
<rect x="0" y="336.50" width="61.4" height="1.15" fill="url(#gE0)"/>
<rect x="61" y="336.50" width="40.4" height="1.15" fill="url(#gE1)"/>
<rect x="101" y="336.50" width="34.4" height="1.15" fill="url(#gE2)"/>
<rect x="352" y="336.50" width="29.4" height="1.15" fill="url(#gE8)"/>
<rect x="381" y="336.50" width="40.4" height="1.15" fill="url(#gE9)"/>
<rect x="421" y="336.50" width="40.4" height="1.15" fill="url(#gE10)"/>
<rect x="461" y="336.50" width="79.0" height="1.15" fill="url(#gE11)"/>
</g>
<g transform="translate(3.843,0)">
<rect x="0" y="337.50" width="61.4" height="1.15" fill="url(#gE0)"/>
<rect x="61" y="337.50" width="40.4" height="1.15" fill="url(#gE1)"/>
<rect x="101" y="337.50" width="34.4" height="1.15" fill="url(#gE2)"/>
<rect x="352" y="337.50" width="29.4" height="1.15" fill="url(#gE8)"/>
<rect x="381" y="337.50" width="40.4" height="1.15" fill="url(#gE9)"/>
<rect x="421" y="337.50" width="40.4" height="1.15" fill="url(#gE10)"/>
<rect x="461" y="337.50" width="79.0" height="1.15" fill="url(#gE11)"/>
</g>
<g transform="translate(4.053,0)">
<rect x="0" y="338.50" width="61.4" height="1.15" fill="url(#gE0)"/>
<rect x="61" y="338.50" width="40.4" height="1.15" fill="url(#gE1)"/>
<rect x="101" y="338.50" width="34.4" height="1.15" fill="url(#gE2)"/>
<rect x="352" y="338.50" width="29.4" height="1.15" fill="url(#gE8)"/>
<rect x="381" y="338.50" width="40.4" height="1.15" fill="url(#gE9)"/>
<rect x="421" y="338.50" width="40.4" height="1.15" fill="url(#gE10)"/>
<rect x="461" y="338.50" width="79.0" height="1.15" fill="url(#gE11)"/>
</g>
<g transform="translate(4.263,0)">
<rect x="0" y="339.50" width="61.4" height="1.15" fill="url(#gE0)"/>
<rect x="61" y="339.50" width="40.4" height="1.15" fill="url(#gE1)"/>
<rect x="101" y="339.50" width="34.4" height="1.15" fill="url(#gE2)"/>
<rect x="352" y="339.50" width="29.4" height="1.15" fill="url(#gE8)"/>
<rect x="381" y="339.50" width="40.4" height="1.15" fill="url(#gE9)"/>
<rect x="421" y="339.50" width="40.4" height="1.15" fill="url(#gE10)"/>
<rect x="461" y="339.50" width="79.0" height="1.15" fill="url(#gE11)"/>
</g>
<g transform="translate(4.473,0)">
<rect x="0" y="340.50" width="61.4" height="1.15" fill="url(#gE0)"/>
<rect x="61" y="340.50" width="40.4" height="1.15" fill="url(#gE1)"/>
<rect x="101" y="340.50" width="34.4" height="1.15" fill="url(#gE2)"/>
<rect x="352" y="340.50" width="29.4" height="1.15" fill="url(#gE8)"/>
<rect x="381" y="340.50" width="40.4" height="1.15" fill="url(#gE9)"/>
<rect x="421" y="340.50" width="40.4" height="1.15" fill="url(#gE10)"/>
<rect x="461" y="340.50" width="79.0" height="1.15" fill="url(#gE11)"/>
</g>
<g transform="translate(4.683,0)">
<rect x="0" y="341.50" width="61.4" height="1.15" fill="url(#gE0)"/>
<rect x="61" y="341.50" width="40.4" height="1.15" fill="url(#gE1)"/>
<rect x="101" y="341.50" width="34.4" height="1.15" fill="url(#gE2)"/>
<rect x="352" y="341.50" width="29.4" height="1.15" fill="url(#gE8)"/>
<rect x="381" y="341.50" width="40.4" height="1.15" fill="url(#gE9)"/>
<rect x="421" y="341.50" width="40.4" height="1.15" fill="url(#gE10)"/>
<rect x="461" y="341.50" width="79.0" height="1.15" fill="url(#gE11)"/>
</g>
<g transform="translate(4.893,0)">
<rect x="0" y="342.50" width="61.4" height="1.15" fill="url(#gE0)"/>
<rect x="61" y="342.50" width="40.4" height="1.15" fill="url(#gE1)"/>
<rect x="101" y="342.50" width="34.4" height="1.15" fill="url(#gE2)"/>
<rect x="352" y="342.50" width="29.4" height="1.15" fill="url(#gE8)"/>
<rect x="381" y="342.50" width="40.4" height="1.15" fill="url(#gE9)"/>
<rect x="421" y="342.50" width="40.4" height="1.15" fill="url(#gE10)"/>
<rect x="461" y="342.50" width="79.0" height="1.15" fill="url(#gE11)"/>
</g>
</g></g>
<line x1="21.5" y1="300.5" x2="24.5" y2="300.5" stroke="#6a6a6a" stroke-width="0.6"/>
<line x1="499.5" y1="300.5" x2="496.5" y2="300.5" stroke="#6a6a6a" stroke-width="0.6"/>
<text x="18.4" y="302.55" font-family="Liberation Sans, Arial, sans-serif" font-size="5.7" fill="#262626" text-anchor="end">25</text>
<line x1="21.5" y1="319.6" x2="24.5" y2="319.6" stroke="#6a6a6a" stroke-width="0.6"/>
<line x1="499.5" y1="319.6" x2="496.5" y2="319.6" stroke="#6a6a6a" stroke-width="0.6"/>
<text x="18.4" y="321.65000000000003" font-family="Liberation Sans, Arial, sans-serif" font-size="5.7" fill="#262626" text-anchor="end">0</text>
<line x1="21.5" y1="338.6" x2="24.5" y2="338.6" stroke="#6a6a6a" stroke-width="0.6"/>
<line x1="499.5" y1="338.6" x2="496.5" y2="338.6" stroke="#6a6a6a" stroke-width="0.6"/>
<text x="18.4" y="340.65000000000003" font-family="Liberation Sans, Arial, sans-serif" font-size="5.7" fill="#262626" text-anchor="end">-25</text>
<text x="109.45" y="347.0" font-family="Liberation Sans, Arial, sans-serif" font-size="5.7" fill="#262626" text-anchor="middle">500</text>
<text x="197.65" y="347.0" font-family="Liberation Sans, Arial, sans-serif" font-size="5.7" fill="#262626" text-anchor="middle">1000</text>
<text x="285.85" y="347.0" font-family="Liberation Sans, Arial, sans-serif" font-size="5.7" fill="#262626" text-anchor="middle">1500</text>
<text x="374.05" y="347.0" font-family="Liberation Sans, Arial, sans-serif" font-size="5.7" fill="#262626" text-anchor="middle">2000</text>
<text x="462.25" y="347.0" font-family="Liberation Sans, Arial, sans-serif" font-size="5.7" fill="#262626" text-anchor="middle">2500</text>
<rect x="21.5" y="300.5" width="478.0" height="38.4" fill="none" stroke="#55557a" stroke-width="0.7"/>
<text x="260.5" y="295.7" font-family="Liberation Sans, Arial, sans-serif" font-size="6.8" font-weight="bold" fill="#000" text-anchor="middle">Delay pattern of JT - RR, Modified A<tspan font-size="5.4" dy="2.9">r</tspan><tspan dy="-2.9">=12.81 (Panel E)</tspan></text>
<clipPath id="clipF"><rect x="21.5" y="363.1" width="478.0" height="38.4"/></clipPath>
<filter id="blurF" x="-5%" y="-30%" width="110%" height="160%"><feGaussianBlur stdDeviation="0.5 1.3"/></filter>
<linearGradient id="gF0_0" gradientUnits="userSpaceOnUse" x1="21.5" y1="0" x2="141.5" y2="0"><stop offset="0.0167" stop-color="#8c8ce6"/><stop offset="0.0500" stop-color="#bef014"/><stop offset="0.0833" stop-color="#505a00"/><stop offset="0.1167" stop-color="#96aa00"/><stop offset="0.1500" stop-color="#bef014"/><stop offset="0.1833" stop-color="#0f19f0"/><stop offset="0.2167" stop-color="#0f19f0"/><stop offset="0.2500" stop-color="#0f19f0"/><stop offset="0.2833" stop-color="#0f19f0"/><stop offset="0.3167" stop-color="#0f19f0"/><stop offset="0.3500" stop-color="#23bcf8"/><stop offset="0.3833" stop-color="#0f19f0"/><stop offset="0.4167" stop-color="#0f19f0"/><stop offset="0.4500" stop-color="#195aff"/><stop offset="0.4833" stop-color="#0f19f0"/><stop offset="0.5167" stop-color="#0c13e0"/><stop offset="0.5500" stop-color="#0c13e0"/><stop offset="0.5833" stop-color="#0c13e0"/><stop offset="0.6167" stop-color="#0c13e0"/><stop offset="0.6500" stop-color="#0c13e0"/><stop offset="0.6833" stop-color="#0c13e0"/><stop offset="0.7167" stop-color="#0c13e0"/><stop offset="0.7500" stop-color="#195aff"/><stop offset="0.7833" stop-color="#0c13e0"/><stop offset="0.8167" stop-color="#0c13e0"/><stop offset="0.8500" stop-color="#195aff"/><stop offset="0.8833" stop-color="#0c13e0"/><stop offset="0.9167" stop-color="#0c13e0"/><stop offset="0.9500" stop-color="#0c13e0"/><stop offset="0.9833" stop-color="#0c13e0"/></linearGradient>
<linearGradient id="gF0_1" gradientUnits="userSpaceOnUse" x1="141.5" y1="0" x2="261.5" y2="0"><stop offset="0.0167" stop-color="#0c13e0"/><stop offset="0.0500" stop-color="#0c13e0"/><stop offset="0.0833" stop-color="#0202a4"/><stop offset="0.1167" stop-color="#0202a4"/><stop offset="0.1500" stop-color="#0202a4"/><stop offset="0.1833" stop-color="#0202a4"/><stop offset="0.2167" stop-color="#0202a4"/><stop offset="0.2500" stop-color="#0202a4"/><stop offset="0.2833" stop-color="#0202a4"/><stop offset="0.3167" stop-color="#0202a4"/><stop offset="0.3500" stop-color="#0202a4"/><stop offset="0.3833" stop-color="#0202a4"/><stop offset="0.4167" stop-color="#0202a4"/><stop offset="0.4500" stop-color="#0202a4"/><stop offset="0.4833" stop-color="#0c13e0"/><stop offset="0.5167" stop-color="#195aff"/><stop offset="0.5500" stop-color="#195aff"/><stop offset="0.5833" stop-color="#0c13e0"/><stop offset="0.6167" stop-color="#0c13e0"/><stop offset="0.6500" stop-color="#0c13e0"/><stop offset="0.6833" stop-color="#0c13e0"/><stop offset="0.7167" stop-color="#0c13e0"/><stop offset="0.7500" stop-color="#0c13e0"/><stop offset="0.7833" stop-color="#0c13e0"/><stop offset="0.8167" stop-color="#0c13e0"/><stop offset="0.8500" stop-color="#0c13e0"/><stop offset="0.8833" stop-color="#0c13e0"/><stop offset="0.9167" stop-color="#0c13e0"/><stop offset="0.9500" stop-color="#0c13e0"/><stop offset="0.9833" stop-color="#0c13e0"/></linearGradient>
<linearGradient id="gF0_2" gradientUnits="userSpaceOnUse" x1="261.5" y1="0" x2="381.5" y2="0"><stop offset="0.0167" stop-color="#195aff"/><stop offset="0.0500" stop-color="#195aff"/><stop offset="0.0833" stop-color="#1229f4"/><stop offset="0.1167" stop-color="#0c13e0"/><stop offset="0.1500" stop-color="#0508c2"/><stop offset="0.1833" stop-color="#0508c2"/><stop offset="0.2167" stop-color="#0508c2"/><stop offset="0.2500" stop-color="#0c13e0"/><stop offset="0.2833" stop-color="#1229f4"/><stop offset="0.3167" stop-color="#195aff"/><stop offset="0.3500" stop-color="#0c13e0"/><stop offset="0.3833" stop-color="#0508c2"/><stop offset="0.4167" stop-color="#0c13e0"/><stop offset="0.4500" stop-color="#0c13e0"/><stop offset="0.4833" stop-color="#0c13e0"/><stop offset="0.5167" stop-color="#0c13e0"/><stop offset="0.5500" stop-color="#0c13e0"/><stop offset="0.5833" stop-color="#0c13e0"/><stop offset="0.6167" stop-color="#0c13e0"/><stop offset="0.6500" stop-color="#0c13e0"/><stop offset="0.6833" stop-color="#0c13e0"/><stop offset="0.7167" stop-color="#0c13e0"/><stop offset="0.7500" stop-color="#0c13e0"/><stop offset="0.7833" stop-color="#195aff"/><stop offset="0.8167" stop-color="#28a5ff"/><stop offset="0.8500" stop-color="#28a5ff"/><stop offset="0.8833" stop-color="#195aff"/><stop offset="0.9167" stop-color="#195aff"/><stop offset="0.9500" stop-color="#28a5ff"/><stop offset="0.9833" stop-color="#28a5ff"/></linearGradient>
<linearGradient id="gF0_3" gradientUnits="userSpaceOnUse" x1="381.5" y1="0" x2="501.5" y2="0"><stop offset="0.0167" stop-color="#0f19f0"/><stop offset="0.0500" stop-color="#0f19f0"/><stop offset="0.0833" stop-color="#0f19f0"/><stop offset="0.1167" stop-color="#0f19f0"/><stop offset="0.1500" stop-color="#0f19f0"/><stop offset="0.1833" stop-color="#0f19f0"/><stop offset="0.2167" stop-color="#0f19f0"/><stop offset="0.2500" stop-color="#1ed2f0"/><stop offset="0.2833" stop-color="#1ed2f0"/><stop offset="0.3167" stop-color="#195aff"/><stop offset="0.3500" stop-color="#0f19f0"/><stop offset="0.3833" stop-color="#0f19f0"/><stop offset="0.4167" stop-color="#0f19f0"/><stop offset="0.4500" stop-color="#0f19f0"/><stop offset="0.4833" stop-color="#0f19f0"/><stop offset="0.5167" stop-color="#0f19f0"/><stop offset="0.5500" stop-color="#0f19f0"/><stop offset="0.5833" stop-color="#0f19f0"/><stop offset="0.6167" stop-color="#0f19f0"/><stop offset="0.6500" stop-color="#0f19f0"/><stop offset="0.6833" stop-color="#0f19f0"/><stop offset="0.7167" stop-color="#0f19f0"/><stop offset="0.7500" stop-color="#0f19f0"/><stop offset="0.7833" stop-color="#0f19f0"/><stop offset="0.8167" stop-color="#0f19f0"/><stop offset="0.8500" stop-color="#0f19f0"/><stop offset="0.8833" stop-color="#0f19f0"/><stop offset="0.9167" stop-color="#0f19f0"/><stop offset="0.9500" stop-color="#195aff"/><stop offset="0.9833" stop-color="#28a5ff"/></linearGradient>
<linearGradient id="gF1_0" gradientUnits="userSpaceOnUse" x1="21.5" y1="0" x2="141.5" y2="0"><stop offset="0.0167" stop-color="#8c8ce6"/><stop offset="0.0500" stop-color="#bef014"/><stop offset="0.0833" stop-color="#505a00"/><stop offset="0.1167" stop-color="#505a00"/><stop offset="0.1500" stop-color="#bef014"/><stop offset="0.1833" stop-color="#0f19f0"/><stop offset="0.2167" stop-color="#28a5ff"/><stop offset="0.2500" stop-color="#23bcf8"/><stop offset="0.2833" stop-color="#28a5ff"/><stop offset="0.3167" stop-color="#195aff"/><stop offset="0.3500" stop-color="#1ed2f0"/><stop offset="0.3833" stop-color="#0f19f0"/><stop offset="0.4167" stop-color="#195aff"/><stop offset="0.4500" stop-color="#195aff"/><stop offset="0.4833" stop-color="#0f19f0"/><stop offset="0.5167" stop-color="#0c13e0"/><stop offset="0.5500" stop-color="#0c13e0"/><stop offset="0.5833" stop-color="#195aff"/><stop offset="0.6167" stop-color="#0c13e0"/><stop offset="0.6500" stop-color="#0c13e0"/><stop offset="0.6833" stop-color="#0202a4"/><stop offset="0.7167" stop-color="#0c13e0"/><stop offset="0.7500" stop-color="#195aff"/><stop offset="0.7833" stop-color="#0c13e0"/><stop offset="0.8167" stop-color="#0c13e0"/><stop offset="0.8500" stop-color="#195aff"/><stop offset="0.8833" stop-color="#0c13e0"/><stop offset="0.9167" stop-color="#0202a4"/><stop offset="0.9500" stop-color="#0c13e0"/><stop offset="0.9833" stop-color="#0c13e0"/></linearGradient>
<linearGradient id="gF1_1" gradientUnits="userSpaceOnUse" x1="141.5" y1="0" x2="261.5" y2="0"><stop offset="0.0167" stop-color="#0c13e0"/><stop offset="0.0500" stop-color="#0c13e0"/><stop offset="0.0833" stop-color="#0202a4"/><stop offset="0.1167" stop-color="#0202a4"/><stop offset="0.1500" stop-color="#0202a4"/><stop offset="0.1833" stop-color="#0202a4"/><stop offset="0.2167" stop-color="#0202a4"/><stop offset="0.2500" stop-color="#0202a4"/><stop offset="0.2833" stop-color="#0c13e0"/><stop offset="0.3167" stop-color="#0202a4"/><stop offset="0.3500" stop-color="#0202a4"/><stop offset="0.3833" stop-color="#0202a4"/><stop offset="0.4167" stop-color="#0202a4"/><stop offset="0.4500" stop-color="#0202a4"/><stop offset="0.4833" stop-color="#0c13e0"/><stop offset="0.5167" stop-color="#0c13e0"/><stop offset="0.5500" stop-color="#0c13e0"/><stop offset="0.5833" stop-color="#0c13e0"/><stop offset="0.6167" stop-color="#0c13e0"/><stop offset="0.6500" stop-color="#0c13e0"/><stop offset="0.6833" stop-color="#0c13e0"/><stop offset="0.7167" stop-color="#2080ff"/><stop offset="0.7500" stop-color="#195aff"/><stop offset="0.7833" stop-color="#0c13e0"/><stop offset="0.8167" stop-color="#2080ff"/><stop offset="0.8500" stop-color="#1229f4"/><stop offset="0.8833" stop-color="#0c13e0"/><stop offset="0.9167" stop-color="#0c13e0"/><stop offset="0.9500" stop-color="#0c13e0"/><stop offset="0.9833" stop-color="#1229f4"/></linearGradient>
<linearGradient id="gF1_2" gradientUnits="userSpaceOnUse" x1="261.5" y1="0" x2="381.5" y2="0"><stop offset="0.0167" stop-color="#195aff"/><stop offset="0.0500" stop-color="#195aff"/><stop offset="0.0833" stop-color="#1229f4"/><stop offset="0.1167" stop-color="#0c13e0"/><stop offset="0.1500" stop-color="#0508c2"/><stop offset="0.1833" stop-color="#0508c2"/><stop offset="0.2167" stop-color="#0508c2"/><stop offset="0.2500" stop-color="#0508c2"/><stop offset="0.2833" stop-color="#1229f4"/><stop offset="0.3167" stop-color="#195aff"/><stop offset="0.3500" stop-color="#195aff"/><stop offset="0.3833" stop-color="#195aff"/><stop offset="0.4167" stop-color="#2080ff"/><stop offset="0.4500" stop-color="#2080ff"/><stop offset="0.4833" stop-color="#195aff"/><stop offset="0.5167" stop-color="#0c13e0"/><stop offset="0.5500" stop-color="#0c13e0"/><stop offset="0.5833" stop-color="#0c13e0"/><stop offset="0.6167" stop-color="#0c13e0"/><stop offset="0.6500" stop-color="#0c13e0"/><stop offset="0.6833" stop-color="#0c13e0"/><stop offset="0.7167" stop-color="#0c13e0"/><stop offset="0.7500" stop-color="#0c13e0"/><stop offset="0.7833" stop-color="#2080ff"/><stop offset="0.8167" stop-color="#5ae66e"/><stop offset="0.8500" stop-color="#1ed2f0"/><stop offset="0.8833" stop-color="#195aff"/><stop offset="0.9167" stop-color="#195aff"/><stop offset="0.9500" stop-color="#2080ff"/><stop offset="0.9833" stop-color="#28a5ff"/></linearGradient>
<linearGradient id="gF1_3" gradientUnits="userSpaceOnUse" x1="381.5" y1="0" x2="501.5" y2="0"><stop offset="0.0167" stop-color="#28a5ff"/><stop offset="0.0500" stop-color="#28a5ff"/><stop offset="0.0833" stop-color="#195aff"/><stop offset="0.1167" stop-color="#195aff"/><stop offset="0.1500" stop-color="#0f19f0"/><stop offset="0.1833" stop-color="#195aff"/><stop offset="0.2167" stop-color="#28a5ff"/><stop offset="0.2500" stop-color="#1ed2f0"/><stop offset="0.2833" stop-color="#28a5ff"/><stop offset="0.3167" stop-color="#0f19f0"/><stop offset="0.3500" stop-color="#195aff"/><stop offset="0.3833" stop-color="#0f19f0"/><stop offset="0.4167" stop-color="#0f19f0"/><stop offset="0.4500" stop-color="#0f19f0"/><stop offset="0.4833" stop-color="#28a5ff"/><stop offset="0.5167" stop-color="#28a5ff"/><stop offset="0.5500" stop-color="#0f19f0"/><stop offset="0.5833" stop-color="#0f19f0"/><stop offset="0.6167" stop-color="#195aff"/><stop offset="0.6500" stop-color="#195aff"/><stop offset="0.6833" stop-color="#28a5ff"/><stop offset="0.7167" stop-color="#0f19f0"/><stop offset="0.7500" stop-color="#0f19f0"/><stop offset="0.7833" stop-color="#0f19f0"/><stop offset="0.8167" stop-color="#0f19f0"/><stop offset="0.8500" stop-color="#0f19f0"/><stop offset="0.8833" stop-color="#0f19f0"/><stop offset="0.9167" stop-color="#195aff"/><stop offset="0.9500" stop-color="#1ed2f0"/><stop offset="0.9833" stop-color="#5ae66e"/></linearGradient>
<linearGradient id="gF2_0" gradientUnits="userSpaceOnUse" x1="21.5" y1="0" x2="141.5" y2="0"><stop offset="0.0167" stop-color="#8c8ce6"/><stop offset="0.0500" stop-color="#bef014"/><stop offset="0.0833" stop-color="#96aa00"/><stop offset="0.1167" stop-color="#96aa00"/><stop offset="0.1500" stop-color="#bef014"/><stop offset="0.1833" stop-color="#143af8"/><stop offset="0.2167" stop-color="#23bcf8"/><stop offset="0.2500" stop-color="#1ed2f0"/><stop offset="0.2833" stop-color="#28a5ff"/><stop offset="0.3167" stop-color="#195aff"/><stop offset="0.3500" stop-color="#28a5ff"/><stop offset="0.3833" stop-color="#0f19f0"/><stop offset="0.4167" stop-color="#195aff"/><stop offset="0.4500" stop-color="#195aff"/><stop offset="0.4833" stop-color="#0f19f0"/><stop offset="0.5167" stop-color="#0202a4"/><stop offset="0.5500" stop-color="#0c13e0"/><stop offset="0.5833" stop-color="#0c13e0"/><stop offset="0.6167" stop-color="#0c13e0"/><stop offset="0.6500" stop-color="#0c13e0"/><stop offset="0.6833" stop-color="#0202a4"/><stop offset="0.7167" stop-color="#0c13e0"/><stop offset="0.7500" stop-color="#195aff"/><stop offset="0.7833" stop-color="#0c13e0"/><stop offset="0.8167" stop-color="#0c13e0"/><stop offset="0.8500" stop-color="#195aff"/><stop offset="0.8833" stop-color="#0c13e0"/><stop offset="0.9167" stop-color="#0202a4"/><stop offset="0.9500" stop-color="#0202a4"/><stop offset="0.9833" stop-color="#0c13e0"/></linearGradient>
<linearGradient id="gF2_1" gradientUnits="userSpaceOnUse" x1="141.5" y1="0" x2="261.5" y2="0"><stop offset="0.0167" stop-color="#0c13e0"/><stop offset="0.0500" stop-color="#0202a4"/><stop offset="0.0833" stop-color="#0202a4"/><stop offset="0.1167" stop-color="#0202a4"/><stop offset="0.1500" stop-color="#0202a4"/><stop offset="0.1833" stop-color="#0202a4"/><stop offset="0.2167" stop-color="#0202a4"/><stop offset="0.2500" stop-color="#0202a4"/><stop offset="0.2833" stop-color="#0202a4"/><stop offset="0.3167" stop-color="#0202a4"/><stop offset="0.3500" stop-color="#0202a4"/><stop offset="0.3833" stop-color="#0202a4"/><stop offset="0.4167" stop-color="#0c13e0"/><stop offset="0.4500" stop-color="#0202a4"/><stop offset="0.4833" stop-color="#0202a4"/><stop offset="0.5167" stop-color="#0c13e0"/><stop offset="0.5500" stop-color="#0c13e0"/><stop offset="0.5833" stop-color="#0c13e0"/><stop offset="0.6167" stop-color="#0c13e0"/><stop offset="0.6500" stop-color="#0c13e0"/><stop offset="0.6833" stop-color="#0c13e0"/><stop offset="0.7167" stop-color="#28a5ff"/><stop offset="0.7500" stop-color="#195aff"/><stop offset="0.7833" stop-color="#0508c2"/><stop offset="0.8167" stop-color="#28a5ff"/><stop offset="0.8500" stop-color="#195aff"/><stop offset="0.8833" stop-color="#0c13e0"/><stop offset="0.9167" stop-color="#0c13e0"/><stop offset="0.9500" stop-color="#0c13e0"/><stop offset="0.9833" stop-color="#195aff"/></linearGradient>
<linearGradient id="gF2_2" gradientUnits="userSpaceOnUse" x1="261.5" y1="0" x2="381.5" y2="0"><stop offset="0.0167" stop-color="#1229f4"/><stop offset="0.0500" stop-color="#1229f4"/><stop offset="0.0833" stop-color="#0c13e0"/><stop offset="0.1167" stop-color="#0508c2"/><stop offset="0.1500" stop-color="#0508c2"/><stop offset="0.1833" stop-color="#0508c2"/><stop offset="0.2167" stop-color="#0508c2"/><stop offset="0.2500" stop-color="#0508c2"/><stop offset="0.2833" stop-color="#1229f4"/><stop offset="0.3167" stop-color="#195aff"/><stop offset="0.3500" stop-color="#195aff"/><stop offset="0.3833" stop-color="#195aff"/><stop offset="0.4167" stop-color="#195aff"/><stop offset="0.4500" stop-color="#195aff"/><stop offset="0.4833" stop-color="#195aff"/><stop offset="0.5167" stop-color="#0c13e0"/><stop offset="0.5500" stop-color="#0c13e0"/><stop offset="0.5833" stop-color="#0c13e0"/><stop offset="0.6167" stop-color="#0c13e0"/><stop offset="0.6500" stop-color="#0c13e0"/><stop offset="0.6833" stop-color="#0c13e0"/><stop offset="0.7167" stop-color="#0c13e0"/><stop offset="0.7500" stop-color="#0c13e0"/><stop offset="0.7833" stop-color="#28a5ff"/><stop offset="0.8167" stop-color="#96eb28"/><stop offset="0.8500" stop-color="#5ae66e"/><stop offset="0.8833" stop-color="#195aff"/><stop offset="0.9167" stop-color="#0c13e0"/><stop offset="0.9500" stop-color="#195aff"/><stop offset="0.9833" stop-color="#2080ff"/></linearGradient>
<linearGradient id="gF2_3" gradientUnits="userSpaceOnUse" x1="381.5" y1="0" x2="501.5" y2="0"><stop offset="0.0167" stop-color="#195aff"/><stop offset="0.0500" stop-color="#28a5ff"/><stop offset="0.0833" stop-color="#28a5ff"/><stop offset="0.1167" stop-color="#28a5ff"/><stop offset="0.1500" stop-color="#195aff"/><stop offset="0.1833" stop-color="#28a5ff"/><stop offset="0.2167" stop-color="#3cdcaf"/><stop offset="0.2500" stop-color="#1ed2f0"/><stop offset="0.2833" stop-color="#195aff"/><stop offset="0.3167" stop-color="#0f19f0"/><stop offset="0.3500" stop-color="#195aff"/><stop offset="0.3833" stop-color="#0f19f0"/><stop offset="0.4167" stop-color="#0f19f0"/><stop offset="0.4500" stop-color="#0f19f0"/><stop offset="0.4833" stop-color="#195aff"/><stop offset="0.5167" stop-color="#195aff"/><stop offset="0.5500" stop-color="#0f19f0"/><stop offset="0.5833" stop-color="#0f19f0"/><stop offset="0.6167" stop-color="#28a5ff"/><stop offset="0.6500" stop-color="#28a5ff"/><stop offset="0.6833" stop-color="#28a5ff"/><stop offset="0.7167" stop-color="#0f19f0"/><stop offset="0.7500" stop-color="#0f19f0"/><stop offset="0.7833" stop-color="#195aff"/><stop offset="0.8167" stop-color="#0f19f0"/><stop offset="0.8500" stop-color="#0f19f0"/><stop offset="0.8833" stop-color="#0f19f0"/><stop offset="0.9167" stop-color="#195aff"/><stop offset="0.9500" stop-color="#1ed2f0"/><stop offset="0.9833" stop-color="#1ed2f0"/></linearGradient>
<linearGradient id="gF3_0" gradientUnits="userSpaceOnUse" x1="21.5" y1="0" x2="141.5" y2="0"><stop offset="0.0167" stop-color="#5ae66e"/><stop offset="0.0500" stop-color="#aaee1e"/><stop offset="0.0833" stop-color="#aaee1e"/><stop offset="0.1167" stop-color="#aaee1e"/><stop offset="0.1500" stop-color="#aaee1e"/><stop offset="0.1833" stop-color="#143af8"/><stop offset="0.2167" stop-color="#0f19f0"/><stop offset="0.2500" stop-color="#28a5ff"/><stop offset="0.2833" stop-color="#5ae66e"/><stop offset="0.3167" stop-color="#28a5ff"/><stop offset="0.3500" stop-color="#0f19f0"/><stop offset="0.3833" stop-color="#0f19f0"/><stop offset="0.4167" stop-color="#0f19f0"/><stop offset="0.4500" stop-color="#0f19f0"/><stop offset="0.4833" stop-color="#0f19f0"/><stop offset="0.5167" stop-color="#0c13e0"/><stop offset="0.5500" stop-color="#0c13e0"/><stop offset="0.5833" stop-color="#0c13e0"/><stop offset="0.6167" stop-color="#0c13e0"/><stop offset="0.6500" stop-color="#0c13e0"/><stop offset="0.6833" stop-color="#0202a4"/><stop offset="0.7167" stop-color="#0c13e0"/><stop offset="0.7500" stop-color="#0c13e0"/><stop offset="0.7833" stop-color="#195aff"/><stop offset="0.8167" stop-color="#195aff"/><stop offset="0.8500" stop-color="#0c13e0"/><stop offset="0.8833" stop-color="#0c13e0"/><stop offset="0.9167" stop-color="#0202a4"/><stop offset="0.9500" stop-color="#0202a4"/><stop offset="0.9833" stop-color="#0202a4"/></linearGradient>
<linearGradient id="gF3_1" gradientUnits="userSpaceOnUse" x1="141.5" y1="0" x2="261.5" y2="0"><stop offset="0.0167" stop-color="#0202a4"/><stop offset="0.0500" stop-color="#0202a4"/><stop offset="0.0833" stop-color="#0202a4"/><stop offset="0.1167" stop-color="#0202a4"/><stop offset="0.1500" stop-color="#0202a4"/><stop offset="0.1833" stop-color="#0202a4"/><stop offset="0.2167" stop-color="#0202a4"/><stop offset="0.2500" stop-color="#0202a4"/><stop offset="0.2833" stop-color="#0202a4"/><stop offset="0.3167" stop-color="#0202a4"/><stop offset="0.3500" stop-color="#0202a4"/><stop offset="0.3833" stop-color="#0202a4"/><stop offset="0.4167" stop-color="#0202a4"/><stop offset="0.4500" stop-color="#0202a4"/><stop offset="0.4833" stop-color="#0202a4"/><stop offset="0.5167" stop-color="#0c13e0"/><stop offset="0.5500" stop-color="#0c13e0"/><stop offset="0.5833" stop-color="#0c13e0"/><stop offset="0.6167" stop-color="#0c13e0"/><stop offset="0.6500" stop-color="#0c13e0"/><stop offset="0.6833" stop-color="#1229f4"/><stop offset="0.7167" stop-color="#2080ff"/><stop offset="0.7500" stop-color="#0c13e0"/><stop offset="0.7833" stop-color="#0508c2"/><stop offset="0.8167" stop-color="#195aff"/><stop offset="0.8500" stop-color="#1229f4"/><stop offset="0.8833" stop-color="#0c13e0"/><stop offset="0.9167" stop-color="#1229f4"/><stop offset="0.9500" stop-color="#1229f4"/><stop offset="0.9833" stop-color="#1229f4"/></linearGradient>
<linearGradient id="gF3_2" gradientUnits="userSpaceOnUse" x1="261.5" y1="0" x2="381.5" y2="0"><stop offset="0.0167" stop-color="#1229f4"/><stop offset="0.0500" stop-color="#1229f4"/><stop offset="0.0833" stop-color="#0c13e0"/><stop offset="0.1167" stop-color="#0508c2"/><stop offset="0.1500" stop-color="#0508c2"/><stop offset="0.1833" stop-color="#0508c2"/><stop offset="0.2167" stop-color="#0508c2"/><stop offset="0.2500" stop-color="#0508c2"/><stop offset="0.2833" stop-color="#0c13e0"/><stop offset="0.3167" stop-color="#1229f4"/><stop offset="0.3500" stop-color="#195aff"/><stop offset="0.3833" stop-color="#195aff"/><stop offset="0.4167" stop-color="#195aff"/><stop offset="0.4500" stop-color="#195aff"/><stop offset="0.4833" stop-color="#195aff"/><stop offset="0.5167" stop-color="#0c13e0"/><stop offset="0.5500" stop-color="#0508c2"/><stop offset="0.5833" stop-color="#0c13e0"/><stop offset="0.6167" stop-color="#0c13e0"/><stop offset="0.6500" stop-color="#0c13e0"/><stop offset="0.6833" stop-color="#0c13e0"/><stop offset="0.7167" stop-color="#0508c2"/><stop offset="0.7500" stop-color="#0c13e0"/><stop offset="0.7833" stop-color="#28a5ff"/><stop offset="0.8167" stop-color="#96eb28"/><stop offset="0.8500" stop-color="#5ae66e"/><stop offset="0.8833" stop-color="#195aff"/><stop offset="0.9167" stop-color="#0c13e0"/><stop offset="0.9500" stop-color="#195aff"/><stop offset="0.9833" stop-color="#28a5ff"/></linearGradient>
<linearGradient id="gF3_3" gradientUnits="userSpaceOnUse" x1="381.5" y1="0" x2="501.5" y2="0"><stop offset="0.0167" stop-color="#28a5ff"/><stop offset="0.0500" stop-color="#1ed2f0"/><stop offset="0.0833" stop-color="#195aff"/><stop offset="0.1167" stop-color="#195aff"/><stop offset="0.1500" stop-color="#195aff"/><stop offset="0.1833" stop-color="#0f19f0"/><stop offset="0.2167" stop-color="#28a5ff"/><stop offset="0.2500" stop-color="#195aff"/><stop offset="0.2833" stop-color="#0f19f0"/><stop offset="0.3167" stop-color="#195aff"/><stop offset="0.3500" stop-color="#195aff"/><stop offset="0.3833" stop-color="#0f19f0"/><stop offset="0.4167" stop-color="#195aff"/><stop offset="0.4500" stop-color="#195aff"/><stop offset="0.4833" stop-color="#0f19f0"/><stop offset="0.5167" stop-color="#0f19f0"/><stop offset="0.5500" stop-color="#0f19f0"/><stop offset="0.5833" stop-color="#0f19f0"/><stop offset="0.6167" stop-color="#28a5ff"/><stop offset="0.6500" stop-color="#1ed2f0"/><stop offset="0.6833" stop-color="#28a5ff"/><stop offset="0.7167" stop-color="#195aff"/><stop offset="0.7500" stop-color="#195aff"/><stop offset="0.7833" stop-color="#195aff"/><stop offset="0.8167" stop-color="#28a5ff"/><stop offset="0.8500" stop-color="#0f19f0"/><stop offset="0.8833" stop-color="#0f19f0"/><stop offset="0.9167" stop-color="#28a5ff"/><stop offset="0.9500" stop-color="#1ed2f0"/><stop offset="0.9833" stop-color="#28a5ff"/></linearGradient>
<linearGradient id="gF4_0" gradientUnits="userSpaceOnUse" x1="21.5" y1="0" x2="141.5" y2="0"><stop offset="0.0167" stop-color="#aaee1e"/><stop offset="0.0500" stop-color="#5ae66e"/><stop offset="0.0833" stop-color="#aaee1e"/><stop offset="0.1167" stop-color="#5ae66e"/><stop offset="0.1500" stop-color="#bef014"/><stop offset="0.1833" stop-color="#195aff"/><stop offset="0.2167" stop-color="#0f19f0"/><stop offset="0.2500" stop-color="#28a5ff"/><stop offset="0.2833" stop-color="#1ed2f0"/><stop offset="0.3167" stop-color="#28a5ff"/><stop offset="0.3500" stop-color="#0f19f0"/><stop offset="0.3833" stop-color="#195aff"/><stop offset="0.4167" stop-color="#195aff"/><stop offset="0.4500" stop-color="#0f19f0"/><stop offset="0.4833" stop-color="#195aff"/><stop offset="0.5167" stop-color="#195aff"/><stop offset="0.5500" stop-color="#195aff"/><stop offset="0.5833" stop-color="#195aff"/><stop offset="0.6167" stop-color="#195aff"/><stop offset="0.6500" stop-color="#195aff"/><stop offset="0.6833" stop-color="#0c13e0"/><stop offset="0.7167" stop-color="#0c13e0"/><stop offset="0.7500" stop-color="#0c13e0"/><stop offset="0.7833" stop-color="#195aff"/><stop offset="0.8167" stop-color="#195aff"/><stop offset="0.8500" stop-color="#0c13e0"/><stop offset="0.8833" stop-color="#0c13e0"/><stop offset="0.9167" stop-color="#0202a4"/><stop offset="0.9500" stop-color="#0202a4"/><stop offset="0.9833" stop-color="#0c13e0"/></linearGradient>
<linearGradient id="gF4_1" gradientUnits="userSpaceOnUse" x1="141.5" y1="0" x2="261.5" y2="0"><stop offset="0.0167" stop-color="#0202a4"/><stop offset="0.0500" stop-color="#0202a4"/><stop offset="0.0833" stop-color="#0202a4"/><stop offset="0.1167" stop-color="#0202a4"/><stop offset="0.1500" stop-color="#0202a4"/><stop offset="0.1833" stop-color="#0202a4"/><stop offset="0.2167" stop-color="#0202a4"/><stop offset="0.2500" stop-color="#0202a4"/><stop offset="0.2833" stop-color="#0202a4"/><stop offset="0.3167" stop-color="#0202a4"/><stop offset="0.3500" stop-color="#0202a4"/><stop offset="0.3833" stop-color="#0202a4"/><stop offset="0.4167" stop-color="#0202a4"/><stop offset="0.4500" stop-color="#010195"/><stop offset="0.4833" stop-color="#0202a4"/><stop offset="0.5167" stop-color="#0202a4"/><stop offset="0.5500" stop-color="#0202a4"/><stop offset="0.5833" stop-color="#0c13e0"/><stop offset="0.6167" stop-color="#0c13e0"/><stop offset="0.6500" stop-color="#0c13e0"/><stop offset="0.6833" stop-color="#0c13e0"/><stop offset="0.7167" stop-color="#195aff"/><stop offset="0.7500" stop-color="#0c13e0"/><stop offset="0.7833" stop-color="#0508c2"/><stop offset="0.8167" stop-color="#1229f4"/><stop offset="0.8500" stop-color="#0c13e0"/><stop offset="0.8833" stop-color="#0508c2"/><stop offset="0.9167" stop-color="#1229f4"/><stop offset="0.9500" stop-color="#0c13e0"/><stop offset="0.9833" stop-color="#0c13e0"/></linearGradient>
<linearGradient id="gF4_2" gradientUnits="userSpaceOnUse" x1="261.5" y1="0" x2="381.5" y2="0"><stop offset="0.0167" stop-color="#0c13e0"/><stop offset="0.0500" stop-color="#1229f4"/><stop offset="0.0833" stop-color="#0c13e0"/><stop offset="0.1167" stop-color="#0508c2"/><stop offset="0.1500" stop-color="#0508c2"/><stop offset="0.1833" stop-color="#0508c2"/><stop offset="0.2167" stop-color="#0508c2"/><stop offset="0.2500" stop-color="#0508c2"/><stop offset="0.2833" stop-color="#0c13e0"/><stop offset="0.3167" stop-color="#0c13e0"/><stop offset="0.3500" stop-color="#1229f4"/><stop offset="0.3833" stop-color="#1229f4"/><stop offset="0.4167" stop-color="#1229f4"/><stop offset="0.4500" stop-color="#1229f4"/><stop offset="0.4833" stop-color="#1229f4"/><stop offset="0.5167" stop-color="#0c13e0"/><stop offset="0.5500" stop-color="#0508c2"/><stop offset="0.5833" stop-color="#0508c2"/><stop offset="0.6167" stop-color="#0c13e0"/><stop offset="0.6500" stop-color="#0c13e0"/><stop offset="0.6833" stop-color="#0c13e0"/><stop offset="0.7167" stop-color="#0c13e0"/><stop offset="0.7500" stop-color="#0c13e0"/><stop offset="0.7833" stop-color="#23bcf8"/><stop offset="0.8167" stop-color="#96eb28"/><stop offset="0.8500" stop-color="#5ae66e"/><stop offset="0.8833" stop-color="#2080ff"/><stop offset="0.9167" stop-color="#0c13e0"/><stop offset="0.9500" stop-color="#195aff"/><stop offset="0.9833" stop-color="#28a5ff"/></linearGradient>
<linearGradient id="gF4_3" gradientUnits="userSpaceOnUse" x1="381.5" y1="0" x2="501.5" y2="0"><stop offset="0.0167" stop-color="#3cdcaf"/><stop offset="0.0500" stop-color="#0f19f0"/><stop offset="0.0833" stop-color="#195aff"/><stop offset="0.1167" stop-color="#28a5ff"/><stop offset="0.1500" stop-color="#0f19f0"/><stop offset="0.1833" stop-color="#080ed1"/><stop offset="0.2167" stop-color="#0f19f0"/><stop offset="0.2500" stop-color="#0f19f0"/><stop offset="0.2833" stop-color="#195aff"/><stop offset="0.3167" stop-color="#0f19f0"/><stop offset="0.3500" stop-color="#0f19f0"/><stop offset="0.3833" stop-color="#0f19f0"/><stop offset="0.4167" stop-color="#0f19f0"/><stop offset="0.4500" stop-color="#2080ff"/><stop offset="0.4833" stop-color="#195aff"/><stop offset="0.5167" stop-color="#0f19f0"/><stop offset="0.5500" stop-color="#195aff"/><stop offset="0.5833" stop-color="#0f19f0"/><stop offset="0.6167" stop-color="#28a5ff"/><stop offset="0.6500" stop-color="#1ed2f0"/><stop offset="0.6833" stop-color="#1ed2f0"/><stop offset="0.7167" stop-color="#195aff"/><stop offset="0.7500" stop-color="#1ed2f0"/><stop offset="0.7833" stop-color="#1ed2f0"/><stop offset="0.8167" stop-color="#28a5ff"/><stop offset="0.8500" stop-color="#0f19f0"/><stop offset="0.8833" stop-color="#195aff"/><stop offset="0.9167" stop-color="#1ed2f0"/><stop offset="0.9500" stop-color="#195aff"/><stop offset="0.9833" stop-color="#195aff"/></linearGradient>
<linearGradient id="gF5_0" gradientUnits="userSpaceOnUse" x1="21.5" y1="0" x2="141.5" y2="0"><stop offset="0.0167" stop-color="#5ae66e"/><stop offset="0.0500" stop-color="#1ed2f0"/><stop offset="0.0833" stop-color="#5ae66e"/><stop offset="0.1167" stop-color="#1ed2f0"/><stop offset="0.1500" stop-color="#aaee1e"/><stop offset="0.1833" stop-color="#78e84b"/><stop offset="0.2167" stop-color="#143af8"/><stop offset="0.2500" stop-color="#195aff"/><stop offset="0.2833" stop-color="#23bcf8"/><stop offset="0.3167" stop-color="#28a5ff"/><stop offset="0.3500" stop-color="#1ed2f0"/><stop offset="0.3833" stop-color="#28a5ff"/><stop offset="0.4167" stop-color="#0f19f0"/><stop offset="0.4500" stop-color="#28a5ff"/><stop offset="0.4833" stop-color="#5ae66e"/><stop offset="0.5167" stop-color="#28a5ff"/><stop offset="0.5500" stop-color="#0c13e0"/><stop offset="0.5833" stop-color="#0c13e0"/><stop offset="0.6167" stop-color="#195aff"/><stop offset="0.6500" stop-color="#195aff"/><stop offset="0.6833" stop-color="#195aff"/><stop offset="0.7167" stop-color="#0c13e0"/><stop offset="0.7500" stop-color="#195aff"/><stop offset="0.7833" stop-color="#195aff"/><stop offset="0.8167" stop-color="#0c13e0"/><stop offset="0.8500" stop-color="#0c13e0"/><stop offset="0.8833" stop-color="#0202a4"/><stop offset="0.9167" stop-color="#0202a4"/><stop offset="0.9500" stop-color="#0c13e0"/><stop offset="0.9833" stop-color="#0c13e0"/></linearGradient>
<linearGradient id="gF5_1" gradientUnits="userSpaceOnUse" x1="141.5" y1="0" x2="261.5" y2="0"><stop offset="0.0167" stop-color="#0202a4"/><stop offset="0.0500" stop-color="#0202a4"/><stop offset="0.0833" stop-color="#0202a4"/><stop offset="0.1167" stop-color="#0202a4"/><stop offset="0.1500" stop-color="#0202a4"/><stop offset="0.1833" stop-color="#0202a4"/><stop offset="0.2167" stop-color="#0202a4"/><stop offset="0.2500" stop-color="#0202a4"/><stop offset="0.2833" stop-color="#0202a4"/><stop offset="0.3167" stop-color="#0202a4"/><stop offset="0.3500" stop-color="#0202a4"/><stop offset="0.3833" stop-color="#0202a4"/><stop offset="0.4167" stop-color="#0202a4"/><stop offset="0.4500" stop-color="#0202a4"/><stop offset="0.4833" stop-color="#0202a4"/><stop offset="0.5167" stop-color="#0202a4"/><stop offset="0.5500" stop-color="#0202a4"/><stop offset="0.5833" stop-color="#0202a4"/><stop offset="0.6167" stop-color="#0202a4"/><stop offset="0.6500" stop-color="#0c13e0"/><stop offset="0.6833" stop-color="#0c13e0"/><stop offset="0.7167" stop-color="#0c13e0"/><stop offset="0.7500" stop-color="#0c13e0"/><stop offset="0.7833" stop-color="#0c13e0"/><stop offset="0.8167" stop-color="#0c13e0"/><stop offset="0.8500" stop-color="#0c13e0"/><stop offset="0.8833" stop-color="#0c13e0"/><stop offset="0.9167" stop-color="#0c13e0"/><stop offset="0.9500" stop-color="#0c13e0"/><stop offset="0.9833" stop-color="#0c13e0"/></linearGradient>
<linearGradient id="gF5_2" gradientUnits="userSpaceOnUse" x1="261.5" y1="0" x2="381.5" y2="0"><stop offset="0.0167" stop-color="#0c13e0"/><stop offset="0.0500" stop-color="#0c13e0"/><stop offset="0.0833" stop-color="#0508c2"/><stop offset="0.1167" stop-color="#0508c2"/><stop offset="0.1500" stop-color="#0508c2"/><stop offset="0.1833" stop-color="#0508c2"/><stop offset="0.2167" stop-color="#0508c2"/><stop offset="0.2500" stop-color="#0508c2"/><stop offset="0.2833" stop-color="#0508c2"/><stop offset="0.3167" stop-color="#0508c2"/><stop offset="0.3500" stop-color="#0c13e0"/><stop offset="0.3833" stop-color="#0c13e0"/><stop offset="0.4167" stop-color="#0c13e0"/><stop offset="0.4500" stop-color="#0c13e0"/><stop offset="0.4833" stop-color="#0c13e0"/><stop offset="0.5167" stop-color="#0508c2"/><stop offset="0.5500" stop-color="#0508c2"/><stop offset="0.5833" stop-color="#0508c2"/><stop offset="0.6167" stop-color="#0508c2"/><stop offset="0.6500" stop-color="#0508c2"/><stop offset="0.6833" stop-color="#0c13e0"/><stop offset="0.7167" stop-color="#0c13e0"/><stop offset="0.7500" stop-color="#0c13e0"/><stop offset="0.7833" stop-color="#1ed2f0"/><stop offset="0.8167" stop-color="#96eb28"/><stop offset="0.8500" stop-color="#1ed2f0"/><stop offset="0.8833" stop-color="#195aff"/><stop offset="0.9167" stop-color="#195aff"/><stop offset="0.9500" stop-color="#0c13e0"/><stop offset="0.9833" stop-color="#28a5ff"/></linearGradient>
<linearGradient id="gF5_3" gradientUnits="userSpaceOnUse" x1="381.5" y1="0" x2="501.5" y2="0"><stop offset="0.0167" stop-color="#28a5ff"/><stop offset="0.0500" stop-color="#0f19f0"/><stop offset="0.0833" stop-color="#28a5ff"/><stop offset="0.1167" stop-color="#28a5ff"/><stop offset="0.1500" stop-color="#0f19f0"/><stop offset="0.1833" stop-color="#0202b2"/><stop offset="0.2167" stop-color="#080ed1"/><stop offset="0.2500" stop-color="#0f19f0"/><stop offset="0.2833" stop-color="#2080ff"/><stop offset="0.3167" stop-color="#0f19f0"/><stop offset="0.3500" stop-color="#0f19f0"/><stop offset="0.3833" stop-color="#0f19f0"/><stop offset="0.4167" stop-color="#195aff"/><stop offset="0.4500" stop-color="#0f19f0"/><stop offset="0.4833" stop-color="#0f19f0"/><stop offset="0.5167" stop-color="#0f19f0"/><stop offset="0.5500" stop-color="#1ed2f0"/><stop offset="0.5833" stop-color="#1ed2f0"/><stop offset="0.6167" stop-color="#195aff"/><stop offset="0.6500" stop-color="#5ae66e"/><stop offset="0.6833" stop-color="#5ae66e"/><stop offset="0.7167" stop-color="#5ae66e"/><stop offset="0.7500" stop-color="#1ed2f0"/><stop offset="0.7833" stop-color="#28a5ff"/><stop offset="0.8167" stop-color="#0f19f0"/><stop offset="0.8500" stop-color="#0f19f0"/><stop offset="0.8833" stop-color="#28a5ff"/><stop offset="0.9167" stop-color="#195aff"/><stop offset="0.9500" stop-color="#0f19f0"/><stop offset="0.9833" stop-color="#195aff"/></linearGradient>
<linearGradient id="gF6_0" gradientUnits="userSpaceOnUse" x1="21.5" y1="0" x2="141.5" y2="0"><stop offset="0.0167" stop-color="#28a5ff"/><stop offset="0.0500" stop-color="#aaee1e"/><stop offset="0.0833" stop-color="#28a5ff"/><stop offset="0.1167" stop-color="#1ed2f0"/><stop offset="0.1500" stop-color="#96aa00"/><stop offset="0.1833" stop-color="#96eb28"/><stop offset="0.2167" stop-color="#28a5ff"/><stop offset="0.2500" stop-color="#143af8"/><stop offset="0.2833" stop-color="#5ae66e"/><stop offset="0.3167" stop-color="#1ed2f0"/><stop offset="0.3500" stop-color="#1ed2f0"/><stop offset="0.3833" stop-color="#5ae66e"/><stop offset="0.4167" stop-color="#0f19f0"/><stop offset="0.4500" stop-color="#1ed2f0"/><stop offset="0.4833" stop-color="#96eb28"/><stop offset="0.5167" stop-color="#28a5ff"/><stop offset="0.5500" stop-color="#0c13e0"/><stop offset="0.5833" stop-color="#0c13e0"/><stop offset="0.6167" stop-color="#0c13e0"/><stop offset="0.6500" stop-color="#0c13e0"/><stop offset="0.6833" stop-color="#195aff"/><stop offset="0.7167" stop-color="#0c13e0"/><stop offset="0.7500" stop-color="#195aff"/><stop offset="0.7833" stop-color="#0c13e0"/><stop offset="0.8167" stop-color="#0c13e0"/><stop offset="0.8500" stop-color="#0202a4"/><stop offset="0.8833" stop-color="#0202a4"/><stop offset="0.9167" stop-color="#0202a4"/><stop offset="0.9500" stop-color="#0202a4"/><stop offset="0.9833" stop-color="#0202a4"/></linearGradient>
<linearGradient id="gF6_1" gradientUnits="userSpaceOnUse" x1="141.5" y1="0" x2="261.5" y2="0"><stop offset="0.0167" stop-color="#0202a4"/><stop offset="0.0500" stop-color="#0202a4"/><stop offset="0.0833" stop-color="#0202a4"/><stop offset="0.1167" stop-color="#0202a4"/><stop offset="0.1500" stop-color="#0202a4"/><stop offset="0.1833" stop-color="#0202a4"/><stop offset="0.2167" stop-color="#0202a4"/><stop offset="0.2500" stop-color="#0202a4"/><stop offset="0.2833" stop-color="#0202a4"/><stop offset="0.3167" stop-color="#0202a4"/><stop offset="0.3500" stop-color="#0202a4"/><stop offset="0.3833" stop-color="#0202a4"/><stop offset="0.4167" stop-color="#0202a4"/><stop offset="0.4500" stop-color="#0202a4"/><stop offset="0.4833" stop-color="#0202a4"/><stop offset="0.5167" stop-color="#0202a4"/><stop offset="0.5500" stop-color="#0202a4"/><stop offset="0.5833" stop-color="#0202a4"/><stop offset="0.6167" stop-color="#0202a4"/><stop offset="0.6500" stop-color="#0202a4"/><stop offset="0.6833" stop-color="#0508c2"/><stop offset="0.7167" stop-color="#0508c2"/><stop offset="0.7500" stop-color="#0508c2"/><stop offset="0.7833" stop-color="#0508c2"/><stop offset="0.8167" stop-color="#0508c2"/><stop offset="0.8500" stop-color="#0508c2"/><stop offset="0.8833" stop-color="#0508c2"/><stop offset="0.9167" stop-color="#0508c2"/><stop offset="0.9500" stop-color="#0508c2"/><stop offset="0.9833" stop-color="#0508c2"/></linearGradient>
<linearGradient id="gF6_2" gradientUnits="userSpaceOnUse" x1="261.5" y1="0" x2="381.5" y2="0"><stop offset="0.0167" stop-color="#0202a4"/><stop offset="0.0500" stop-color="#0202a4"/><stop offset="0.0833" stop-color="#0202a4"/><stop offset="0.1167" stop-color="#0202a4"/><stop offset="0.1500" stop-color="#0202a4"/><stop offset="0.1833" stop-color="#0202a4"/><stop offset="0.2167" stop-color="#0202a4"/><stop offset="0.2500" stop-color="#0202a4"/><stop offset="0.2833" stop-color="#0202a4"/><stop offset="0.3167" stop-color="#0202a4"/><stop offset="0.3500" stop-color="#0202a4"/><stop offset="0.3833" stop-color="#0202a4"/><stop offset="0.4167" stop-color="#0202a4"/><stop offset="0.4500" stop-color="#0202a4"/><stop offset="0.4833" stop-color="#0202a4"/><stop offset="0.5167" stop-color="#0202a4"/><stop offset="0.5500" stop-color="#0202a4"/><stop offset="0.5833" stop-color="#0202a4"/><stop offset="0.6167" stop-color="#0202a4"/><stop offset="0.6500" stop-color="#0202a4"/><stop offset="0.6833" stop-color="#0c13e0"/><stop offset="0.7167" stop-color="#0508c2"/><stop offset="0.7500" stop-color="#0c13e0"/><stop offset="0.7833" stop-color="#1ed2f0"/><stop offset="0.8167" stop-color="#78e84b"/><stop offset="0.8500" stop-color="#28a5ff"/><stop offset="0.8833" stop-color="#195aff"/><stop offset="0.9167" stop-color="#195aff"/><stop offset="0.9500" stop-color="#0c13e0"/><stop offset="0.9833" stop-color="#195aff"/></linearGradient>
<linearGradient id="gF6_3" gradientUnits="userSpaceOnUse" x1="381.5" y1="0" x2="501.5" y2="0"><stop offset="0.0167" stop-color="#195aff"/><stop offset="0.0500" stop-color="#0f19f0"/><stop offset="0.0833" stop-color="#195aff"/><stop offset="0.1167" stop-color="#0f19f0"/><stop offset="0.1500" stop-color="#0202b2"/><stop offset="0.1833" stop-color="#0202b2"/><stop offset="0.2167" stop-color="#080ed1"/><stop offset="0.2500" stop-color="#0f19f0"/><stop offset="0.2833" stop-color="#195aff"/><stop offset="0.3167" stop-color="#0f19f0"/><stop offset="0.3500" stop-color="#195aff"/><stop offset="0.3833" stop-color="#0f19f0"/><stop offset="0.4167" stop-color="#0f19f0"/><stop offset="0.4500" stop-color="#0f19f0"/><stop offset="0.4833" stop-color="#0f19f0"/><stop offset="0.5167" stop-color="#28a5ff"/><stop offset="0.5500" stop-color="#5ae66e"/><stop offset="0.5833" stop-color="#1ed2f0"/><stop offset="0.6167" stop-color="#195aff"/><stop offset="0.6500" stop-color="#96eb28"/><stop offset="0.6833" stop-color="#78e84b"/><stop offset="0.7167" stop-color="#1ed2f0"/><stop offset="0.7500" stop-color="#28a5ff"/><stop offset="0.7833" stop-color="#195aff"/><stop offset="0.8167" stop-color="#0f19f0"/><stop offset="0.8500" stop-color="#0f19f0"/><stop offset="0.8833" stop-color="#28a5ff"/><stop offset="0.9167" stop-color="#195aff"/><stop offset="0.9500" stop-color="#0f19f0"/><stop offset="0.9833" stop-color="#195aff"/></linearGradient>
<linearGradient id="gF7_0" gradientUnits="userSpaceOnUse" x1="21.5" y1="0" x2="141.5" y2="0"><stop offset="0.0167" stop-color="#28a5ff"/><stop offset="0.0500" stop-color="#bef014"/><stop offset="0.0833" stop-color="#28a5ff"/><stop offset="0.1167" stop-color="#96aa00"/><stop offset="0.1500" stop-color="#bef014"/><stop offset="0.1833" stop-color="#96eb28"/><stop offset="0.2167" stop-color="#96aa00"/><stop offset="0.2500" stop-color="#bef014"/><stop offset="0.2833" stop-color="#195aff"/><stop offset="0.3167" stop-color="#0f19f0"/><stop offset="0.3500" stop-color="#28a5ff"/><stop offset="0.3833" stop-color="#5ae66e"/><stop offset="0.4167" stop-color="#28a5ff"/><stop offset="0.4500" stop-color="#96eb28"/><stop offset="0.4833" stop-color="#5ae66e"/><stop offset="0.5167" stop-color="#195aff"/><stop offset="0.5500" stop-color="#080cce"/><stop offset="0.5833" stop-color="#080cce"/><stop offset="0.6167" stop-color="#080cce"/><stop offset="0.6500" stop-color="#080cce"/><stop offset="0.6833" stop-color="#195aff"/><stop offset="0.7167" stop-color="#080cce"/><stop offset="0.7500" stop-color="#080cce"/><stop offset="0.7833" stop-color="#080cce"/><stop offset="0.8167" stop-color="#0202a9"/><stop offset="0.8500" stop-color="#0202a9"/><stop offset="0.8833" stop-color="#0202a9"/><stop offset="0.9167" stop-color="#0202a9"/><stop offset="0.9500" stop-color="#0202a9"/><stop offset="0.9833" stop-color="#0202a9"/></linearGradient>
<linearGradient id="gF7_1" gradientUnits="userSpaceOnUse" x1="141.5" y1="0" x2="261.5" y2="0"><stop offset="0.0167" stop-color="#0202a4"/><stop offset="0.0500" stop-color="#0202a4"/><stop offset="0.0833" stop-color="#0202a4"/><stop offset="0.1167" stop-color="#0202a4"/><stop offset="0.1500" stop-color="#0202a4"/><stop offset="0.1833" stop-color="#0202a4"/><stop offset="0.2167" stop-color="#0202a4"/><stop offset="0.2500" stop-color="#0202a4"/><stop offset="0.2833" stop-color="#0202a4"/><stop offset="0.3167" stop-color="#0202a4"/><stop offset="0.3500" stop-color="#0202a4"/><stop offset="0.3833" stop-color="#0202a4"/><stop offset="0.4167" stop-color="#0202a4"/><stop offset="0.4500" stop-color="#0202a4"/><stop offset="0.4833" stop-color="#0202a4"/><stop offset="0.5167" stop-color="#0202a4"/><stop offset="0.5500" stop-color="#0202a4"/><stop offset="0.5833" stop-color="#0202a4"/><stop offset="0.6167" stop-color="#0202a4"/><stop offset="0.6500" stop-color="#0202a4"/><stop offset="0.6833" stop-color="#0202a9"/><stop offset="0.7167" stop-color="#0202a9"/><stop offset="0.7500" stop-color="#0202a9"/><stop offset="0.7833" stop-color="#0202a9"/><stop offset="0.8167" stop-color="#0202a9"/><stop offset="0.8500" stop-color="#0202a9"/><stop offset="0.8833" stop-color="#0202a9"/><stop offset="0.9167" stop-color="#0202a9"/><stop offset="0.9500" stop-color="#0202a9"/><stop offset="0.9833" stop-color="#0202a9"/></linearGradient>
<linearGradient id="gF7_2" gradientUnits="userSpaceOnUse" x1="261.5" y1="0" x2="381.5" y2="0"><stop offset="0.0167" stop-color="#0202a4"/><stop offset="0.0500" stop-color="#0202a4"/><stop offset="0.0833" stop-color="#0202a4"/><stop offset="0.1167" stop-color="#0202a4"/><stop offset="0.1500" stop-color="#0202a4"/><stop offset="0.1833" stop-color="#0202a4"/><stop offset="0.2167" stop-color="#0202a4"/><stop offset="0.2500" stop-color="#0202a4"/><stop offset="0.2833" stop-color="#0202a4"/><stop offset="0.3167" stop-color="#0202a4"/><stop offset="0.3500" stop-color="#0202a4"/><stop offset="0.3833" stop-color="#0202a4"/><stop offset="0.4167" stop-color="#0202a4"/><stop offset="0.4500" stop-color="#0202a4"/><stop offset="0.4833" stop-color="#0202a4"/><stop offset="0.5167" stop-color="#0202a4"/><stop offset="0.5500" stop-color="#0202a4"/><stop offset="0.5833" stop-color="#0202a4"/><stop offset="0.6167" stop-color="#0202a4"/><stop offset="0.6500" stop-color="#0202a4"/><stop offset="0.6833" stop-color="#0203b4"/><stop offset="0.7167" stop-color="#0203b4"/><stop offset="0.7500" stop-color="#0203b4"/><stop offset="0.7833" stop-color="#195aff"/><stop offset="0.8167" stop-color="#28a5ff"/><stop offset="0.8500" stop-color="#195aff"/><stop offset="0.8833" stop-color="#195aff"/><stop offset="0.9167" stop-color="#2080ff"/><stop offset="0.9500" stop-color="#0c14e4"/><stop offset="0.9833" stop-color="#0c14e4"/></linearGradient>
<linearGradient id="gF7_3" gradientUnits="userSpaceOnUse" x1="381.5" y1="0" x2="501.5" y2="0"><stop offset="0.0167" stop-color="#0c14e4"/><stop offset="0.0500" stop-color="#195aff"/><stop offset="0.0833" stop-color="#195aff"/><stop offset="0.1167" stop-color="#0c14e4"/><stop offset="0.1500" stop-color="#0c14e4"/><stop offset="0.1833" stop-color="#0c14e4"/><stop offset="0.2167" stop-color="#0c14e4"/><stop offset="0.2500" stop-color="#0c14e4"/><stop offset="0.2833" stop-color="#195aff"/><stop offset="0.3167" stop-color="#0c14e4"/><stop offset="0.3500" stop-color="#0c14e4"/><stop offset="0.3833" stop-color="#1021f2"/><stop offset="0.4167" stop-color="#0c14e4"/><stop offset="0.4500" stop-color="#0c14e4"/><stop offset="0.4833" stop-color="#0c14e4"/><stop offset="0.5167" stop-color="#195aff"/><stop offset="0.5500" stop-color="#5ae66e"/><stop offset="0.5833" stop-color="#1ed2f0"/><stop offset="0.6167" stop-color="#195aff"/><stop offset="0.6500" stop-color="#5ae66e"/><stop offset="0.6833" stop-color="#96eb28"/><stop offset="0.7167" stop-color="#28a5ff"/><stop offset="0.7500" stop-color="#195aff"/><stop offset="0.7833" stop-color="#28a5ff"/><stop offset="0.8167" stop-color="#0c14e4"/><stop offset="0.8500" stop-color="#195aff"/><stop offset="0.8833" stop-color="#28a5ff"/><stop offset="0.9167" stop-color="#0c14e4"/><stop offset="0.9500" stop-color="#0c14e4"/><stop offset="0.9833" stop-color="#195aff"/></linearGradient>
<linearGradient id="gF8_0" gradientUnits="userSpaceOnUse" x1="21.5" y1="0" x2="141.5" y2="0"><stop offset="0.0167" stop-color="#195aff"/><stop offset="0.0500" stop-color="#78e84b"/><stop offset="0.0833" stop-color="#195aff"/><stop offset="0.1167" stop-color="#505a00"/><stop offset="0.1500" stop-color="#bef014"/><stop offset="0.1833" stop-color="#28a5ff"/><stop offset="0.2167" stop-color="#505a00"/><stop offset="0.2500" stop-color="#bef014"/><stop offset="0.2833" stop-color="#195aff"/><stop offset="0.3167" stop-color="#0f19f0"/><stop offset="0.3500" stop-color="#195aff"/><stop offset="0.3833" stop-color="#1ed2f0"/><stop offset="0.4167" stop-color="#0507be"/><stop offset="0.4500" stop-color="#5ae66e"/><stop offset="0.4833" stop-color="#28a5ff"/><stop offset="0.5167" stop-color="#0202af"/><stop offset="0.5500" stop-color="#0202af"/><stop offset="0.5833" stop-color="#0202af"/><stop offset="0.6167" stop-color="#0202af"/><stop offset="0.6500" stop-color="#0202af"/><stop offset="0.6833" stop-color="#0202af"/><stop offset="0.7167" stop-color="#0202af"/><stop offset="0.7500" stop-color="#01019b"/><stop offset="0.7833" stop-color="#01019b"/><stop offset="0.8167" stop-color="#01019b"/><stop offset="0.8500" stop-color="#01019b"/><stop offset="0.8833" stop-color="#01019b"/><stop offset="0.9167" stop-color="#01019b"/><stop offset="0.9500" stop-color="#01019b"/><stop offset="0.9833" stop-color="#01019b"/></linearGradient>
<linearGradient id="gF8_1" gradientUnits="userSpaceOnUse" x1="141.5" y1="0" x2="261.5" y2="0"><stop offset="0.0167" stop-color="#010194"/><stop offset="0.0500" stop-color="#010194"/><stop offset="0.0833" stop-color="#010194"/><stop offset="0.1167" stop-color="#010194"/><stop offset="0.1500" stop-color="#010194"/><stop offset="0.1833" stop-color="#010194"/><stop offset="0.2167" stop-color="#010194"/><stop offset="0.2500" stop-color="#010194"/><stop offset="0.2833" stop-color="#010194"/><stop offset="0.3167" stop-color="#010194"/><stop offset="0.3500" stop-color="#010194"/><stop offset="0.3833" stop-color="#010194"/><stop offset="0.4167" stop-color="#010194"/><stop offset="0.4500" stop-color="#010194"/><stop offset="0.4833" stop-color="#010194"/><stop offset="0.5167" stop-color="#010194"/><stop offset="0.5500" stop-color="#010194"/><stop offset="0.5833" stop-color="#010194"/><stop offset="0.6167" stop-color="#010194"/><stop offset="0.6500" stop-color="#010194"/><stop offset="0.6833" stop-color="#010194"/><stop offset="0.7167" stop-color="#010194"/><stop offset="0.7500" stop-color="#010194"/><stop offset="0.7833" stop-color="#010194"/><stop offset="0.8167" stop-color="#010194"/><stop offset="0.8500" stop-color="#010194"/><stop offset="0.8833" stop-color="#010194"/><stop offset="0.9167" stop-color="#010194"/><stop offset="0.9500" stop-color="#010194"/><stop offset="0.9833" stop-color="#010194"/></linearGradient>
<linearGradient id="gF8_2" gradientUnits="userSpaceOnUse" x1="261.5" y1="0" x2="381.5" y2="0"><stop offset="0.0167" stop-color="#010194"/><stop offset="0.0500" stop-color="#010194"/><stop offset="0.0833" stop-color="#010194"/><stop offset="0.1167" stop-color="#010194"/><stop offset="0.1500" stop-color="#010194"/><stop offset="0.1833" stop-color="#010194"/><stop offset="0.2167" stop-color="#010194"/><stop offset="0.2500" stop-color="#010194"/><stop offset="0.2833" stop-color="#010194"/><stop offset="0.3167" stop-color="#010194"/><stop offset="0.3500" stop-color="#010194"/><stop offset="0.3833" stop-color="#010194"/><stop offset="0.4167" stop-color="#010194"/><stop offset="0.4500" stop-color="#010194"/><stop offset="0.4833" stop-color="#010194"/><stop offset="0.5167" stop-color="#010194"/><stop offset="0.5500" stop-color="#010194"/><stop offset="0.5833" stop-color="#010194"/><stop offset="0.6167" stop-color="#010194"/><stop offset="0.6500" stop-color="#010194"/><stop offset="0.6833" stop-color="#0202ac"/><stop offset="0.7167" stop-color="#0202ac"/><stop offset="0.7500" stop-color="#0202ac"/><stop offset="0.7833" stop-color="#0202af"/><stop offset="0.8167" stop-color="#195aff"/><stop offset="0.8500" stop-color="#0202af"/><stop offset="0.8833" stop-color="#0508c2"/><stop offset="0.9167" stop-color="#28a5ff"/><stop offset="0.9500" stop-color="#0a10d7"/><stop offset="0.9833" stop-color="#0a10d7"/></linearGradient>
<linearGradient id="gF8_3" gradientUnits="userSpaceOnUse" x1="381.5" y1="0" x2="501.5" y2="0"><stop offset="0.0167" stop-color="#0a10d7"/><stop offset="0.0500" stop-color="#195aff"/><stop offset="0.0833" stop-color="#0a10d7"/><stop offset="0.1167" stop-color="#0a10d7"/><stop offset="0.1500" stop-color="#0a10d7"/><stop offset="0.1833" stop-color="#0a10d7"/><stop offset="0.2167" stop-color="#0a10d7"/><stop offset="0.2500" stop-color="#0a10d7"/><stop offset="0.2833" stop-color="#0a10d7"/><stop offset="0.3167" stop-color="#0a10d7"/><stop offset="0.3500" stop-color="#0a10d7"/><stop offset="0.3833" stop-color="#0a10d7"/><stop offset="0.4167" stop-color="#0a10d7"/><stop offset="0.4500" stop-color="#0a10d7"/><stop offset="0.4833" stop-color="#0a10d7"/><stop offset="0.5167" stop-color="#195aff"/><stop offset="0.5500" stop-color="#28a5ff"/><stop offset="0.5833" stop-color="#28a5ff"/><stop offset="0.6167" stop-color="#195aff"/><stop offset="0.6500" stop-color="#28a5ff"/><stop offset="0.6833" stop-color="#1ed2f0"/><stop offset="0.7167" stop-color="#0a10d7"/><stop offset="0.7500" stop-color="#195aff"/><stop offset="0.7833" stop-color="#195aff"/><stop offset="0.8167" stop-color="#0a10d7"/><stop offset="0.8500" stop-color="#0a10d7"/><stop offset="0.8833" stop-color="#28a5ff"/><stop offset="0.9167" stop-color="#0a10d7"/><stop offset="0.9500" stop-color="#0a10d7"/><stop offset="0.9833" stop-color="#0a10d7"/></linearGradient>
<linearGradient id="gF9_0" gradientUnits="userSpaceOnUse" x1="21.5" y1="0" x2="141.5" y2="0"><stop offset="0.0167" stop-color="#2080ff"/><stop offset="0.0500" stop-color="#2080ff"/><stop offset="0.0833" stop-color="#195aff"/><stop offset="0.1167" stop-color="#28a5ff"/><stop offset="0.1500" stop-color="#23bcf8"/><stop offset="0.1833" stop-color="#195aff"/><stop offset="0.2167" stop-color="#96eb28"/><stop offset="0.2500" stop-color="#78e84b"/><stop offset="0.2833" stop-color="#0f19f0"/><stop offset="0.3167" stop-color="#0f19f0"/><stop offset="0.3500" stop-color="#01019b"/><stop offset="0.3833" stop-color="#28a5ff"/><stop offset="0.4167" stop-color="#28a5ff"/><stop offset="0.4500" stop-color="#195aff"/><stop offset="0.4833" stop-color="#01019b"/><stop offset="0.5167" stop-color="#01019b"/><stop offset="0.5500" stop-color="#010189"/><stop offset="0.5833" stop-color="#010189"/><stop offset="0.6167" stop-color="#010189"/><stop offset="0.6500" stop-color="#010189"/><stop offset="0.6833" stop-color="#010189"/><stop offset="0.7167" stop-color="#010189"/><stop offset="0.7500" stop-color="#010189"/><stop offset="0.7833" stop-color="#010189"/><stop offset="0.8167" stop-color="#010189"/><stop offset="0.8500" stop-color="#010189"/><stop offset="0.8833" stop-color="#010189"/><stop offset="0.9167" stop-color="#010189"/><stop offset="0.9500" stop-color="#010189"/><stop offset="0.9833" stop-color="#010189"/></linearGradient>
<linearGradient id="gF9_1" gradientUnits="userSpaceOnUse" x1="141.5" y1="0" x2="261.5" y2="0"><stop offset="0.0167" stop-color="#000086"/><stop offset="0.0500" stop-color="#000086"/><stop offset="0.0833" stop-color="#000086"/><stop offset="0.1167" stop-color="#000086"/><stop offset="0.1500" stop-color="#000086"/><stop offset="0.1833" stop-color="#000086"/><stop offset="0.2167" stop-color="#000086"/><stop offset="0.2500" stop-color="#000086"/><stop offset="0.2833" stop-color="#000086"/><stop offset="0.3167" stop-color="#000086"/><stop offset="0.3500" stop-color="#000086"/><stop offset="0.3833" stop-color="#000086"/><stop offset="0.4167" stop-color="#000086"/><stop offset="0.4500" stop-color="#000086"/><stop offset="0.4833" stop-color="#000086"/><stop offset="0.5167" stop-color="#000086"/><stop offset="0.5500" stop-color="#000086"/><stop offset="0.5833" stop-color="#000086"/><stop offset="0.6167" stop-color="#000086"/><stop offset="0.6500" stop-color="#000086"/><stop offset="0.6833" stop-color="#000084"/><stop offset="0.7167" stop-color="#000084"/><stop offset="0.7500" stop-color="#000084"/><stop offset="0.7833" stop-color="#000084"/><stop offset="0.8167" stop-color="#000084"/><stop offset="0.8500" stop-color="#000084"/><stop offset="0.8833" stop-color="#000084"/><stop offset="0.9167" stop-color="#000084"/><stop offset="0.9500" stop-color="#000084"/><stop offset="0.9833" stop-color="#000084"/></linearGradient>
<linearGradient id="gF9_2" gradientUnits="userSpaceOnUse" x1="261.5" y1="0" x2="381.5" y2="0"><stop offset="0.0167" stop-color="#000086"/><stop offset="0.0500" stop-color="#000086"/><stop offset="0.0833" stop-color="#000086"/><stop offset="0.1167" stop-color="#000086"/><stop offset="0.1500" stop-color="#000086"/><stop offset="0.1833" stop-color="#000086"/><stop offset="0.2167" stop-color="#000086"/><stop offset="0.2500" stop-color="#000086"/><stop offset="0.2833" stop-color="#000086"/><stop offset="0.3167" stop-color="#000086"/><stop offset="0.3500" stop-color="#000086"/><stop offset="0.3833" stop-color="#000086"/><stop offset="0.4167" stop-color="#000086"/><stop offset="0.4500" stop-color="#000086"/><stop offset="0.4833" stop-color="#000086"/><stop offset="0.5167" stop-color="#000086"/><stop offset="0.5500" stop-color="#000086"/><stop offset="0.5833" stop-color="#000086"/><stop offset="0.6167" stop-color="#000086"/><stop offset="0.6500" stop-color="#000086"/><stop offset="0.6833" stop-color="#010189"/><stop offset="0.7167" stop-color="#010189"/><stop offset="0.7500" stop-color="#010189"/><stop offset="0.7833" stop-color="#010192"/><stop offset="0.8167" stop-color="#01019b"/><stop offset="0.8500" stop-color="#01019b"/><stop offset="0.8833" stop-color="#01019b"/><stop offset="0.9167" stop-color="#195aff"/><stop offset="0.9500" stop-color="#0507be"/><stop offset="0.9833" stop-color="#0507be"/></linearGradient>
<linearGradient id="gF9_3" gradientUnits="userSpaceOnUse" x1="381.5" y1="0" x2="501.5" y2="0"><stop offset="0.0167" stop-color="#0507be"/><stop offset="0.0500" stop-color="#0507be"/><stop offset="0.0833" stop-color="#0507be"/><stop offset="0.1167" stop-color="#0507be"/><stop offset="0.1500" stop-color="#0507be"/><stop offset="0.1833" stop-color="#0507be"/><stop offset="0.2167" stop-color="#0507be"/><stop offset="0.2500" stop-color="#0507be"/><stop offset="0.2833" stop-color="#0507be"/><stop offset="0.3167" stop-color="#0507be"/><stop offset="0.3500" stop-color="#0507be"/><stop offset="0.3833" stop-color="#0507be"/><stop offset="0.4167" stop-color="#0507be"/><stop offset="0.4500" stop-color="#0507be"/><stop offset="0.4833" stop-color="#0507be"/><stop offset="0.5167" stop-color="#0507be"/><stop offset="0.5500" stop-color="#195aff"/><stop offset="0.5833" stop-color="#195aff"/><stop offset="0.6167" stop-color="#0507be"/><stop offset="0.6500" stop-color="#0507be"/><stop offset="0.6833" stop-color="#0507be"/><stop offset="0.7167" stop-color="#0507be"/><stop offset="0.7500" stop-color="#0507be"/><stop offset="0.7833" stop-color="#0507be"/><stop offset="0.8167" stop-color="#0507be"/><stop offset="0.8500" stop-color="#0507be"/><stop offset="0.8833" stop-color="#0507be"/><stop offset="0.9167" stop-color="#0507be"/><stop offset="0.9500" stop-color="#0507be"/><stop offset="0.9833" stop-color="#0507be"/></linearGradient>
<g clip-path="url(#clipF)"><g filter="url(#blurF)">
<rect x="15.5" y="359.10" width="126.4" height="46.40" fill="url(#gF0_0)"/>
<rect x="141.5" y="359.10" width="120.4" height="46.40" fill="url(#gF0_1)"/>
<rect x="261.5" y="359.10" width="120.4" height="46.40" fill="url(#gF0_2)"/>
<rect x="381.5" y="359.10" width="126.0" height="46.40" fill="url(#gF0_3)"/>
<rect x="15.5" y="366.94" width="126.4" height="38.56" fill="url(#gF1_0)"/>
<rect x="141.5" y="366.94" width="120.4" height="38.56" fill="url(#gF1_1)"/>
<rect x="261.5" y="366.94" width="120.4" height="38.56" fill="url(#gF1_2)"/>
<rect x="381.5" y="366.94" width="126.0" height="38.56" fill="url(#gF1_3)"/>
<rect x="15.5" y="370.78" width="126.4" height="34.72" fill="url(#gF2_0)"/>
<rect x="141.5" y="370.78" width="120.4" height="34.72" fill="url(#gF2_1)"/>
<rect x="261.5" y="370.78" width="120.4" height="34.72" fill="url(#gF2_2)"/>
<rect x="381.5" y="370.78" width="126.0" height="34.72" fill="url(#gF2_3)"/>
<rect x="15.5" y="374.62" width="126.4" height="30.88" fill="url(#gF3_0)"/>
<rect x="141.5" y="374.62" width="120.4" height="30.88" fill="url(#gF3_1)"/>
<rect x="261.5" y="374.62" width="120.4" height="30.88" fill="url(#gF3_2)"/>
<rect x="381.5" y="374.62" width="126.0" height="30.88" fill="url(#gF3_3)"/>
<rect x="15.5" y="378.46" width="126.4" height="27.04" fill="url(#gF4_0)"/>
<rect x="141.5" y="378.46" width="120.4" height="27.04" fill="url(#gF4_1)"/>
<rect x="261.5" y="378.46" width="120.4" height="27.04" fill="url(#gF4_2)"/>
<rect x="381.5" y="378.46" width="126.0" height="27.04" fill="url(#gF4_3)"/>
<rect x="15.5" y="382.30" width="126.4" height="23.20" fill="url(#gF5_0)"/>
<rect x="141.5" y="382.30" width="120.4" height="23.20" fill="url(#gF5_1)"/>
<rect x="261.5" y="382.30" width="120.4" height="23.20" fill="url(#gF5_2)"/>
<rect x="381.5" y="382.30" width="126.0" height="23.20" fill="url(#gF5_3)"/>
<rect x="15.5" y="386.14" width="126.4" height="19.36" fill="url(#gF6_0)"/>
<rect x="141.5" y="386.14" width="120.4" height="19.36" fill="url(#gF6_1)"/>
<rect x="261.5" y="386.14" width="120.4" height="19.36" fill="url(#gF6_2)"/>
<rect x="381.5" y="386.14" width="126.0" height="19.36" fill="url(#gF6_3)"/>
<rect x="15.5" y="389.98" width="126.4" height="15.52" fill="url(#gF7_0)"/>
<rect x="141.5" y="389.98" width="120.4" height="15.52" fill="url(#gF7_1)"/>
<rect x="261.5" y="389.98" width="120.4" height="15.52" fill="url(#gF7_2)"/>
<rect x="381.5" y="389.98" width="126.0" height="15.52" fill="url(#gF7_3)"/>
<rect x="15.5" y="393.82" width="126.4" height="11.68" fill="url(#gF8_0)"/>
<rect x="141.5" y="393.82" width="120.4" height="11.68" fill="url(#gF8_1)"/>
<rect x="261.5" y="393.82" width="120.4" height="11.68" fill="url(#gF8_2)"/>
<rect x="381.5" y="393.82" width="126.0" height="11.68" fill="url(#gF8_3)"/>
<rect x="15.5" y="397.66" width="126.4" height="7.84" fill="url(#gF9_0)"/>
<rect x="141.5" y="397.66" width="120.4" height="7.84" fill="url(#gF9_1)"/>
<rect x="261.5" y="397.66" width="120.4" height="7.84" fill="url(#gF9_2)"/>
<rect x="381.5" y="397.66" width="126.0" height="7.84" fill="url(#gF9_3)"/>
</g></g>
<text x="18.4" y="367.35" font-family="Liberation Sans, Arial, sans-serif" font-size="5.7" fill="#262626" text-anchor="end">50</text>
<text x="18.4" y="374.75" font-family="Liberation Sans, Arial, sans-serif" font-size="5.7" fill="#262626" text-anchor="end">40</text>
<text x="18.4" y="382.25" font-family="Liberation Sans, Arial, sans-serif" font-size="5.7" fill="#262626" text-anchor="end">30</text>
<text x="18.4" y="389.85" font-family="Liberation Sans, Arial, sans-serif" font-size="5.7" fill="#262626" text-anchor="end">20</text>
<text x="18.4" y="397.35" font-family="Liberation Sans, Arial, sans-serif" font-size="5.7" fill="#262626" text-anchor="end">10</text>
<text x="109.45" y="409.6" font-family="Liberation Sans, Arial, sans-serif" font-size="5.7" fill="#262626" text-anchor="middle">500</text>
<text x="197.65" y="409.6" font-family="Liberation Sans, Arial, sans-serif" font-size="5.7" fill="#262626" text-anchor="middle">1000</text>
<text x="285.85" y="409.6" font-family="Liberation Sans, Arial, sans-serif" font-size="5.7" fill="#262626" text-anchor="middle">1500</text>
<text x="374.05" y="409.6" font-family="Liberation Sans, Arial, sans-serif" font-size="5.7" fill="#262626" text-anchor="middle">2000</text>
<text x="462.25" y="409.6" font-family="Liberation Sans, Arial, sans-serif" font-size="5.7" fill="#262626" text-anchor="middle">2500</text>
<rect x="21.5" y="363.1" width="478.0" height="38.4" fill="none" stroke="#333355" stroke-width="0.7"/>
<text x="260.5" y="360.1" font-family="Liberation Sans, Arial, sans-serif" font-size="6.8" font-weight="bold" fill="#000" text-anchor="middle">Wavelet pattern of JT - RR (Panel F)</text>
<linearGradient id="cbE" x1="0" y1="0" x2="0" y2="1"><stop offset="0" stop-color="#2014c8"/><stop offset="0.1" stop-color="#3c3ce1"/><stop offset="0.25" stop-color="#7070e6"/><stop offset="0.37" stop-color="#aaa6ee"/><stop offset="0.47" stop-color="#ebe6f0"/><stop offset="0.53" stop-color="#f2ece6"/><stop offset="0.6" stop-color="#e3c8b4"/><stop offset="0.72" stop-color="#c8966e"/><stop offset="0.86" stop-color="#a0642d"/><stop offset="1" stop-color="#7a4414"/></linearGradient>
<rect x="521.3" y="297.1" width="11.5" height="45.6" fill="url(#cbE)" stroke="#666" stroke-width="0.5"/>
<text x="534.6" y="307.55" font-family="Liberation Sans, Arial, sans-serif" font-size="5.7" fill="#262626">0.2</text>
<text x="534.6" y="321.85" font-family="Liberation Sans, Arial, sans-serif" font-size="5.7" fill="#262626">0</text>
<text x="534.6" y="336.15000000000003" font-family="Liberation Sans, Arial, sans-serif" font-size="5.7" fill="#262626">-0.2</text>
<linearGradient id="cbF" x1="0" y1="0" x2="0" y2="1"><stop offset="0" stop-color="#6e1400"/><stop offset="0.1" stop-color="#aa280a"/><stop offset="0.18" stop-color="#c84100"/><stop offset="0.23" stop-color="#e18700"/><stop offset="0.3" stop-color="#ebd700"/><stop offset="0.38" stop-color="#bee10a"/><stop offset="0.45" stop-color="#78d228"/><stop offset="0.55" stop-color="#3caf8c"/><stop offset="0.65" stop-color="#3287e6"/><stop offset="0.76" stop-color="#1e2de6"/><stop offset="0.87" stop-color="#0f05c8"/><stop offset="1" stop-color="#140082"/></linearGradient>
<rect x="520.1" y="358.8" width="10" height="46.1" fill="url(#cbF)" stroke="#444" stroke-width="0.5"/>
<text x="532.2" y="366.55" font-family="Liberation Sans, Arial, sans-serif" font-size="5.7" fill="#262626">0.25</text>
<text x="532.2" y="374.85" font-family="Liberation Sans, Arial, sans-serif" font-size="5.7" fill="#262626">0.2</text>
<text x="532.2" y="382.75" font-family="Liberation Sans, Arial, sans-serif" font-size="5.7" fill="#262626">0.15</text>
<text x="532.2" y="391.05" font-family="Liberation Sans, Arial, sans-serif" font-size="5.7" fill="#262626">0.1</text>
<text x="532.2" y="399.25" font-family="Liberation Sans, Arial, sans-serif" font-size="5.7" fill="#262626">0.05</text>
</svg>
</body></html>
